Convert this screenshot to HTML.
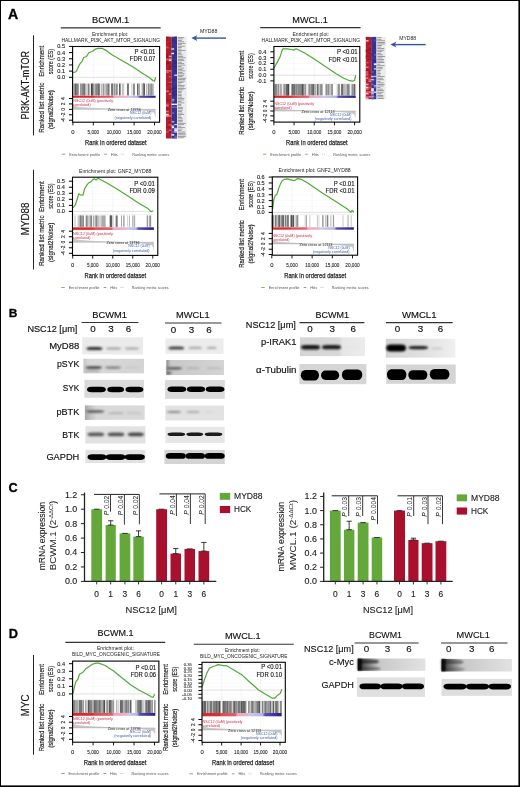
<!DOCTYPE html>
<html><head><meta charset="utf-8"><title>Figure</title>
<style>
html,body{margin:0;padding:0;background:#fff;}
body{width:520px;height:787px;overflow:hidden;}
svg{display:block;}
text{font-family:'Liberation Sans', sans-serif;}
</style></head>
<body>
<svg width="520" height="787" viewBox="0 0 520 787">
<defs>
<filter id="bl1" x="-20%" y="-100%" width="140%" height="300%"><feGaussianBlur stdDeviation="0.9"/></filter>
<filter id="bl2" x="-20%" y="-100%" width="140%" height="300%"><feGaussianBlur stdDeviation="0.5"/></filter>
<filter id="bl3" x="-20%" y="-20%" width="140%" height="140%"><feGaussianBlur stdDeviation="1.6"/></filter>
</defs>
<rect x="0" y="0" width="520" height="787" fill="#fff"/>
<text x="8.10" y="18.50" font-size="14.00" fill="#000" font-weight="bold" textLength="10.20" lengthAdjust="spacingAndGlyphs" stroke="#000" stroke-width="0.3">A</text>
<line x1="93.30" y1="47.50" x2="93.30" y2="83.00" stroke="#ececec" stroke-width="0.5" />
<line x1="93.30" y1="98.80" x2="93.30" y2="121.70" stroke="#f0f0f0" stroke-width="0.5" />
<line x1="113.70" y1="47.50" x2="113.70" y2="83.00" stroke="#ececec" stroke-width="0.5" />
<line x1="113.70" y1="98.80" x2="113.70" y2="121.70" stroke="#f0f0f0" stroke-width="0.5" />
<line x1="134.10" y1="47.50" x2="134.10" y2="83.00" stroke="#ececec" stroke-width="0.5" />
<line x1="134.10" y1="98.80" x2="134.10" y2="121.70" stroke="#f0f0f0" stroke-width="0.5" />
<line x1="72.60" y1="46.40" x2="155.60" y2="46.40" stroke="#f2f2f2" stroke-width="0.4" />
<line x1="72.60" y1="52.58" x2="155.60" y2="52.58" stroke="#f2f2f2" stroke-width="0.4" />
<line x1="72.60" y1="58.76" x2="155.60" y2="58.76" stroke="#f2f2f2" stroke-width="0.4" />
<line x1="72.60" y1="64.94" x2="155.60" y2="64.94" stroke="#f2f2f2" stroke-width="0.4" />
<line x1="72.60" y1="71.12" x2="155.60" y2="71.12" stroke="#f2f2f2" stroke-width="0.4" />
<line x1="72.60" y1="77.30" x2="155.60" y2="77.30" stroke="#f2f2f2" stroke-width="0.4" />
<line x1="72.60" y1="77.30" x2="155.60" y2="77.30" stroke="#d0d0d0" stroke-width="0.6" />
<line x1="72.60" y1="83.00" x2="155.60" y2="83.00" stroke="#e4e4e4" stroke-width="0.6" />
<line x1="92.58" y1="83.70" x2="92.58" y2="95.40" stroke="#999" stroke-width="0.76"/>
<line x1="112.10" y1="83.70" x2="112.10" y2="95.40" stroke="#222" stroke-width="0.76"/>
<line x1="111.71" y1="83.70" x2="111.71" y2="95.40" stroke="#777" stroke-width="0.80"/>
<line x1="111.79" y1="83.70" x2="111.79" y2="95.40" stroke="#555" stroke-width="0.53"/>
<line x1="144.11" y1="83.70" x2="144.11" y2="95.40" stroke="#666" stroke-width="0.74"/>
<line x1="128.43" y1="83.70" x2="128.43" y2="95.40" stroke="#222" stroke-width="0.49"/>
<line x1="75.46" y1="83.70" x2="75.46" y2="95.40" stroke="#555" stroke-width="0.62"/>
<line x1="149.00" y1="83.70" x2="149.00" y2="95.40" stroke="#aaa" stroke-width="0.53"/>
<line x1="139.14" y1="83.70" x2="139.14" y2="95.40" stroke="#666" stroke-width="0.75"/>
<line x1="80.96" y1="83.70" x2="80.96" y2="95.40" stroke="#777" stroke-width="0.47"/>
<line x1="143.63" y1="83.70" x2="143.63" y2="95.40" stroke="#aaa" stroke-width="0.61"/>
<line x1="117.07" y1="83.70" x2="117.07" y2="95.40" stroke="#777" stroke-width="0.76"/>
<line x1="128.41" y1="83.70" x2="128.41" y2="95.40" stroke="#999" stroke-width="0.78"/>
<line x1="131.93" y1="83.70" x2="131.93" y2="95.40" stroke="#888" stroke-width="0.48"/>
<line x1="78.15" y1="83.70" x2="78.15" y2="95.40" stroke="#555" stroke-width="0.39"/>
<line x1="139.11" y1="83.70" x2="139.11" y2="95.40" stroke="#666" stroke-width="0.36"/>
<line x1="108.22" y1="83.70" x2="108.22" y2="95.40" stroke="#444" stroke-width="0.37"/>
<line x1="123.72" y1="83.70" x2="123.72" y2="95.40" stroke="#999" stroke-width="0.60"/>
<line x1="149.14" y1="83.70" x2="149.14" y2="95.40" stroke="#777" stroke-width="0.80"/>
<line x1="98.51" y1="83.70" x2="98.51" y2="95.40" stroke="#222" stroke-width="0.78"/>
<line x1="153.24" y1="83.70" x2="153.24" y2="95.40" stroke="#888" stroke-width="0.42"/>
<line x1="76.41" y1="83.70" x2="76.41" y2="95.40" stroke="#999" stroke-width="0.51"/>
<line x1="84.34" y1="83.70" x2="84.34" y2="95.40" stroke="#aaa" stroke-width="0.56"/>
<line x1="114.83" y1="83.70" x2="114.83" y2="95.40" stroke="#777" stroke-width="0.77"/>
<line x1="109.08" y1="83.70" x2="109.08" y2="95.40" stroke="#888" stroke-width="0.60"/>
<line x1="73.85" y1="83.70" x2="73.85" y2="95.40" stroke="#999" stroke-width="0.36"/>
<line x1="77.87" y1="83.70" x2="77.87" y2="95.40" stroke="#555" stroke-width="0.51"/>
<line x1="95.97" y1="83.70" x2="95.97" y2="95.40" stroke="#222" stroke-width="0.78"/>
<line x1="74.66" y1="83.70" x2="74.66" y2="95.40" stroke="#555" stroke-width="0.48"/>
<line x1="122.64" y1="83.70" x2="122.64" y2="95.40" stroke="#666" stroke-width="0.49"/>
<line x1="103.43" y1="83.70" x2="103.43" y2="95.40" stroke="#888" stroke-width="0.70"/>
<line x1="81.57" y1="83.70" x2="81.57" y2="95.40" stroke="#666" stroke-width="0.49"/>
<line x1="91.30" y1="83.70" x2="91.30" y2="95.40" stroke="#777" stroke-width="0.50"/>
<line x1="80.92" y1="83.70" x2="80.92" y2="95.40" stroke="#999" stroke-width="0.65"/>
<line x1="91.46" y1="83.70" x2="91.46" y2="95.40" stroke="#666" stroke-width="0.39"/>
<line x1="134.27" y1="83.70" x2="134.27" y2="95.40" stroke="#555" stroke-width="0.47"/>
<line x1="137.99" y1="83.70" x2="137.99" y2="95.40" stroke="#777" stroke-width="0.49"/>
<line x1="144.33" y1="83.70" x2="144.33" y2="95.40" stroke="#444" stroke-width="0.71"/>
<line x1="101.45" y1="83.70" x2="101.45" y2="95.40" stroke="#888" stroke-width="0.58"/>
<line x1="143.19" y1="83.70" x2="143.19" y2="95.40" stroke="#aaa" stroke-width="0.48"/>
<line x1="119.90" y1="83.70" x2="119.90" y2="95.40" stroke="#aaa" stroke-width="0.42"/>
<line x1="73.29" y1="83.70" x2="73.29" y2="95.40" stroke="#aaa" stroke-width="0.60"/>
<line x1="75.57" y1="83.70" x2="75.57" y2="95.40" stroke="#888" stroke-width="0.59"/>
<line x1="82.82" y1="83.70" x2="82.82" y2="95.40" stroke="#222" stroke-width="0.76"/>
<line x1="120.61" y1="83.70" x2="120.61" y2="95.40" stroke="#444" stroke-width="0.43"/>
<line x1="97.70" y1="83.70" x2="97.70" y2="95.40" stroke="#aaa" stroke-width="0.37"/>
<line x1="148.41" y1="83.70" x2="148.41" y2="95.40" stroke="#666" stroke-width="0.46"/>
<line x1="144.16" y1="83.70" x2="144.16" y2="95.40" stroke="#222" stroke-width="0.51"/>
<line x1="89.22" y1="83.70" x2="89.22" y2="95.40" stroke="#444" stroke-width="0.43"/>
<line x1="73.52" y1="83.70" x2="73.52" y2="95.40" stroke="#aaa" stroke-width="0.37"/>
<line x1="95.34" y1="83.70" x2="95.34" y2="95.40" stroke="#aaa" stroke-width="0.37"/>
<line x1="99.62" y1="83.70" x2="99.62" y2="95.40" stroke="#222" stroke-width="0.70"/>
<line x1="76.72" y1="83.70" x2="76.72" y2="95.40" stroke="#555" stroke-width="0.79"/>
<line x1="143.56" y1="83.70" x2="143.56" y2="95.40" stroke="#555" stroke-width="0.49"/>
<line x1="98.92" y1="83.70" x2="98.92" y2="95.40" stroke="#aaa" stroke-width="0.61"/>
<line x1="102.74" y1="83.70" x2="102.74" y2="95.40" stroke="#999" stroke-width="0.54"/>
<line x1="83.45" y1="83.70" x2="83.45" y2="95.40" stroke="#aaa" stroke-width="0.71"/>
<line x1="119.77" y1="83.70" x2="119.77" y2="95.40" stroke="#555" stroke-width="0.62"/>
<line x1="137.62" y1="83.70" x2="137.62" y2="95.40" stroke="#222" stroke-width="0.63"/>
<line x1="108.59" y1="83.70" x2="108.59" y2="95.40" stroke="#555" stroke-width="0.69"/>
<line x1="98.95" y1="83.70" x2="98.95" y2="95.40" stroke="#aaa" stroke-width="0.56"/>
<line x1="93.17" y1="83.70" x2="93.17" y2="95.40" stroke="#444" stroke-width="0.71"/>
<line x1="91.46" y1="83.70" x2="91.46" y2="95.40" stroke="#222" stroke-width="0.77"/>
<line x1="103.85" y1="83.70" x2="103.85" y2="95.40" stroke="#888" stroke-width="0.40"/>
<line x1="116.75" y1="83.70" x2="116.75" y2="95.40" stroke="#444" stroke-width="0.68"/>
<line x1="119.53" y1="83.70" x2="119.53" y2="95.40" stroke="#222" stroke-width="0.56"/>
<line x1="92.41" y1="83.70" x2="92.41" y2="95.40" stroke="#444" stroke-width="0.60"/>
<line x1="127.42" y1="83.70" x2="127.42" y2="95.40" stroke="#222" stroke-width="0.50"/>
<line x1="143.39" y1="83.70" x2="143.39" y2="95.40" stroke="#444" stroke-width="0.65"/>
<line x1="75.90" y1="83.70" x2="75.90" y2="95.40" stroke="#777" stroke-width="0.40"/>
<line x1="77.96" y1="83.70" x2="77.96" y2="95.40" stroke="#666" stroke-width="0.72"/>
<line x1="92.92" y1="83.70" x2="92.92" y2="95.40" stroke="#777" stroke-width="0.55"/>
<line x1="93.81" y1="83.70" x2="93.81" y2="95.40" stroke="#999" stroke-width="0.60"/>
<line x1="152.81" y1="83.70" x2="152.81" y2="95.40" stroke="#777" stroke-width="0.79"/>
<line x1="107.04" y1="83.70" x2="107.04" y2="95.40" stroke="#666" stroke-width="0.54"/>
<line x1="85.82" y1="83.70" x2="85.82" y2="95.40" stroke="#666" stroke-width="0.42"/>
<line x1="114.08" y1="83.70" x2="114.08" y2="95.40" stroke="#555" stroke-width="0.61"/>
<line x1="143.87" y1="83.70" x2="143.87" y2="95.40" stroke="#777" stroke-width="0.42"/>
<line x1="143.32" y1="83.70" x2="143.32" y2="95.40" stroke="#888" stroke-width="0.65"/>
<line x1="146.45" y1="83.70" x2="146.45" y2="95.40" stroke="#888" stroke-width="0.57"/>
<line x1="104.55" y1="83.70" x2="104.55" y2="95.40" stroke="#999" stroke-width="0.46"/>
<line x1="112.81" y1="83.70" x2="112.81" y2="95.40" stroke="#aaa" stroke-width="0.80"/>
<line x1="112.56" y1="83.70" x2="112.56" y2="95.40" stroke="#555" stroke-width="0.61"/>
<line x1="75.20" y1="83.70" x2="75.20" y2="95.40" stroke="#444" stroke-width="0.74"/>
<line x1="106.00" y1="83.70" x2="106.00" y2="95.40" stroke="#222" stroke-width="0.56"/>
<line x1="91.89" y1="83.70" x2="91.89" y2="95.40" stroke="#444" stroke-width="0.78"/>
<line x1="143.52" y1="83.70" x2="143.52" y2="95.40" stroke="#777" stroke-width="0.70"/>
<line x1="84.27" y1="83.70" x2="84.27" y2="95.40" stroke="#222" stroke-width="0.75"/>
<line x1="93.99" y1="83.70" x2="93.99" y2="95.40" stroke="#999" stroke-width="0.43"/>
<line x1="80.42" y1="83.70" x2="80.42" y2="95.40" stroke="#444" stroke-width="0.39"/>
<line x1="141.87" y1="83.70" x2="141.87" y2="95.40" stroke="#999" stroke-width="0.55"/>
<line x1="133.61" y1="83.70" x2="133.61" y2="95.40" stroke="#222" stroke-width="0.50"/>
<line x1="108.98" y1="83.70" x2="108.98" y2="95.40" stroke="#777" stroke-width="0.64"/>
<line x1="134.29" y1="83.70" x2="134.29" y2="95.40" stroke="#666" stroke-width="0.59"/>
<line x1="82.76" y1="83.70" x2="82.76" y2="95.40" stroke="#aaa" stroke-width="0.40"/>
<line x1="80.91" y1="83.70" x2="80.91" y2="95.40" stroke="#999" stroke-width="0.66"/>
<line x1="103.37" y1="83.70" x2="103.37" y2="95.40" stroke="#888" stroke-width="0.40"/>
<line x1="151.01" y1="83.70" x2="151.01" y2="95.40" stroke="#444" stroke-width="0.65"/>
<line x1="114.97" y1="83.70" x2="114.97" y2="95.40" stroke="#888" stroke-width="0.66"/>
<line x1="119.74" y1="83.70" x2="119.74" y2="95.40" stroke="#666" stroke-width="0.43"/>
<line x1="83.08" y1="83.70" x2="83.08" y2="95.40" stroke="#666" stroke-width="0.76"/>
<line x1="107.65" y1="83.70" x2="107.65" y2="95.40" stroke="#666" stroke-width="0.56"/>
<line x1="98.74" y1="83.70" x2="98.74" y2="95.40" stroke="#444" stroke-width="0.40"/>
<line x1="87.89" y1="83.70" x2="87.89" y2="95.40" stroke="#aaa" stroke-width="0.51"/>
<line x1="94.89" y1="83.70" x2="94.89" y2="95.40" stroke="#666" stroke-width="0.37"/>
<line x1="114.64" y1="83.70" x2="114.64" y2="95.40" stroke="#999" stroke-width="0.74"/>
<line x1="151.06" y1="83.70" x2="151.06" y2="95.40" stroke="#444" stroke-width="0.51"/>
<line x1="142.94" y1="83.70" x2="142.94" y2="95.40" stroke="#888" stroke-width="0.62"/>
<line x1="148.15" y1="83.70" x2="148.15" y2="95.40" stroke="#777" stroke-width="0.61"/>
<line x1="128.32" y1="83.70" x2="128.32" y2="95.40" stroke="#666" stroke-width="0.62"/>
<line x1="85.01" y1="83.70" x2="85.01" y2="95.40" stroke="#777" stroke-width="0.60"/>
<line x1="86.99" y1="83.70" x2="86.99" y2="95.40" stroke="#888" stroke-width="0.52"/>
<line x1="97.13" y1="83.70" x2="97.13" y2="95.40" stroke="#555" stroke-width="0.75"/>
<line x1="151.41" y1="83.70" x2="151.41" y2="95.40" stroke="#888" stroke-width="0.64"/>
<line x1="97.66" y1="83.70" x2="97.66" y2="95.40" stroke="#555" stroke-width="0.36"/>
<line x1="88.65" y1="83.70" x2="88.65" y2="95.40" stroke="#444" stroke-width="0.70"/>
<line x1="127.64" y1="83.70" x2="127.64" y2="95.40" stroke="#555" stroke-width="0.44"/>
<line x1="137.58" y1="83.70" x2="137.58" y2="95.40" stroke="#555" stroke-width="0.40"/>
<line x1="96.33" y1="83.70" x2="96.33" y2="95.40" stroke="#666" stroke-width="0.41"/>
<line x1="77.09" y1="83.70" x2="77.09" y2="95.40" stroke="#777" stroke-width="0.58"/>
<linearGradient id="a1g" x1="0" x2="1" y1="0" y2="0"><stop offset="0" stop-color="#d42a30"/><stop offset="0.245" stop-color="#d83038"/><stop offset="0.270" stop-color="#dc4a52"/><stop offset="0.480" stop-color="#e06070"/><stop offset="0.500" stop-color="#e8a4c0"/><stop offset="0.650" stop-color="#eab0cc"/><stop offset="0.670" stop-color="#ccc8ec"/><stop offset="0.780" stop-color="#b4b2e2"/><stop offset="0.810" stop-color="#5a50b0"/><stop offset="1" stop-color="#2a1c88"/></linearGradient>
<rect x="72.90" y="95.70" width="82.70" height="2.10" fill="url(#a1g)" />
<polygon points="72.90,109.35 72.90,103.92 73.90,105.28 75.90,106.37 80.90,107.18 90.90,107.86 128.94,109.35 142.27,110.57 149.60,111.52 153.60,112.60 154.90,114.77 155.60,118.30 155.60,109.35" fill="#c8c8c8"/>
<line x1="72.90" y1="109.35" x2="155.60" y2="109.35" stroke="#9a9a9a" stroke-width="0.4" />
<polyline points="73.10,72.60 76.00,71.70 77.80,68.20 79.50,64.40 82.10,61.30 83.80,57.50 86.40,56.50 89.00,52.70 92.50,51.30 96.00,48.80 98.60,48.30 102.00,48.30 106.30,50.60 111.50,54.40 121.90,60.40 132.30,66.50 142.70,73.40 149.60,77.70 153.10,80.70 154.50,81.20 155.70,77.40" fill="none" stroke="#52a83a" stroke-width="1.2" stroke-linejoin="round"/>
<rect x="72.60" y="46.50" width="87.00" height="75.70" fill="none" stroke="#000" stroke-width="1.1"/>
<line x1="69.00" y1="46.40" x2="72.60" y2="46.40" stroke="#000" stroke-width="1.0" />
<text x="65.00" y="48.40" font-size="5.60" fill="#222" text-anchor="end" stroke="#222" stroke-width="0.12">0.5</text>
<line x1="69.00" y1="52.58" x2="72.60" y2="52.58" stroke="#000" stroke-width="1.0" />
<text x="65.00" y="54.58" font-size="5.60" fill="#222" text-anchor="end" stroke="#222" stroke-width="0.12">0.4</text>
<line x1="69.00" y1="58.76" x2="72.60" y2="58.76" stroke="#000" stroke-width="1.0" />
<text x="65.00" y="60.76" font-size="5.60" fill="#222" text-anchor="end" stroke="#222" stroke-width="0.12">0.3</text>
<line x1="69.00" y1="64.94" x2="72.60" y2="64.94" stroke="#000" stroke-width="1.0" />
<text x="65.00" y="66.94" font-size="5.60" fill="#222" text-anchor="end" stroke="#222" stroke-width="0.12">0.2</text>
<line x1="69.00" y1="71.12" x2="72.60" y2="71.12" stroke="#000" stroke-width="1.0" />
<text x="65.00" y="73.12" font-size="5.60" fill="#222" text-anchor="end" stroke="#222" stroke-width="0.12">0.1</text>
<line x1="69.00" y1="77.30" x2="72.60" y2="77.30" stroke="#000" stroke-width="1.0" />
<text x="65.00" y="79.30" font-size="5.60" fill="#222" text-anchor="end" stroke="#222" stroke-width="0.12">0.0</text>
<line x1="69.00" y1="98.50" x2="72.60" y2="98.50" stroke="#000" stroke-width="1.0" />
<text transform="translate(65.20,98.50) rotate(-90)" font-size="4.8" fill="#222" stroke="#222" stroke-width="0.1" text-anchor="middle">4</text>
<line x1="69.00" y1="103.92" x2="72.60" y2="103.92" stroke="#000" stroke-width="1.0" />
<text transform="translate(65.20,103.92) rotate(-90)" font-size="4.8" fill="#222" stroke="#222" stroke-width="0.1" text-anchor="middle">2</text>
<line x1="69.00" y1="109.35" x2="72.60" y2="109.35" stroke="#000" stroke-width="1.0" />
<text transform="translate(65.20,109.35) rotate(-90)" font-size="4.8" fill="#222" stroke="#222" stroke-width="0.1" text-anchor="middle">0</text>
<line x1="69.00" y1="114.78" x2="72.60" y2="114.78" stroke="#000" stroke-width="1.0" />
<text transform="translate(65.20,114.78) rotate(-90)" font-size="4.8" fill="#222" stroke="#222" stroke-width="0.1" text-anchor="middle">-2</text>
<line x1="69.00" y1="120.20" x2="72.60" y2="120.20" stroke="#000" stroke-width="1.0" />
<text transform="translate(65.20,120.20) rotate(-90)" font-size="4.8" fill="#222" stroke="#222" stroke-width="0.1" text-anchor="middle">-4</text>
<line x1="72.90" y1="122.20" x2="72.90" y2="125.40" stroke="#000" stroke-width="0.9" />
<text x="72.90" y="133.90" font-size="5.90" fill="#222" text-anchor="middle" stroke="#222" stroke-width="0.1">0</text>
<line x1="93.30" y1="122.20" x2="93.30" y2="125.40" stroke="#000" stroke-width="0.9" />
<text x="87.60" y="133.90" font-size="5.90" fill="#222" textLength="11.40" lengthAdjust="spacingAndGlyphs" stroke="#222" stroke-width="0.1">5,000</text>
<line x1="113.70" y1="122.20" x2="113.70" y2="125.40" stroke="#000" stroke-width="0.9" />
<text x="106.70" y="133.90" font-size="5.90" fill="#222" textLength="14.00" lengthAdjust="spacingAndGlyphs" stroke="#222" stroke-width="0.1">10,000</text>
<line x1="134.10" y1="122.20" x2="134.10" y2="125.40" stroke="#000" stroke-width="0.9" />
<text x="127.10" y="133.90" font-size="5.90" fill="#222" textLength="14.00" lengthAdjust="spacingAndGlyphs" stroke="#222" stroke-width="0.1">15,000</text>
<line x1="154.50" y1="122.20" x2="154.50" y2="125.40" stroke="#000" stroke-width="0.9" />
<text x="147.30" y="133.90" font-size="5.90" fill="#222" textLength="14.40" lengthAdjust="spacingAndGlyphs" stroke="#222" stroke-width="0.1">20,000</text>
<text x="73.30" y="101.80" font-size="3.80" fill="#cc2a48" textLength="39.80" lengthAdjust="spacingAndGlyphs">NSC12 (0uM) (positively</text>
<text x="73.30" y="106.10" font-size="3.80" fill="#cc2a48" textLength="17.30" lengthAdjust="spacingAndGlyphs">correlated)</text>
<text x="107.74" y="110.95" font-size="3.80" fill="#222" textLength="33.00" lengthAdjust="spacingAndGlyphs">Zero cross at 13736</text>
<text x="151.30" y="114.35" font-size="3.80" fill="#3c5aa8" text-anchor="end" textLength="21.30" lengthAdjust="spacingAndGlyphs">NSC12 (0uM)</text>
<text x="151.30" y="118.75" font-size="3.80" fill="#3c5aa8" text-anchor="end" textLength="36.70" lengthAdjust="spacingAndGlyphs">(negatively correlated)</text>
<text x="155.30" y="53.90" font-size="6.80" fill="#111" text-anchor="end" textLength="20.72" lengthAdjust="spacingAndGlyphs" stroke="#111" stroke-width="0.12">P &lt;0.01</text>
<text x="155.30" y="61.40" font-size="6.80" fill="#111" text-anchor="end" textLength="25.52" lengthAdjust="spacingAndGlyphs" stroke="#111" stroke-width="0.12">FDR 0.07</text>
<text x="85.00" y="144.60" font-size="7.90" fill="#222" textLength="61.70" lengthAdjust="spacingAndGlyphs" stroke="#222" stroke-width="0.25">Rank in ordered dataset</text>
<line x1="61.90" y1="154.20" x2="65.40" y2="154.20" stroke="#52a83a" stroke-width="0.8" />
<text x="69.30" y="155.60" font-size="4.30" fill="#555" textLength="30.80" lengthAdjust="spacingAndGlyphs">Enrichment profile</text>
<line x1="104.20" y1="154.20" x2="106.90" y2="154.20" stroke="#555" stroke-width="0.6" />
<text x="110.80" y="155.60" font-size="4.30" fill="#555" textLength="7.00" lengthAdjust="spacingAndGlyphs">Hits</text>
<line x1="120.80" y1="154.20" x2="122.10" y2="154.20" stroke="#aaa" stroke-width="0.6" />
<line x1="122.90" y1="154.20" x2="124.20" y2="154.20" stroke="#aaa" stroke-width="0.6" />
<text x="132.30" y="155.60" font-size="4.30" fill="#555" textLength="37.00" lengthAdjust="spacingAndGlyphs">Ranking metric scores</text>
<text x="91.90" y="35.80" font-size="4.50" fill="#222" textLength="36.50" lengthAdjust="spacingAndGlyphs">Enrichment plot:</text>
<text x="61.50" y="41.60" font-size="4.70" fill="#222" textLength="98.50" lengthAdjust="spacingAndGlyphs">HALLMARK_PI3K_AKT_MTOR_SIGNALING</text>
<text transform="translate(44.10,76.80) rotate(-90)" font-size="8.00" fill="#222" textLength="31.10" lengthAdjust="spacingAndGlyphs" stroke="#222" stroke-width="0.18">Enrichment</text>
<text transform="translate(52.50,74.30) rotate(-90)" font-size="8.00" fill="#222" textLength="25.40" lengthAdjust="spacingAndGlyphs" stroke="#222" stroke-width="0.18">score (ES)</text>
<text transform="translate(44.10,132.80) rotate(-90)" font-size="8.00" fill="#222" textLength="50.20" lengthAdjust="spacingAndGlyphs" stroke="#222" stroke-width="0.18">Ranked list metric</text>
<text transform="translate(52.50,129.00) rotate(-90)" font-size="8.00" fill="#222" textLength="38.80" lengthAdjust="spacingAndGlyphs" stroke="#222" stroke-width="0.18">(signal2Noise)</text>
<text x="91.90" y="22.70" font-size="9.60" fill="#111" textLength="37.40" lengthAdjust="spacingAndGlyphs" stroke="#111" stroke-width="0.15">BCWM.1</text>
<line x1="60.80" y1="27.80" x2="160.70" y2="27.80" stroke="#333" stroke-width="1.2" />
<line x1="33.50" y1="35.30" x2="33.50" y2="135.40" stroke="#222" stroke-width="1.0" />
<text transform="translate(29.00,119.60) rotate(-90)" font-size="10.60" fill="#111" textLength="68.70" lengthAdjust="spacingAndGlyphs" stroke="#111" stroke-width="0.15">PI3K-AKT-mTOR</text>
<rect x="166.00" y="36.70" width="5.50" height="101.80" fill="#b41e2a" />
<rect x="171.50" y="36.70" width="5.50" height="101.80" fill="#36348e" />
<rect x="166.00" y="36.70" width="2.75" height="1.45" fill="#a01420" />
<rect x="174.25" y="36.70" width="2.75" height="1.45" fill="#302e88" />
<rect x="168.75" y="38.15" width="2.75" height="1.45" fill="#bc2028" />
<rect x="174.25" y="38.15" width="2.75" height="1.45" fill="#3a3896" />
<rect x="171.50" y="39.61" width="2.75" height="1.45" fill="#302e88" />
<rect x="166.00" y="41.06" width="2.75" height="1.45" fill="#c42630" />
<rect x="168.75" y="41.06" width="2.75" height="1.45" fill="#c42630" />
<rect x="174.25" y="41.06" width="2.75" height="1.45" fill="#2c2a80" />
<rect x="168.75" y="42.52" width="2.75" height="1.45" fill="#a8141e" />
<rect x="166.00" y="45.43" width="2.75" height="1.45" fill="#c42630" />
<rect x="168.75" y="45.43" width="2.75" height="1.45" fill="#a8141e" />
<rect x="166.00" y="46.88" width="2.75" height="1.45" fill="#d05060" />
<rect x="168.75" y="46.88" width="2.75" height="1.45" fill="#bc2028" />
<rect x="174.25" y="46.88" width="2.75" height="1.45" fill="#3a3896" />
<rect x="171.50" y="48.33" width="2.75" height="1.45" fill="#f0f0fc" />
<rect x="174.25" y="48.33" width="2.75" height="1.45" fill="#302e88" />
<rect x="171.50" y="49.79" width="2.75" height="1.45" fill="#3a3896" />
<rect x="174.25" y="49.79" width="2.75" height="1.45" fill="#403e9a" />
<rect x="166.00" y="51.24" width="2.75" height="1.45" fill="#bc2028" />
<rect x="171.50" y="51.24" width="2.75" height="1.45" fill="#302e88" />
<rect x="174.25" y="51.24" width="2.75" height="1.45" fill="#2c2a80" />
<rect x="171.50" y="52.70" width="2.75" height="1.45" fill="#ffffff" />
<rect x="174.25" y="52.70" width="2.75" height="1.45" fill="#2c2a80" />
<rect x="166.00" y="54.15" width="2.75" height="1.45" fill="#a8141e" />
<rect x="174.25" y="54.15" width="2.75" height="1.45" fill="#302e88" />
<rect x="166.00" y="55.61" width="2.75" height="1.45" fill="#a01420" />
<rect x="168.75" y="55.61" width="2.75" height="1.45" fill="#e0a0b0" />
<rect x="174.25" y="55.61" width="2.75" height="1.45" fill="#3a3896" />
<rect x="166.00" y="57.06" width="2.75" height="1.45" fill="#a01420" />
<rect x="166.00" y="58.51" width="2.75" height="1.45" fill="#d86070" />
<rect x="171.50" y="58.51" width="2.75" height="1.45" fill="#403e9a" />
<rect x="168.75" y="58.51" width="2.75" height="1.45" fill="#e0a0b0" />
<rect x="174.25" y="58.51" width="2.75" height="1.45" fill="#403e9a" />
<rect x="166.00" y="59.97" width="2.75" height="1.45" fill="#c42630" />
<rect x="171.50" y="59.97" width="2.75" height="1.45" fill="#2c2a80" />
<rect x="168.75" y="59.97" width="2.75" height="1.45" fill="#f4e0e4" />
<rect x="174.25" y="59.97" width="2.75" height="1.45" fill="#302e88" />
<rect x="166.00" y="61.42" width="2.75" height="1.45" fill="#a01420" />
<rect x="168.75" y="61.42" width="2.75" height="1.45" fill="#a01420" />
<rect x="174.25" y="61.42" width="2.75" height="1.45" fill="#2c2a80" />
<rect x="166.00" y="62.88" width="2.75" height="1.45" fill="#a8141e" />
<rect x="168.75" y="62.88" width="2.75" height="1.45" fill="#a8141e" />
<rect x="174.25" y="62.88" width="2.75" height="1.45" fill="#2c2a80" />
<rect x="171.50" y="64.33" width="2.75" height="1.45" fill="#302e88" />
<rect x="174.25" y="64.33" width="2.75" height="1.45" fill="#3a3896" />
<rect x="166.00" y="65.79" width="2.75" height="1.45" fill="#bc2028" />
<rect x="171.50" y="65.79" width="2.75" height="1.45" fill="#302e88" />
<rect x="168.75" y="65.79" width="2.75" height="1.45" fill="#a01420" />
<rect x="174.25" y="65.79" width="2.75" height="1.45" fill="#2c2a80" />
<rect x="168.75" y="67.24" width="2.75" height="1.45" fill="#a01420" />
<rect x="168.75" y="68.69" width="2.75" height="1.45" fill="#a8141e" />
<rect x="166.00" y="70.15" width="2.75" height="1.45" fill="#e07888" />
<rect x="171.50" y="70.15" width="2.75" height="1.45" fill="#3a3896" />
<rect x="168.75" y="70.15" width="2.75" height="1.45" fill="#e07888" />
<rect x="174.25" y="70.15" width="2.75" height="1.45" fill="#2c2a80" />
<rect x="166.00" y="71.60" width="2.75" height="1.45" fill="#d86070" />
<rect x="168.75" y="73.06" width="2.75" height="1.45" fill="#c42630" />
<rect x="166.00" y="74.51" width="2.75" height="1.45" fill="#bc2028" />
<rect x="174.25" y="74.51" width="2.75" height="1.45" fill="#c8ccf0" />
<rect x="166.00" y="75.97" width="2.75" height="1.45" fill="#bc2028" />
<rect x="171.50" y="75.97" width="2.75" height="1.45" fill="#3a3896" />
<rect x="168.75" y="75.97" width="2.75" height="1.45" fill="#d05060" />
<rect x="174.25" y="75.97" width="2.75" height="1.45" fill="#3a3896" />
<rect x="171.50" y="78.87" width="2.75" height="1.45" fill="#302e88" />
<rect x="166.00" y="80.33" width="2.75" height="1.45" fill="#c42630" />
<rect x="166.00" y="81.78" width="2.75" height="1.45" fill="#c42630" />
<rect x="168.75" y="81.78" width="2.75" height="1.45" fill="#d05060" />
<rect x="174.25" y="81.78" width="2.75" height="1.45" fill="#403e9a" />
<rect x="168.75" y="83.24" width="2.75" height="1.45" fill="#a01420" />
<rect x="174.25" y="83.24" width="2.75" height="1.45" fill="#3a3896" />
<rect x="168.75" y="84.69" width="2.75" height="1.45" fill="#c42630" />
<rect x="166.00" y="86.15" width="2.75" height="1.45" fill="#c42630" />
<rect x="166.00" y="87.60" width="2.75" height="1.45" fill="#c42630" />
<rect x="171.50" y="87.60" width="2.75" height="1.45" fill="#2c2a80" />
<rect x="174.25" y="87.60" width="2.75" height="1.45" fill="#2c2a80" />
<rect x="171.50" y="89.05" width="2.75" height="1.45" fill="#302e88" />
<rect x="168.75" y="89.05" width="2.75" height="1.45" fill="#a8141e" />
<rect x="174.25" y="89.05" width="2.75" height="1.45" fill="#403e9a" />
<rect x="166.00" y="90.51" width="2.75" height="1.45" fill="#e07888" />
<rect x="174.25" y="90.51" width="2.75" height="1.45" fill="#2c2a80" />
<rect x="166.00" y="91.96" width="2.75" height="1.45" fill="#bc2028" />
<rect x="171.50" y="91.96" width="2.75" height="1.45" fill="#2c2a80" />
<rect x="168.75" y="91.96" width="2.75" height="1.45" fill="#c42630" />
<rect x="171.50" y="93.42" width="2.75" height="1.45" fill="#2c2a80" />
<rect x="168.75" y="93.42" width="2.75" height="1.45" fill="#e07888" />
<rect x="174.25" y="93.42" width="2.75" height="1.45" fill="#2c2a80" />
<rect x="171.50" y="94.87" width="2.75" height="1.45" fill="#302e88" />
<rect x="168.75" y="96.33" width="2.75" height="1.45" fill="#c42630" />
<rect x="174.25" y="96.33" width="2.75" height="1.45" fill="#3a3896" />
<rect x="171.50" y="97.78" width="2.75" height="1.45" fill="#403e9a" />
<rect x="168.75" y="97.78" width="2.75" height="1.45" fill="#c42630" />
<rect x="166.00" y="99.23" width="2.75" height="1.45" fill="#a8141e" />
<rect x="171.50" y="99.23" width="2.75" height="1.45" fill="#b0b8e8" />
<rect x="168.75" y="99.23" width="2.75" height="1.45" fill="#a8141e" />
<rect x="171.50" y="100.69" width="2.75" height="1.45" fill="#5060b8" />
<rect x="174.25" y="102.14" width="2.75" height="1.45" fill="#302e88" />
<rect x="166.00" y="103.60" width="2.75" height="1.45" fill="#d05060" />
<rect x="171.50" y="103.60" width="2.75" height="1.45" fill="#ffffff" />
<rect x="174.25" y="103.60" width="2.75" height="1.45" fill="#f0f0fc" />
<rect x="166.00" y="105.05" width="2.75" height="1.45" fill="#e07888" />
<rect x="171.50" y="106.51" width="2.75" height="1.45" fill="#6070c0" />
<rect x="174.25" y="106.51" width="2.75" height="1.45" fill="#6070c0" />
<rect x="166.00" y="107.96" width="2.75" height="1.45" fill="#a01420" />
<rect x="166.00" y="109.41" width="2.75" height="1.45" fill="#bc2028" />
<rect x="174.25" y="109.41" width="2.75" height="1.45" fill="#3a3896" />
<rect x="166.00" y="110.87" width="2.75" height="1.45" fill="#e07888" />
<rect x="171.50" y="112.32" width="2.75" height="1.45" fill="#6070c0" />
<rect x="174.25" y="112.32" width="2.75" height="1.45" fill="#3a3896" />
<rect x="166.00" y="113.78" width="2.75" height="1.45" fill="#f4e0e4" />
<rect x="166.00" y="115.23" width="2.75" height="1.45" fill="#e8b8c0" />
<rect x="171.50" y="115.23" width="2.75" height="1.45" fill="#3a3896" />
<rect x="168.75" y="115.23" width="2.75" height="1.45" fill="#e07888" />
<rect x="168.75" y="118.14" width="2.75" height="1.45" fill="#a01420" />
<rect x="168.75" y="119.59" width="2.75" height="1.45" fill="#bc2028" />
<rect x="171.50" y="121.05" width="2.75" height="1.45" fill="#b0b8e8" />
<rect x="168.75" y="121.05" width="2.75" height="1.45" fill="#a01420" />
<rect x="168.75" y="122.50" width="2.75" height="1.45" fill="#a8141e" />
<rect x="168.75" y="123.96" width="2.75" height="1.45" fill="#d05060" />
<rect x="174.25" y="123.96" width="2.75" height="1.45" fill="#c8ccf0" />
<rect x="171.50" y="125.41" width="2.75" height="1.45" fill="#c8ccf0" />
<rect x="174.25" y="125.41" width="2.75" height="1.45" fill="#3a3896" />
<rect x="166.00" y="126.87" width="2.75" height="1.45" fill="#a8141e" />
<rect x="171.50" y="126.87" width="2.75" height="1.45" fill="#ffffff" />
<rect x="168.75" y="126.87" width="2.75" height="1.45" fill="#a01420" />
<rect x="174.25" y="126.87" width="2.75" height="1.45" fill="#4250b0" />
<rect x="166.00" y="128.32" width="2.75" height="1.45" fill="#bc2028" />
<rect x="171.50" y="128.32" width="2.75" height="1.45" fill="#4250b0" />
<rect x="174.25" y="128.32" width="2.75" height="1.45" fill="#ffffff" />
<rect x="168.75" y="129.77" width="2.75" height="1.45" fill="#d86070" />
<rect x="174.25" y="129.77" width="2.75" height="1.45" fill="#f0f0fc" />
<rect x="166.00" y="131.23" width="2.75" height="1.45" fill="#d05060" />
<rect x="171.50" y="131.23" width="2.75" height="1.45" fill="#6070c0" />
<rect x="168.75" y="131.23" width="2.75" height="1.45" fill="#a01420" />
<rect x="174.25" y="131.23" width="2.75" height="1.45" fill="#c8ccf0" />
<rect x="171.50" y="134.14" width="2.75" height="1.45" fill="#ffffff" />
<rect x="174.25" y="135.59" width="2.75" height="1.45" fill="#5060b8" />
<rect x="174.25" y="137.05" width="2.75" height="1.45" fill="#6070c0" />
<rect x="177.00" y="36.70" width="9.70" height="101.80" fill="#ececec" />
<rect x="177.80" y="37.14" width="6.32" height="0.65" fill="#7a7a7a"/>
<rect x="177.80" y="38.59" width="4.86" height="0.65" fill="#7a7a7a"/>
<rect x="177.80" y="40.04" width="3.99" height="0.65" fill="#7a7a7a"/>
<rect x="177.80" y="41.50" width="6.19" height="0.65" fill="#7a7a7a"/>
<rect x="177.80" y="42.95" width="7.69" height="0.65" fill="#7a7a7a"/>
<rect x="177.80" y="44.41" width="4.06" height="0.65" fill="#7a7a7a"/>
<rect x="177.80" y="45.86" width="7.11" height="0.65" fill="#7a7a7a"/>
<rect x="177.80" y="47.32" width="4.06" height="0.65" fill="#7a7a7a"/>
<rect x="177.80" y="48.77" width="3.55" height="0.65" fill="#7a7a7a"/>
<rect x="177.80" y="50.22" width="7.69" height="0.65" fill="#7a7a7a"/>
<rect x="177.80" y="51.68" width="3.74" height="0.65" fill="#7a7a7a"/>
<rect x="177.80" y="53.13" width="3.51" height="0.65" fill="#7a7a7a"/>
<rect x="177.80" y="54.59" width="5.07" height="0.65" fill="#7a7a7a"/>
<rect x="177.80" y="56.04" width="5.31" height="0.65" fill="#7a7a7a"/>
<rect x="177.80" y="57.50" width="7.96" height="0.65" fill="#7a7a7a"/>
<rect x="177.80" y="58.95" width="5.88" height="0.65" fill="#7a7a7a"/>
<rect x="177.80" y="60.40" width="6.72" height="0.65" fill="#7a7a7a"/>
<rect x="177.80" y="61.86" width="4.09" height="0.65" fill="#7a7a7a"/>
<rect x="177.80" y="63.31" width="6.32" height="0.65" fill="#7a7a7a"/>
<rect x="177.80" y="64.77" width="7.22" height="0.65" fill="#7a7a7a"/>
<rect x="177.80" y="66.22" width="3.55" height="0.65" fill="#7a7a7a"/>
<rect x="177.80" y="67.68" width="6.02" height="0.65" fill="#7a7a7a"/>
<rect x="177.80" y="69.13" width="4.91" height="0.65" fill="#7a7a7a"/>
<rect x="177.80" y="70.58" width="7.33" height="0.65" fill="#7a7a7a"/>
<rect x="177.80" y="72.04" width="4.93" height="0.65" fill="#7a7a7a"/>
<rect x="177.80" y="73.49" width="6.72" height="0.65" fill="#7a7a7a"/>
<rect x="177.80" y="74.95" width="6.36" height="0.65" fill="#7a7a7a"/>
<rect x="177.80" y="76.40" width="4.84" height="0.65" fill="#7a7a7a"/>
<rect x="177.80" y="77.86" width="8.26" height="0.65" fill="#7a7a7a"/>
<rect x="177.80" y="79.31" width="7.39" height="0.65" fill="#7a7a7a"/>
<rect x="177.80" y="80.76" width="7.24" height="0.65" fill="#7a7a7a"/>
<rect x="177.80" y="82.22" width="5.56" height="0.65" fill="#7a7a7a"/>
<rect x="177.80" y="83.67" width="3.17" height="0.65" fill="#7a7a7a"/>
<rect x="177.80" y="85.13" width="7.02" height="0.65" fill="#7a7a7a"/>
<rect x="177.80" y="86.58" width="6.25" height="0.65" fill="#7a7a7a"/>
<rect x="177.80" y="88.04" width="7.77" height="0.65" fill="#7a7a7a"/>
<rect x="177.80" y="89.49" width="5.56" height="0.65" fill="#7a7a7a"/>
<rect x="177.80" y="90.94" width="4.03" height="0.65" fill="#7a7a7a"/>
<rect x="177.80" y="92.40" width="3.65" height="0.65" fill="#7a7a7a"/>
<rect x="177.80" y="93.85" width="3.95" height="0.65" fill="#7a7a7a"/>
<rect x="177.80" y="95.31" width="3.87" height="0.65" fill="#7a7a7a"/>
<rect x="177.80" y="96.76" width="4.52" height="0.65" fill="#7a7a7a"/>
<rect x="177.80" y="98.22" width="6.56" height="0.65" fill="#7a7a7a"/>
<rect x="177.80" y="99.67" width="6.07" height="0.65" fill="#7a7a7a"/>
<rect x="177.80" y="101.12" width="3.75" height="0.65" fill="#7a7a7a"/>
<rect x="177.80" y="102.58" width="6.60" height="0.65" fill="#7a7a7a"/>
<rect x="177.80" y="104.03" width="3.45" height="0.65" fill="#7a7a7a"/>
<rect x="177.80" y="105.49" width="3.55" height="0.65" fill="#7a7a7a"/>
<rect x="177.80" y="106.94" width="5.09" height="0.65" fill="#7a7a7a"/>
<rect x="177.80" y="108.40" width="5.27" height="0.65" fill="#7a7a7a"/>
<rect x="177.80" y="109.85" width="4.90" height="0.65" fill="#7a7a7a"/>
<rect x="177.80" y="111.30" width="4.14" height="0.65" fill="#7a7a7a"/>
<rect x="177.80" y="112.76" width="4.99" height="0.65" fill="#7a7a7a"/>
<rect x="177.80" y="114.21" width="6.35" height="0.65" fill="#7a7a7a"/>
<rect x="177.80" y="115.67" width="3.26" height="0.65" fill="#7a7a7a"/>
<rect x="177.80" y="117.12" width="4.09" height="0.65" fill="#7a7a7a"/>
<rect x="177.80" y="118.58" width="5.17" height="0.65" fill="#7a7a7a"/>
<rect x="177.80" y="120.03" width="4.92" height="0.65" fill="#7a7a7a"/>
<rect x="177.80" y="121.48" width="4.98" height="0.65" fill="#7a7a7a"/>
<rect x="177.80" y="122.94" width="7.86" height="0.65" fill="#7a7a7a"/>
<rect x="177.80" y="124.39" width="6.20" height="0.65" fill="#7a7a7a"/>
<rect x="177.80" y="125.85" width="3.54" height="0.65" fill="#7a7a7a"/>
<rect x="177.80" y="127.30" width="7.18" height="0.65" fill="#7a7a7a"/>
<rect x="177.80" y="128.76" width="4.73" height="0.65" fill="#7a7a7a"/>
<rect x="177.80" y="130.21" width="3.49" height="0.65" fill="#7a7a7a"/>
<rect x="177.80" y="131.66" width="7.44" height="0.65" fill="#7a7a7a"/>
<rect x="177.80" y="133.12" width="7.62" height="0.65" fill="#7a7a7a"/>
<rect x="177.80" y="134.57" width="7.79" height="0.65" fill="#7a7a7a"/>
<rect x="177.80" y="136.03" width="7.95" height="0.65" fill="#7a7a7a"/>
<rect x="177.80" y="137.48" width="6.02" height="0.65" fill="#7a7a7a"/>
<text x="200.00" y="33.40" font-size="4.60" fill="#222" textLength="17.30" lengthAdjust="spacingAndGlyphs">MYD88</text>
<line x1="195.80" y1="38.10" x2="226.00" y2="38.10" stroke="#35569a" stroke-width="1.4" />
<polygon points="191.30,38.10 197.30,35.30 195.90,38.10 197.30,40.90" fill="#35569a"/>
<line x1="294.07" y1="47.50" x2="294.07" y2="83.40" stroke="#ececec" stroke-width="0.5" />
<line x1="294.07" y1="98.90" x2="294.07" y2="121.60" stroke="#f0f0f0" stroke-width="0.5" />
<line x1="314.25" y1="47.50" x2="314.25" y2="83.40" stroke="#ececec" stroke-width="0.5" />
<line x1="314.25" y1="98.90" x2="314.25" y2="121.60" stroke="#f0f0f0" stroke-width="0.5" />
<line x1="334.43" y1="47.50" x2="334.43" y2="83.40" stroke="#ececec" stroke-width="0.5" />
<line x1="334.43" y1="98.90" x2="334.43" y2="121.60" stroke="#f0f0f0" stroke-width="0.5" />
<line x1="273.90" y1="51.80" x2="355.70" y2="51.80" stroke="#f2f2f2" stroke-width="0.4" />
<line x1="273.90" y1="57.62" x2="355.70" y2="57.62" stroke="#f2f2f2" stroke-width="0.4" />
<line x1="273.90" y1="63.44" x2="355.70" y2="63.44" stroke="#f2f2f2" stroke-width="0.4" />
<line x1="273.90" y1="69.26" x2="355.70" y2="69.26" stroke="#f2f2f2" stroke-width="0.4" />
<line x1="273.90" y1="75.08" x2="355.70" y2="75.08" stroke="#f2f2f2" stroke-width="0.4" />
<line x1="273.90" y1="80.90" x2="355.70" y2="80.90" stroke="#f2f2f2" stroke-width="0.4" />
<line x1="273.90" y1="75.20" x2="355.70" y2="75.20" stroke="#d0d0d0" stroke-width="0.6" />
<line x1="273.90" y1="83.40" x2="355.70" y2="83.40" stroke="#e4e4e4" stroke-width="0.6" />
<line x1="276.27" y1="84.10" x2="276.27" y2="95.40" stroke="#777" stroke-width="0.64"/>
<line x1="347.59" y1="84.10" x2="347.59" y2="95.40" stroke="#555" stroke-width="0.74"/>
<line x1="305.05" y1="84.10" x2="305.05" y2="95.40" stroke="#777" stroke-width="0.36"/>
<line x1="291.63" y1="84.10" x2="291.63" y2="95.40" stroke="#aaa" stroke-width="0.42"/>
<line x1="339.11" y1="84.10" x2="339.11" y2="95.40" stroke="#555" stroke-width="0.41"/>
<line x1="274.05" y1="84.10" x2="274.05" y2="95.40" stroke="#777" stroke-width="0.70"/>
<line x1="352.44" y1="84.10" x2="352.44" y2="95.40" stroke="#666" stroke-width="0.48"/>
<line x1="352.55" y1="84.10" x2="352.55" y2="95.40" stroke="#777" stroke-width="0.43"/>
<line x1="353.13" y1="84.10" x2="353.13" y2="95.40" stroke="#aaa" stroke-width="0.48"/>
<line x1="303.45" y1="84.10" x2="303.45" y2="95.40" stroke="#666" stroke-width="0.47"/>
<line x1="301.05" y1="84.10" x2="301.05" y2="95.40" stroke="#222" stroke-width="0.62"/>
<line x1="331.79" y1="84.10" x2="331.79" y2="95.40" stroke="#999" stroke-width="0.72"/>
<line x1="313.22" y1="84.10" x2="313.22" y2="95.40" stroke="#555" stroke-width="0.56"/>
<line x1="288.31" y1="84.10" x2="288.31" y2="95.40" stroke="#222" stroke-width="0.78"/>
<line x1="303.16" y1="84.10" x2="303.16" y2="95.40" stroke="#aaa" stroke-width="0.51"/>
<line x1="321.22" y1="84.10" x2="321.22" y2="95.40" stroke="#222" stroke-width="0.67"/>
<line x1="283.64" y1="84.10" x2="283.64" y2="95.40" stroke="#555" stroke-width="0.50"/>
<line x1="302.92" y1="84.10" x2="302.92" y2="95.40" stroke="#555" stroke-width="0.40"/>
<line x1="344.22" y1="84.10" x2="344.22" y2="95.40" stroke="#444" stroke-width="0.44"/>
<line x1="315.85" y1="84.10" x2="315.85" y2="95.40" stroke="#666" stroke-width="0.50"/>
<line x1="349.50" y1="84.10" x2="349.50" y2="95.40" stroke="#888" stroke-width="0.66"/>
<line x1="298.94" y1="84.10" x2="298.94" y2="95.40" stroke="#666" stroke-width="0.67"/>
<line x1="299.20" y1="84.10" x2="299.20" y2="95.40" stroke="#222" stroke-width="0.39"/>
<line x1="276.50" y1="84.10" x2="276.50" y2="95.40" stroke="#999" stroke-width="0.72"/>
<line x1="311.17" y1="84.10" x2="311.17" y2="95.40" stroke="#222" stroke-width="0.79"/>
<line x1="301.24" y1="84.10" x2="301.24" y2="95.40" stroke="#666" stroke-width="0.63"/>
<line x1="338.36" y1="84.10" x2="338.36" y2="95.40" stroke="#aaa" stroke-width="0.52"/>
<line x1="278.71" y1="84.10" x2="278.71" y2="95.40" stroke="#666" stroke-width="0.55"/>
<line x1="353.74" y1="84.10" x2="353.74" y2="95.40" stroke="#555" stroke-width="0.66"/>
<line x1="299.89" y1="84.10" x2="299.89" y2="95.40" stroke="#555" stroke-width="0.53"/>
<line x1="285.88" y1="84.10" x2="285.88" y2="95.40" stroke="#666" stroke-width="0.63"/>
<line x1="314.74" y1="84.10" x2="314.74" y2="95.40" stroke="#444" stroke-width="0.57"/>
<line x1="316.04" y1="84.10" x2="316.04" y2="95.40" stroke="#999" stroke-width="0.38"/>
<line x1="338.94" y1="84.10" x2="338.94" y2="95.40" stroke="#222" stroke-width="0.69"/>
<line x1="303.63" y1="84.10" x2="303.63" y2="95.40" stroke="#888" stroke-width="0.73"/>
<line x1="295.57" y1="84.10" x2="295.57" y2="95.40" stroke="#888" stroke-width="0.78"/>
<line x1="301.72" y1="84.10" x2="301.72" y2="95.40" stroke="#222" stroke-width="0.56"/>
<line x1="337.19" y1="84.10" x2="337.19" y2="95.40" stroke="#888" stroke-width="0.56"/>
<line x1="339.15" y1="84.10" x2="339.15" y2="95.40" stroke="#999" stroke-width="0.68"/>
<line x1="341.65" y1="84.10" x2="341.65" y2="95.40" stroke="#666" stroke-width="0.74"/>
<line x1="352.14" y1="84.10" x2="352.14" y2="95.40" stroke="#666" stroke-width="0.44"/>
<line x1="303.51" y1="84.10" x2="303.51" y2="95.40" stroke="#888" stroke-width="0.66"/>
<line x1="287.96" y1="84.10" x2="287.96" y2="95.40" stroke="#aaa" stroke-width="0.49"/>
<line x1="296.04" y1="84.10" x2="296.04" y2="95.40" stroke="#777" stroke-width="0.42"/>
<line x1="309.98" y1="84.10" x2="309.98" y2="95.40" stroke="#777" stroke-width="0.69"/>
<line x1="288.67" y1="84.10" x2="288.67" y2="95.40" stroke="#555" stroke-width="0.79"/>
<line x1="287.46" y1="84.10" x2="287.46" y2="95.40" stroke="#444" stroke-width="0.49"/>
<line x1="288.75" y1="84.10" x2="288.75" y2="95.40" stroke="#222" stroke-width="0.54"/>
<line x1="302.62" y1="84.10" x2="302.62" y2="95.40" stroke="#444" stroke-width="0.62"/>
<line x1="293.36" y1="84.10" x2="293.36" y2="95.40" stroke="#222" stroke-width="0.51"/>
<line x1="318.88" y1="84.10" x2="318.88" y2="95.40" stroke="#888" stroke-width="0.60"/>
<line x1="301.66" y1="84.10" x2="301.66" y2="95.40" stroke="#999" stroke-width="0.72"/>
<line x1="308.18" y1="84.10" x2="308.18" y2="95.40" stroke="#999" stroke-width="0.56"/>
<line x1="286.72" y1="84.10" x2="286.72" y2="95.40" stroke="#555" stroke-width="0.78"/>
<line x1="302.62" y1="84.10" x2="302.62" y2="95.40" stroke="#222" stroke-width="0.52"/>
<line x1="300.57" y1="84.10" x2="300.57" y2="95.40" stroke="#666" stroke-width="0.50"/>
<line x1="345.60" y1="84.10" x2="345.60" y2="95.40" stroke="#aaa" stroke-width="0.54"/>
<line x1="292.41" y1="84.10" x2="292.41" y2="95.40" stroke="#aaa" stroke-width="0.52"/>
<line x1="343.84" y1="84.10" x2="343.84" y2="95.40" stroke="#888" stroke-width="0.68"/>
<line x1="298.51" y1="84.10" x2="298.51" y2="95.40" stroke="#222" stroke-width="0.49"/>
<line x1="354.41" y1="84.10" x2="354.41" y2="95.40" stroke="#888" stroke-width="0.41"/>
<line x1="275.84" y1="84.10" x2="275.84" y2="95.40" stroke="#555" stroke-width="0.46"/>
<line x1="277.17" y1="84.10" x2="277.17" y2="95.40" stroke="#aaa" stroke-width="0.36"/>
<line x1="317.46" y1="84.10" x2="317.46" y2="95.40" stroke="#555" stroke-width="0.70"/>
<line x1="294.00" y1="84.10" x2="294.00" y2="95.40" stroke="#666" stroke-width="0.67"/>
<line x1="297.27" y1="84.10" x2="297.27" y2="95.40" stroke="#555" stroke-width="0.58"/>
<line x1="347.11" y1="84.10" x2="347.11" y2="95.40" stroke="#666" stroke-width="0.49"/>
<line x1="317.54" y1="84.10" x2="317.54" y2="95.40" stroke="#888" stroke-width="0.68"/>
<line x1="276.08" y1="84.10" x2="276.08" y2="95.40" stroke="#666" stroke-width="0.37"/>
<line x1="294.55" y1="84.10" x2="294.55" y2="95.40" stroke="#444" stroke-width="0.75"/>
<line x1="318.53" y1="84.10" x2="318.53" y2="95.40" stroke="#aaa" stroke-width="0.62"/>
<line x1="342.71" y1="84.10" x2="342.71" y2="95.40" stroke="#777" stroke-width="0.75"/>
<line x1="298.74" y1="84.10" x2="298.74" y2="95.40" stroke="#aaa" stroke-width="0.61"/>
<line x1="326.94" y1="84.10" x2="326.94" y2="95.40" stroke="#888" stroke-width="0.41"/>
<line x1="313.03" y1="84.10" x2="313.03" y2="95.40" stroke="#555" stroke-width="0.79"/>
<line x1="317.90" y1="84.10" x2="317.90" y2="95.40" stroke="#222" stroke-width="0.38"/>
<line x1="292.72" y1="84.10" x2="292.72" y2="95.40" stroke="#444" stroke-width="0.65"/>
<line x1="275.99" y1="84.10" x2="275.99" y2="95.40" stroke="#444" stroke-width="0.80"/>
<line x1="331.26" y1="84.10" x2="331.26" y2="95.40" stroke="#444" stroke-width="0.45"/>
<line x1="332.18" y1="84.10" x2="332.18" y2="95.40" stroke="#888" stroke-width="0.67"/>
<line x1="309.73" y1="84.10" x2="309.73" y2="95.40" stroke="#666" stroke-width="0.54"/>
<line x1="287.08" y1="84.10" x2="287.08" y2="95.40" stroke="#222" stroke-width="0.60"/>
<line x1="296.79" y1="84.10" x2="296.79" y2="95.40" stroke="#444" stroke-width="0.68"/>
<line x1="345.76" y1="84.10" x2="345.76" y2="95.40" stroke="#aaa" stroke-width="0.39"/>
<line x1="329.97" y1="84.10" x2="329.97" y2="95.40" stroke="#999" stroke-width="0.77"/>
<line x1="304.51" y1="84.10" x2="304.51" y2="95.40" stroke="#888" stroke-width="0.42"/>
<line x1="325.54" y1="84.10" x2="325.54" y2="95.40" stroke="#777" stroke-width="0.47"/>
<line x1="319.03" y1="84.10" x2="319.03" y2="95.40" stroke="#888" stroke-width="0.58"/>
<line x1="284.84" y1="84.10" x2="284.84" y2="95.40" stroke="#999" stroke-width="0.55"/>
<line x1="305.71" y1="84.10" x2="305.71" y2="95.40" stroke="#222" stroke-width="0.64"/>
<line x1="280.87" y1="84.10" x2="280.87" y2="95.40" stroke="#444" stroke-width="0.74"/>
<line x1="315.33" y1="84.10" x2="315.33" y2="95.40" stroke="#aaa" stroke-width="0.74"/>
<line x1="313.20" y1="84.10" x2="313.20" y2="95.40" stroke="#222" stroke-width="0.59"/>
<line x1="305.36" y1="84.10" x2="305.36" y2="95.40" stroke="#aaa" stroke-width="0.66"/>
<line x1="292.15" y1="84.10" x2="292.15" y2="95.40" stroke="#555" stroke-width="0.72"/>
<line x1="285.33" y1="84.10" x2="285.33" y2="95.40" stroke="#999" stroke-width="0.73"/>
<line x1="297.61" y1="84.10" x2="297.61" y2="95.40" stroke="#999" stroke-width="0.71"/>
<line x1="304.83" y1="84.10" x2="304.83" y2="95.40" stroke="#999" stroke-width="0.64"/>
<line x1="339.71" y1="84.10" x2="339.71" y2="95.40" stroke="#999" stroke-width="0.58"/>
<line x1="322.38" y1="84.10" x2="322.38" y2="95.40" stroke="#666" stroke-width="0.53"/>
<line x1="281.83" y1="84.10" x2="281.83" y2="95.40" stroke="#777" stroke-width="0.44"/>
<line x1="327.99" y1="84.10" x2="327.99" y2="95.40" stroke="#aaa" stroke-width="0.56"/>
<line x1="308.96" y1="84.10" x2="308.96" y2="95.40" stroke="#444" stroke-width="0.44"/>
<line x1="327.34" y1="84.10" x2="327.34" y2="95.40" stroke="#aaa" stroke-width="0.74"/>
<line x1="312.32" y1="84.10" x2="312.32" y2="95.40" stroke="#444" stroke-width="0.47"/>
<line x1="287.11" y1="84.10" x2="287.11" y2="95.40" stroke="#777" stroke-width="0.36"/>
<line x1="347.22" y1="84.10" x2="347.22" y2="95.40" stroke="#999" stroke-width="0.49"/>
<line x1="278.72" y1="84.10" x2="278.72" y2="95.40" stroke="#555" stroke-width="0.56"/>
<line x1="351.23" y1="84.10" x2="351.23" y2="95.40" stroke="#999" stroke-width="0.48"/>
<line x1="287.25" y1="84.10" x2="287.25" y2="95.40" stroke="#222" stroke-width="0.61"/>
<line x1="329.57" y1="84.10" x2="329.57" y2="95.40" stroke="#999" stroke-width="0.48"/>
<line x1="287.26" y1="84.10" x2="287.26" y2="95.40" stroke="#777" stroke-width="0.77"/>
<line x1="326.73" y1="84.10" x2="326.73" y2="95.40" stroke="#888" stroke-width="0.35"/>
<line x1="278.88" y1="84.10" x2="278.88" y2="95.40" stroke="#aaa" stroke-width="0.43"/>
<line x1="276.62" y1="84.10" x2="276.62" y2="95.40" stroke="#999" stroke-width="0.77"/>
<line x1="332.51" y1="84.10" x2="332.51" y2="95.40" stroke="#555" stroke-width="0.39"/>
<line x1="326.60" y1="84.10" x2="326.60" y2="95.40" stroke="#222" stroke-width="0.37"/>
<line x1="342.07" y1="84.10" x2="342.07" y2="95.40" stroke="#222" stroke-width="0.74"/>
<line x1="351.62" y1="84.10" x2="351.62" y2="95.40" stroke="#aaa" stroke-width="0.43"/>
<line x1="293.02" y1="84.10" x2="293.02" y2="95.40" stroke="#444" stroke-width="0.39"/>
<line x1="354.49" y1="84.10" x2="354.49" y2="95.40" stroke="#444" stroke-width="0.74"/>
<line x1="291.44" y1="84.10" x2="291.44" y2="95.40" stroke="#999" stroke-width="0.57"/>
<line x1="320.64" y1="84.10" x2="320.64" y2="95.40" stroke="#666" stroke-width="0.68"/>
<line x1="348.58" y1="84.10" x2="348.58" y2="95.40" stroke="#555" stroke-width="0.75"/>
<line x1="355.67" y1="84.10" x2="355.67" y2="95.40" stroke="#666" stroke-width="0.49"/>
<line x1="281.07" y1="84.10" x2="281.07" y2="95.40" stroke="#aaa" stroke-width="0.49"/>
<line x1="284.52" y1="84.10" x2="284.52" y2="95.40" stroke="#777" stroke-width="0.66"/>
<line x1="328.40" y1="84.10" x2="328.40" y2="95.40" stroke="#555" stroke-width="0.67"/>
<line x1="277.83" y1="84.10" x2="277.83" y2="95.40" stroke="#888" stroke-width="0.75"/>
<line x1="346.34" y1="84.10" x2="346.34" y2="95.40" stroke="#999" stroke-width="0.52"/>
<linearGradient id="a2g" x1="0" x2="1" y1="0" y2="0"><stop offset="0" stop-color="#d42a30"/><stop offset="0.215" stop-color="#d83038"/><stop offset="0.237" stop-color="#dc4a52"/><stop offset="0.420" stop-color="#e06070"/><stop offset="0.440" stop-color="#e8a4c0"/><stop offset="0.570" stop-color="#eab0cc"/><stop offset="0.590" stop-color="#ccc8ec"/><stop offset="0.760" stop-color="#b4b2e2"/><stop offset="0.790" stop-color="#5a50b0"/><stop offset="1" stop-color="#2a1c88"/></linearGradient>
<rect x="273.90" y="95.60" width="81.80" height="2.30" fill="url(#a2g)" />
<polygon points="273.90,111.00 273.90,106.10 274.90,107.33 276.90,108.31 281.90,109.04 291.90,109.65 322.78,111.00 339.24,112.10 349.70,112.96 353.70,113.94 355.00,115.90 355.70,119.08 355.70,111.00" fill="#c8c8c8"/>
<line x1="273.90" y1="111.00" x2="355.70" y2="111.00" stroke="#9a9a9a" stroke-width="0.4" />
<polyline points="273.80,68.20 276.10,64.40 278.70,59.60 280.40,56.10 282.10,50.10 283.00,48.80 287.30,48.80 291.60,49.50 293.40,50.10 296.00,48.80 297.70,49.50 304.60,53.00 315.00,59.60 325.40,66.50 335.80,73.40 342.70,77.70 349.60,80.70 352.70,81.20 354.50,80.30 355.70,75.20" fill="none" stroke="#52a83a" stroke-width="1.2" stroke-linejoin="round"/>
<rect x="273.90" y="46.50" width="85.90" height="75.60" fill="none" stroke="#000" stroke-width="1.1"/>
<line x1="270.30" y1="51.80" x2="273.90" y2="51.80" stroke="#000" stroke-width="1.0" />
<text x="266.30" y="53.80" font-size="5.60" fill="#222" text-anchor="end" stroke="#222" stroke-width="0.12">0.4</text>
<line x1="270.30" y1="57.62" x2="273.90" y2="57.62" stroke="#000" stroke-width="1.0" />
<text x="266.30" y="59.62" font-size="5.60" fill="#222" text-anchor="end" stroke="#222" stroke-width="0.12">0.3</text>
<line x1="270.30" y1="63.44" x2="273.90" y2="63.44" stroke="#000" stroke-width="1.0" />
<text x="266.30" y="65.44" font-size="5.60" fill="#222" text-anchor="end" stroke="#222" stroke-width="0.12">0.2</text>
<line x1="270.30" y1="69.26" x2="273.90" y2="69.26" stroke="#000" stroke-width="1.0" />
<text x="266.30" y="71.26" font-size="5.60" fill="#222" text-anchor="end" stroke="#222" stroke-width="0.12">0.1</text>
<line x1="270.30" y1="75.08" x2="273.90" y2="75.08" stroke="#000" stroke-width="1.0" />
<text x="266.30" y="77.08" font-size="5.60" fill="#222" text-anchor="end" stroke="#222" stroke-width="0.12">0.0</text>
<line x1="270.30" y1="80.90" x2="273.90" y2="80.90" stroke="#000" stroke-width="1.0" />
<text x="266.30" y="82.90" font-size="5.60" fill="#222" text-anchor="end" stroke="#222" stroke-width="0.12">-0.1</text>
<line x1="270.30" y1="101.20" x2="273.90" y2="101.20" stroke="#000" stroke-width="1.0" />
<text transform="translate(266.50,101.20) rotate(-90)" font-size="4.8" fill="#222" stroke="#222" stroke-width="0.1" text-anchor="middle">4</text>
<line x1="270.30" y1="106.10" x2="273.90" y2="106.10" stroke="#000" stroke-width="1.0" />
<text transform="translate(266.50,106.10) rotate(-90)" font-size="4.8" fill="#222" stroke="#222" stroke-width="0.1" text-anchor="middle">2</text>
<line x1="270.30" y1="111.00" x2="273.90" y2="111.00" stroke="#000" stroke-width="1.0" />
<text transform="translate(266.50,111.00) rotate(-90)" font-size="4.8" fill="#222" stroke="#222" stroke-width="0.1" text-anchor="middle">0</text>
<line x1="270.30" y1="115.90" x2="273.90" y2="115.90" stroke="#000" stroke-width="1.0" />
<text transform="translate(266.50,115.90) rotate(-90)" font-size="4.8" fill="#222" stroke="#222" stroke-width="0.1" text-anchor="middle">-2</text>
<line x1="270.30" y1="120.80" x2="273.90" y2="120.80" stroke="#000" stroke-width="1.0" />
<text transform="translate(266.50,120.80) rotate(-90)" font-size="4.8" fill="#222" stroke="#222" stroke-width="0.1" text-anchor="middle">-4</text>
<line x1="273.90" y1="122.10" x2="273.90" y2="125.30" stroke="#000" stroke-width="0.9" />
<text x="273.90" y="133.90" font-size="5.90" fill="#222" text-anchor="middle" stroke="#222" stroke-width="0.1">0</text>
<line x1="294.07" y1="122.10" x2="294.07" y2="125.30" stroke="#000" stroke-width="0.9" />
<text x="288.38" y="133.90" font-size="5.90" fill="#222" textLength="11.40" lengthAdjust="spacingAndGlyphs" stroke="#222" stroke-width="0.1">5,000</text>
<line x1="314.25" y1="122.10" x2="314.25" y2="125.30" stroke="#000" stroke-width="0.9" />
<text x="307.25" y="133.90" font-size="5.90" fill="#222" textLength="14.00" lengthAdjust="spacingAndGlyphs" stroke="#222" stroke-width="0.1">10,000</text>
<line x1="334.43" y1="122.10" x2="334.43" y2="125.30" stroke="#000" stroke-width="0.9" />
<text x="327.43" y="133.90" font-size="5.90" fill="#222" textLength="14.00" lengthAdjust="spacingAndGlyphs" stroke="#222" stroke-width="0.1">15,000</text>
<line x1="354.60" y1="122.10" x2="354.60" y2="125.30" stroke="#000" stroke-width="0.9" />
<text x="347.40" y="133.90" font-size="5.90" fill="#222" textLength="14.40" lengthAdjust="spacingAndGlyphs" stroke="#222" stroke-width="0.1">20,000</text>
<text x="274.30" y="104.50" font-size="3.80" fill="#cc2a48" textLength="39.80" lengthAdjust="spacingAndGlyphs">NSC12 (0uM) (positively</text>
<text x="274.30" y="108.80" font-size="3.80" fill="#cc2a48" textLength="17.30" lengthAdjust="spacingAndGlyphs">correlated)</text>
<text x="301.58" y="112.60" font-size="3.80" fill="#222" textLength="33.00" lengthAdjust="spacingAndGlyphs">Zero cross at 12113</text>
<text x="351.40" y="116.00" font-size="3.80" fill="#3c5aa8" text-anchor="end" textLength="21.30" lengthAdjust="spacingAndGlyphs">NSC12 (0uM)</text>
<text x="351.40" y="120.40" font-size="3.80" fill="#3c5aa8" text-anchor="end" textLength="36.70" lengthAdjust="spacingAndGlyphs">(negatively correlated)</text>
<text x="357.60" y="54.10" font-size="6.80" fill="#111" text-anchor="end" textLength="20.72" lengthAdjust="spacingAndGlyphs" stroke="#111" stroke-width="0.12">P &lt;0.01</text>
<text x="357.60" y="61.60" font-size="6.80" fill="#111" text-anchor="end" textLength="29.00" lengthAdjust="spacingAndGlyphs" stroke="#111" stroke-width="0.12">FDR &lt;0.01</text>
<text x="286.00" y="144.60" font-size="7.90" fill="#222" textLength="61.70" lengthAdjust="spacingAndGlyphs" stroke="#222" stroke-width="0.25">Rank in ordered dataset</text>
<line x1="262.90" y1="154.20" x2="266.40" y2="154.20" stroke="#52a83a" stroke-width="0.8" />
<text x="270.30" y="155.60" font-size="4.30" fill="#555" textLength="30.80" lengthAdjust="spacingAndGlyphs">Enrichment profile</text>
<line x1="305.20" y1="154.20" x2="307.90" y2="154.20" stroke="#555" stroke-width="0.6" />
<text x="311.80" y="155.60" font-size="4.30" fill="#555" textLength="7.00" lengthAdjust="spacingAndGlyphs">Hits</text>
<line x1="321.80" y1="154.20" x2="323.10" y2="154.20" stroke="#aaa" stroke-width="0.6" />
<line x1="323.90" y1="154.20" x2="325.20" y2="154.20" stroke="#aaa" stroke-width="0.6" />
<text x="333.30" y="155.60" font-size="4.30" fill="#555" textLength="37.00" lengthAdjust="spacingAndGlyphs">Ranking metric scores</text>
<text x="292.50" y="35.80" font-size="4.50" fill="#222" textLength="36.50" lengthAdjust="spacingAndGlyphs">Enrichment plot:</text>
<text x="261.60" y="41.70" font-size="4.70" fill="#222" textLength="98.40" lengthAdjust="spacingAndGlyphs">HALLMARK_PI3K_AKT_MTOR_SIGNALING</text>
<text transform="translate(244.20,81.30) rotate(-90)" font-size="8.00" fill="#222" textLength="30.50" lengthAdjust="spacingAndGlyphs" stroke="#222" stroke-width="0.18">Enrichment</text>
<text transform="translate(252.80,78.80) rotate(-90)" font-size="8.00" fill="#222" textLength="25.50" lengthAdjust="spacingAndGlyphs" stroke="#222" stroke-width="0.18">score (ES)</text>
<text transform="translate(244.20,134.70) rotate(-90)" font-size="8.00" fill="#222" textLength="47.70" lengthAdjust="spacingAndGlyphs" stroke="#222" stroke-width="0.18">Ranked list metric</text>
<text transform="translate(252.80,130.20) rotate(-90)" font-size="8.00" fill="#222" textLength="38.70" lengthAdjust="spacingAndGlyphs" stroke="#222" stroke-width="0.18">(signal2Noise)</text>
<text x="292.30" y="22.70" font-size="9.60" fill="#111" textLength="35.50" lengthAdjust="spacingAndGlyphs" stroke="#111" stroke-width="0.15">MWCL.1</text>
<line x1="260.20" y1="27.70" x2="360.60" y2="27.70" stroke="#333" stroke-width="1.2" />
<rect x="365.80" y="36.90" width="5.40" height="62.30" fill="#b41e2a" />
<rect x="371.20" y="36.90" width="5.30" height="62.30" fill="#36348e" />
<rect x="365.80" y="36.90" width="2.70" height="1.56" fill="#a8141e" />
<rect x="371.20" y="38.46" width="2.65" height="1.56" fill="#3a3896" />
<rect x="373.85" y="38.46" width="2.65" height="1.56" fill="#403e9a" />
<rect x="365.80" y="40.02" width="2.70" height="1.56" fill="#e8b8c0" />
<rect x="373.85" y="40.02" width="2.65" height="1.56" fill="#4250b0" />
<rect x="371.20" y="41.57" width="2.65" height="1.56" fill="#403e9a" />
<rect x="368.50" y="43.13" width="2.70" height="1.56" fill="#a8141e" />
<rect x="368.50" y="44.69" width="2.70" height="1.56" fill="#bc2028" />
<rect x="368.50" y="46.24" width="2.70" height="1.56" fill="#bc2028" />
<rect x="368.50" y="47.80" width="2.70" height="1.56" fill="#a01420" />
<rect x="365.80" y="49.36" width="2.70" height="1.56" fill="#a8141e" />
<rect x="368.50" y="49.36" width="2.70" height="1.56" fill="#a01420" />
<rect x="373.85" y="49.36" width="2.65" height="1.56" fill="#403e9a" />
<rect x="365.80" y="50.92" width="2.70" height="1.56" fill="#a8141e" />
<rect x="368.50" y="52.47" width="2.70" height="1.56" fill="#a01420" />
<rect x="371.20" y="54.03" width="2.65" height="1.56" fill="#302e88" />
<rect x="373.85" y="54.03" width="2.65" height="1.56" fill="#5060b8" />
<rect x="365.80" y="55.59" width="2.70" height="1.56" fill="#a01420" />
<rect x="368.50" y="55.59" width="2.70" height="1.56" fill="#a01420" />
<rect x="365.80" y="57.15" width="2.70" height="1.56" fill="#bc2028" />
<rect x="371.20" y="57.15" width="2.65" height="1.56" fill="#403e9a" />
<rect x="368.50" y="58.70" width="2.70" height="1.56" fill="#a01420" />
<rect x="373.85" y="58.70" width="2.65" height="1.56" fill="#3a3896" />
<rect x="368.50" y="60.26" width="2.70" height="1.56" fill="#bc2028" />
<rect x="373.85" y="60.26" width="2.65" height="1.56" fill="#2c2a80" />
<rect x="365.80" y="61.82" width="2.70" height="1.56" fill="#d05060" />
<rect x="373.85" y="61.82" width="2.65" height="1.56" fill="#302e88" />
<rect x="373.85" y="63.38" width="2.65" height="1.56" fill="#ffffff" />
<rect x="373.85" y="64.94" width="2.65" height="1.56" fill="#4250b0" />
<rect x="365.80" y="66.49" width="2.70" height="1.56" fill="#e07888" />
<rect x="373.85" y="68.05" width="2.65" height="1.56" fill="#b0b8e8" />
<rect x="365.80" y="69.61" width="2.70" height="1.56" fill="#a01420" />
<rect x="365.80" y="71.16" width="2.70" height="1.56" fill="#d86070" />
<rect x="371.20" y="71.16" width="2.65" height="1.56" fill="#5060b8" />
<rect x="368.50" y="71.16" width="2.70" height="1.56" fill="#a8141e" />
<rect x="365.80" y="72.72" width="2.70" height="1.56" fill="#d05060" />
<rect x="368.50" y="72.72" width="2.70" height="1.56" fill="#a01420" />
<rect x="365.80" y="74.28" width="2.70" height="1.56" fill="#d86070" />
<rect x="368.50" y="74.28" width="2.70" height="1.56" fill="#bc2028" />
<rect x="373.85" y="74.28" width="2.65" height="1.56" fill="#403e9a" />
<rect x="365.80" y="75.84" width="2.70" height="1.56" fill="#c42630" />
<rect x="371.20" y="75.84" width="2.65" height="1.56" fill="#c8ccf0" />
<rect x="373.85" y="75.84" width="2.65" height="1.56" fill="#b0b8e8" />
<rect x="365.80" y="77.39" width="2.70" height="1.56" fill="#e07888" />
<rect x="368.50" y="77.39" width="2.70" height="1.56" fill="#c42630" />
<rect x="373.85" y="77.39" width="2.65" height="1.56" fill="#302e88" />
<rect x="371.20" y="78.95" width="2.65" height="1.56" fill="#c8ccf0" />
<rect x="368.50" y="78.95" width="2.70" height="1.56" fill="#d86070" />
<rect x="373.85" y="78.95" width="2.65" height="1.56" fill="#4250b0" />
<rect x="371.20" y="80.51" width="2.65" height="1.56" fill="#4250b0" />
<rect x="368.50" y="80.51" width="2.70" height="1.56" fill="#e07888" />
<rect x="368.50" y="82.07" width="2.70" height="1.56" fill="#bc2028" />
<rect x="365.80" y="83.62" width="2.70" height="1.56" fill="#e8b8c0" />
<rect x="371.20" y="83.62" width="2.65" height="1.56" fill="#6070c0" />
<rect x="373.85" y="85.18" width="2.65" height="1.56" fill="#b0b8e8" />
<rect x="365.80" y="86.74" width="2.70" height="1.56" fill="#f4e0e4" />
<rect x="368.50" y="86.74" width="2.70" height="1.56" fill="#d05060" />
<rect x="373.85" y="86.74" width="2.65" height="1.56" fill="#5060b8" />
<rect x="365.80" y="88.30" width="2.70" height="1.56" fill="#e07888" />
<rect x="371.20" y="88.30" width="2.65" height="1.56" fill="#ffffff" />
<rect x="371.20" y="89.85" width="2.65" height="1.56" fill="#f0f0fc" />
<rect x="365.80" y="91.41" width="2.70" height="1.56" fill="#e07888" />
<rect x="371.20" y="91.41" width="2.65" height="1.56" fill="#b0b8e8" />
<rect x="368.50" y="91.41" width="2.70" height="1.56" fill="#e07888" />
<rect x="373.85" y="91.41" width="2.65" height="1.56" fill="#c8ccf0" />
<rect x="365.80" y="92.97" width="2.70" height="1.56" fill="#e8b8c0" />
<rect x="371.20" y="92.97" width="2.65" height="1.56" fill="#b0b8e8" />
<rect x="371.20" y="94.53" width="2.65" height="1.56" fill="#6070c0" />
<rect x="365.80" y="96.08" width="2.70" height="1.56" fill="#d86070" />
<rect x="371.20" y="96.08" width="2.65" height="1.56" fill="#b0b8e8" />
<rect x="368.50" y="96.08" width="2.70" height="1.56" fill="#e07888" />
<rect x="373.85" y="96.08" width="2.65" height="1.56" fill="#4250b0" />
<rect x="365.80" y="97.64" width="2.70" height="1.56" fill="#e8b8c0" />
<rect x="371.20" y="97.64" width="2.65" height="1.56" fill="#5060b8" />
<rect x="376.50" y="36.90" width="9.20" height="62.30" fill="#ececec" />
<rect x="377.30" y="37.37" width="4.23" height="0.70" fill="#7a7a7a"/>
<rect x="377.30" y="38.92" width="3.98" height="0.70" fill="#7a7a7a"/>
<rect x="377.30" y="40.48" width="7.75" height="0.70" fill="#7a7a7a"/>
<rect x="377.30" y="42.04" width="7.56" height="0.70" fill="#7a7a7a"/>
<rect x="377.30" y="43.60" width="7.56" height="0.70" fill="#7a7a7a"/>
<rect x="377.30" y="45.15" width="4.71" height="0.70" fill="#7a7a7a"/>
<rect x="377.30" y="46.71" width="3.64" height="0.70" fill="#7a7a7a"/>
<rect x="377.30" y="48.27" width="6.98" height="0.70" fill="#7a7a7a"/>
<rect x="377.30" y="49.83" width="6.81" height="0.70" fill="#7a7a7a"/>
<rect x="377.30" y="51.38" width="4.88" height="0.70" fill="#7a7a7a"/>
<rect x="377.30" y="52.94" width="3.63" height="0.70" fill="#7a7a7a"/>
<rect x="377.30" y="54.50" width="5.71" height="0.70" fill="#7a7a7a"/>
<rect x="377.30" y="56.06" width="7.58" height="0.70" fill="#7a7a7a"/>
<rect x="377.30" y="57.61" width="5.15" height="0.70" fill="#7a7a7a"/>
<rect x="377.30" y="59.17" width="6.64" height="0.70" fill="#7a7a7a"/>
<rect x="377.30" y="60.73" width="6.38" height="0.70" fill="#7a7a7a"/>
<rect x="377.30" y="62.29" width="6.96" height="0.70" fill="#7a7a7a"/>
<rect x="377.30" y="63.84" width="3.01" height="0.70" fill="#7a7a7a"/>
<rect x="377.30" y="65.40" width="7.33" height="0.70" fill="#7a7a7a"/>
<rect x="377.30" y="66.96" width="5.24" height="0.70" fill="#7a7a7a"/>
<rect x="377.30" y="68.52" width="5.33" height="0.70" fill="#7a7a7a"/>
<rect x="377.30" y="70.07" width="3.49" height="0.70" fill="#7a7a7a"/>
<rect x="377.30" y="71.63" width="2.90" height="0.70" fill="#7a7a7a"/>
<rect x="377.30" y="73.19" width="3.52" height="0.70" fill="#7a7a7a"/>
<rect x="377.30" y="74.75" width="3.27" height="0.70" fill="#7a7a7a"/>
<rect x="377.30" y="76.30" width="7.32" height="0.70" fill="#7a7a7a"/>
<rect x="377.30" y="77.86" width="5.68" height="0.70" fill="#7a7a7a"/>
<rect x="377.30" y="79.42" width="6.44" height="0.70" fill="#7a7a7a"/>
<rect x="377.30" y="80.98" width="3.14" height="0.70" fill="#7a7a7a"/>
<rect x="377.30" y="82.53" width="6.34" height="0.70" fill="#7a7a7a"/>
<rect x="377.30" y="84.09" width="7.35" height="0.70" fill="#7a7a7a"/>
<rect x="377.30" y="85.65" width="6.27" height="0.70" fill="#7a7a7a"/>
<rect x="377.30" y="87.21" width="3.00" height="0.70" fill="#7a7a7a"/>
<rect x="377.30" y="88.76" width="5.49" height="0.70" fill="#7a7a7a"/>
<rect x="377.30" y="90.32" width="6.69" height="0.70" fill="#7a7a7a"/>
<rect x="377.30" y="91.88" width="6.22" height="0.70" fill="#7a7a7a"/>
<rect x="377.30" y="93.44" width="4.34" height="0.70" fill="#7a7a7a"/>
<rect x="377.30" y="94.99" width="5.92" height="0.70" fill="#7a7a7a"/>
<rect x="377.30" y="96.55" width="6.07" height="0.70" fill="#7a7a7a"/>
<rect x="377.30" y="98.11" width="6.47" height="0.70" fill="#7a7a7a"/>
<text x="399.20" y="40.10" font-size="4.60" fill="#222" textLength="17.00" lengthAdjust="spacingAndGlyphs">MYD88</text>
<line x1="394.80" y1="44.60" x2="425.70" y2="44.60" stroke="#35569a" stroke-width="1.4" />
<polygon points="390.30,44.60 396.30,41.80 394.90,44.60 396.30,47.40" fill="#35569a"/>
<line x1="92.73" y1="178.20" x2="92.73" y2="214.60" stroke="#ececec" stroke-width="0.5" />
<line x1="92.73" y1="230.90" x2="92.73" y2="254.90" stroke="#f0f0f0" stroke-width="0.5" />
<line x1="112.75" y1="178.20" x2="112.75" y2="214.60" stroke="#ececec" stroke-width="0.5" />
<line x1="112.75" y1="230.90" x2="112.75" y2="254.90" stroke="#f0f0f0" stroke-width="0.5" />
<line x1="132.78" y1="178.20" x2="132.78" y2="214.60" stroke="#ececec" stroke-width="0.5" />
<line x1="132.78" y1="230.90" x2="132.78" y2="254.90" stroke="#f0f0f0" stroke-width="0.5" />
<line x1="72.50" y1="181.20" x2="153.90" y2="181.20" stroke="#f2f2f2" stroke-width="0.4" />
<line x1="72.50" y1="187.24" x2="153.90" y2="187.24" stroke="#f2f2f2" stroke-width="0.4" />
<line x1="72.50" y1="193.28" x2="153.90" y2="193.28" stroke="#f2f2f2" stroke-width="0.4" />
<line x1="72.50" y1="199.32" x2="153.90" y2="199.32" stroke="#f2f2f2" stroke-width="0.4" />
<line x1="72.50" y1="205.36" x2="153.90" y2="205.36" stroke="#f2f2f2" stroke-width="0.4" />
<line x1="72.50" y1="211.40" x2="153.90" y2="211.40" stroke="#f2f2f2" stroke-width="0.4" />
<line x1="72.50" y1="211.40" x2="153.90" y2="211.40" stroke="#d0d0d0" stroke-width="0.6" />
<line x1="72.50" y1="214.60" x2="153.90" y2="214.60" stroke="#e4e4e4" stroke-width="0.6" />
<line x1="99.00" y1="215.50" x2="99.00" y2="226.90" stroke="#222" stroke-width="0.38"/>
<line x1="116.21" y1="215.50" x2="116.21" y2="226.90" stroke="#222" stroke-width="0.76"/>
<line x1="90.13" y1="215.50" x2="90.13" y2="226.90" stroke="#aaa" stroke-width="0.38"/>
<line x1="80.07" y1="215.50" x2="80.07" y2="226.90" stroke="#444" stroke-width="0.78"/>
<line x1="123.91" y1="215.50" x2="123.91" y2="226.90" stroke="#222" stroke-width="0.61"/>
<line x1="104.91" y1="215.50" x2="104.91" y2="226.90" stroke="#222" stroke-width="0.60"/>
<line x1="83.51" y1="215.50" x2="83.51" y2="226.90" stroke="#444" stroke-width="0.61"/>
<line x1="81.07" y1="215.50" x2="81.07" y2="226.90" stroke="#777" stroke-width="0.52"/>
<line x1="117.18" y1="215.50" x2="117.18" y2="226.90" stroke="#222" stroke-width="0.63"/>
<line x1="113.01" y1="215.50" x2="113.01" y2="226.90" stroke="#999" stroke-width="0.56"/>
<line x1="147.68" y1="215.50" x2="147.68" y2="226.90" stroke="#777" stroke-width="0.71"/>
<line x1="129.46" y1="215.50" x2="129.46" y2="226.90" stroke="#888" stroke-width="0.59"/>
<line x1="96.08" y1="215.50" x2="96.08" y2="226.90" stroke="#444" stroke-width="0.58"/>
<line x1="86.09" y1="215.50" x2="86.09" y2="226.90" stroke="#555" stroke-width="0.54"/>
<line x1="150.82" y1="215.50" x2="150.82" y2="226.90" stroke="#999" stroke-width="0.50"/>
<line x1="101.13" y1="215.50" x2="101.13" y2="226.90" stroke="#555" stroke-width="0.38"/>
<line x1="80.30" y1="215.50" x2="80.30" y2="226.90" stroke="#444" stroke-width="0.38"/>
<line x1="95.81" y1="215.50" x2="95.81" y2="226.90" stroke="#999" stroke-width="0.36"/>
<line x1="110.19" y1="215.50" x2="110.19" y2="226.90" stroke="#444" stroke-width="0.57"/>
<line x1="90.42" y1="215.50" x2="90.42" y2="226.90" stroke="#777" stroke-width="0.53"/>
<line x1="147.15" y1="215.50" x2="147.15" y2="226.90" stroke="#666" stroke-width="0.55"/>
<line x1="95.31" y1="215.50" x2="95.31" y2="226.90" stroke="#999" stroke-width="0.66"/>
<line x1="103.59" y1="215.50" x2="103.59" y2="226.90" stroke="#444" stroke-width="0.43"/>
<line x1="91.53" y1="215.50" x2="91.53" y2="226.90" stroke="#555" stroke-width="0.72"/>
<line x1="87.51" y1="215.50" x2="87.51" y2="226.90" stroke="#666" stroke-width="0.54"/>
<line x1="102.68" y1="215.50" x2="102.68" y2="226.90" stroke="#666" stroke-width="0.66"/>
<line x1="127.61" y1="215.50" x2="127.61" y2="226.90" stroke="#aaa" stroke-width="0.53"/>
<line x1="104.70" y1="215.50" x2="104.70" y2="226.90" stroke="#aaa" stroke-width="0.38"/>
<line x1="78.17" y1="215.50" x2="78.17" y2="226.90" stroke="#666" stroke-width="0.40"/>
<line x1="121.48" y1="215.50" x2="121.48" y2="226.90" stroke="#666" stroke-width="0.59"/>
<line x1="78.41" y1="215.50" x2="78.41" y2="226.90" stroke="#aaa" stroke-width="0.42"/>
<line x1="93.18" y1="215.50" x2="93.18" y2="226.90" stroke="#999" stroke-width="0.56"/>
<line x1="82.07" y1="215.50" x2="82.07" y2="226.90" stroke="#555" stroke-width="0.57"/>
<line x1="98.02" y1="215.50" x2="98.02" y2="226.90" stroke="#999" stroke-width="0.68"/>
<line x1="111.56" y1="215.50" x2="111.56" y2="226.90" stroke="#222" stroke-width="0.44"/>
<line x1="150.00" y1="215.50" x2="150.00" y2="226.90" stroke="#222" stroke-width="0.69"/>
<line x1="96.90" y1="215.50" x2="96.90" y2="226.90" stroke="#444" stroke-width="0.66"/>
<line x1="93.90" y1="215.50" x2="93.90" y2="226.90" stroke="#666" stroke-width="0.51"/>
<line x1="90.79" y1="215.50" x2="90.79" y2="226.90" stroke="#999" stroke-width="0.64"/>
<line x1="134.28" y1="215.50" x2="134.28" y2="226.90" stroke="#777" stroke-width="0.72"/>
<line x1="132.78" y1="215.50" x2="132.78" y2="226.90" stroke="#555" stroke-width="0.51"/>
<line x1="75.05" y1="215.50" x2="75.05" y2="226.90" stroke="#888" stroke-width="0.56"/>
<line x1="88.42" y1="215.50" x2="88.42" y2="226.90" stroke="#999" stroke-width="0.55"/>
<line x1="150.25" y1="215.50" x2="150.25" y2="226.90" stroke="#777" stroke-width="0.40"/>
<line x1="110.87" y1="215.50" x2="110.87" y2="226.90" stroke="#555" stroke-width="0.63"/>
<line x1="111.63" y1="215.50" x2="111.63" y2="226.90" stroke="#444" stroke-width="0.73"/>
<line x1="82.44" y1="215.50" x2="82.44" y2="226.90" stroke="#777" stroke-width="0.57"/>
<line x1="87.20" y1="215.50" x2="87.20" y2="226.90" stroke="#999" stroke-width="0.39"/>
<line x1="110.31" y1="215.50" x2="110.31" y2="226.90" stroke="#444" stroke-width="0.68"/>
<line x1="86.50" y1="215.50" x2="86.50" y2="226.90" stroke="#666" stroke-width="0.62"/>
<line x1="110.49" y1="215.50" x2="110.49" y2="226.90" stroke="#555" stroke-width="0.65"/>
<line x1="101.15" y1="215.50" x2="101.15" y2="226.90" stroke="#666" stroke-width="0.36"/>
<line x1="81.05" y1="215.50" x2="81.05" y2="226.90" stroke="#666" stroke-width="0.55"/>
<line x1="89.84" y1="215.50" x2="89.84" y2="226.90" stroke="#888" stroke-width="0.58"/>
<line x1="134.71" y1="215.50" x2="134.71" y2="226.90" stroke="#aaa" stroke-width="0.73"/>
<linearGradient id="b1g" x1="0" x2="1" y1="0" y2="0"><stop offset="0" stop-color="#d42a30"/><stop offset="0.245" stop-color="#d83038"/><stop offset="0.270" stop-color="#dc4a52"/><stop offset="0.480" stop-color="#e06070"/><stop offset="0.500" stop-color="#e8a4c0"/><stop offset="0.650" stop-color="#eab0cc"/><stop offset="0.670" stop-color="#ccc8ec"/><stop offset="0.780" stop-color="#b4b2e2"/><stop offset="0.810" stop-color="#5a50b0"/><stop offset="1" stop-color="#2a1c88"/></linearGradient>
<rect x="72.70" y="227.30" width="81.20" height="2.60" fill="url(#b1g)" />
<polygon points="72.70,242.25 72.70,236.72 73.70,238.11 75.70,239.21 80.70,240.04 90.70,240.73 127.71,242.25 140.81,243.49 147.90,244.46 151.90,245.56 153.20,247.78 153.90,251.37 153.90,242.25" fill="#c8c8c8"/>
<line x1="72.70" y1="242.25" x2="153.90" y2="242.25" stroke="#9a9a9a" stroke-width="0.4" />
<polyline points="73.10,207.70 75.20,205.20 76.90,200.00 78.70,193.90 80.40,194.80 83.00,195.10 84.70,188.70 87.30,184.40 89.00,182.70 90.80,181.80 92.50,180.10 94.20,178.80 96.00,180.10 98.00,178.30 104.60,181.80 115.00,187.80 127.10,195.60 139.20,203.40 147.90,208.60 151.00,211.70 153.10,210.70" fill="none" stroke="#52a83a" stroke-width="1.2" stroke-linejoin="round"/>
<rect x="72.50" y="177.20" width="85.30" height="78.20" fill="none" stroke="#000" stroke-width="1.1"/>
<line x1="68.90" y1="181.20" x2="72.50" y2="181.20" stroke="#000" stroke-width="1.0" />
<text x="64.90" y="183.20" font-size="5.60" fill="#222" text-anchor="end" stroke="#222" stroke-width="0.12">0.5</text>
<line x1="68.90" y1="187.24" x2="72.50" y2="187.24" stroke="#000" stroke-width="1.0" />
<text x="64.90" y="189.24" font-size="5.60" fill="#222" text-anchor="end" stroke="#222" stroke-width="0.12">0.4</text>
<line x1="68.90" y1="193.28" x2="72.50" y2="193.28" stroke="#000" stroke-width="1.0" />
<text x="64.90" y="195.28" font-size="5.60" fill="#222" text-anchor="end" stroke="#222" stroke-width="0.12">0.3</text>
<line x1="68.90" y1="199.32" x2="72.50" y2="199.32" stroke="#000" stroke-width="1.0" />
<text x="64.90" y="201.32" font-size="5.60" fill="#222" text-anchor="end" stroke="#222" stroke-width="0.12">0.2</text>
<line x1="68.90" y1="205.36" x2="72.50" y2="205.36" stroke="#000" stroke-width="1.0" />
<text x="64.90" y="207.36" font-size="5.60" fill="#222" text-anchor="end" stroke="#222" stroke-width="0.12">0.1</text>
<line x1="68.90" y1="211.40" x2="72.50" y2="211.40" stroke="#000" stroke-width="1.0" />
<text x="64.90" y="213.40" font-size="5.60" fill="#222" text-anchor="end" stroke="#222" stroke-width="0.12">0.0</text>
<line x1="68.90" y1="231.20" x2="72.50" y2="231.20" stroke="#000" stroke-width="1.0" />
<text transform="translate(65.10,231.20) rotate(-90)" font-size="4.8" fill="#222" stroke="#222" stroke-width="0.1" text-anchor="middle">4</text>
<line x1="68.90" y1="236.72" x2="72.50" y2="236.72" stroke="#000" stroke-width="1.0" />
<text transform="translate(65.10,236.72) rotate(-90)" font-size="4.8" fill="#222" stroke="#222" stroke-width="0.1" text-anchor="middle">2</text>
<line x1="68.90" y1="242.25" x2="72.50" y2="242.25" stroke="#000" stroke-width="1.0" />
<text transform="translate(65.10,242.25) rotate(-90)" font-size="4.8" fill="#222" stroke="#222" stroke-width="0.1" text-anchor="middle">0</text>
<line x1="68.90" y1="247.78" x2="72.50" y2="247.78" stroke="#000" stroke-width="1.0" />
<text transform="translate(65.10,247.78) rotate(-90)" font-size="4.8" fill="#222" stroke="#222" stroke-width="0.1" text-anchor="middle">-2</text>
<line x1="68.90" y1="253.30" x2="72.50" y2="253.30" stroke="#000" stroke-width="1.0" />
<text transform="translate(65.10,253.30) rotate(-90)" font-size="4.8" fill="#222" stroke="#222" stroke-width="0.1" text-anchor="middle">-4</text>
<line x1="72.70" y1="255.40" x2="72.70" y2="258.60" stroke="#000" stroke-width="0.9" />
<text x="72.70" y="267.40" font-size="5.90" fill="#222" text-anchor="middle" stroke="#222" stroke-width="0.1">0</text>
<line x1="92.73" y1="255.40" x2="92.73" y2="258.60" stroke="#000" stroke-width="0.9" />
<text x="87.03" y="267.40" font-size="5.90" fill="#222" textLength="11.40" lengthAdjust="spacingAndGlyphs" stroke="#222" stroke-width="0.1">5,000</text>
<line x1="112.75" y1="255.40" x2="112.75" y2="258.60" stroke="#000" stroke-width="0.9" />
<text x="105.75" y="267.40" font-size="5.90" fill="#222" textLength="14.00" lengthAdjust="spacingAndGlyphs" stroke="#222" stroke-width="0.1">10,000</text>
<line x1="132.78" y1="255.40" x2="132.78" y2="258.60" stroke="#000" stroke-width="0.9" />
<text x="125.78" y="267.40" font-size="5.90" fill="#222" textLength="14.00" lengthAdjust="spacingAndGlyphs" stroke="#222" stroke-width="0.1">15,000</text>
<line x1="152.80" y1="255.40" x2="152.80" y2="258.60" stroke="#000" stroke-width="0.9" />
<text x="145.60" y="267.40" font-size="5.90" fill="#222" textLength="14.40" lengthAdjust="spacingAndGlyphs" stroke="#222" stroke-width="0.1">20,000</text>
<text x="73.10" y="234.50" font-size="3.80" fill="#cc2a48" textLength="39.80" lengthAdjust="spacingAndGlyphs">NSC12 (0uM) (positively</text>
<text x="73.10" y="238.80" font-size="3.80" fill="#cc2a48" textLength="17.30" lengthAdjust="spacingAndGlyphs">correlated)</text>
<text x="106.51" y="243.85" font-size="3.80" fill="#222" textLength="33.00" lengthAdjust="spacingAndGlyphs">Zero cross at 13736</text>
<text x="149.60" y="247.25" font-size="3.80" fill="#3c5aa8" text-anchor="end" textLength="21.30" lengthAdjust="spacingAndGlyphs">NSC12 (0uM)</text>
<text x="149.60" y="251.65" font-size="3.80" fill="#3c5aa8" text-anchor="end" textLength="36.70" lengthAdjust="spacingAndGlyphs">(negatively correlated)</text>
<text x="154.90" y="185.90" font-size="6.80" fill="#111" text-anchor="end" textLength="20.72" lengthAdjust="spacingAndGlyphs" stroke="#111" stroke-width="0.12">P &lt;0.01</text>
<text x="154.90" y="193.40" font-size="6.80" fill="#111" text-anchor="end" textLength="25.52" lengthAdjust="spacingAndGlyphs" stroke="#111" stroke-width="0.12">FDR 0.09</text>
<text x="84.50" y="277.90" font-size="7.90" fill="#222" textLength="61.70" lengthAdjust="spacingAndGlyphs" stroke="#222" stroke-width="0.25">Rank in ordered dataset</text>
<line x1="61.30" y1="287.50" x2="64.80" y2="287.50" stroke="#52a83a" stroke-width="0.8" />
<text x="68.70" y="288.90" font-size="4.30" fill="#555" textLength="30.80" lengthAdjust="spacingAndGlyphs">Enrichment profile</text>
<line x1="103.60" y1="287.50" x2="106.30" y2="287.50" stroke="#555" stroke-width="0.6" />
<text x="110.20" y="288.90" font-size="4.30" fill="#555" textLength="7.00" lengthAdjust="spacingAndGlyphs">Hits</text>
<line x1="120.20" y1="287.50" x2="121.50" y2="287.50" stroke="#aaa" stroke-width="0.6" />
<line x1="122.30" y1="287.50" x2="123.60" y2="287.50" stroke="#aaa" stroke-width="0.6" />
<text x="131.70" y="288.90" font-size="4.30" fill="#555" textLength="37.00" lengthAdjust="spacingAndGlyphs">Ranking metric scores</text>
<text x="79.00" y="172.70" font-size="4.70" fill="#222" textLength="72.40" lengthAdjust="spacingAndGlyphs">Enrichment plot: GNF2_MYD88</text>
<text transform="translate(44.10,212.00) rotate(-90)" font-size="8.00" fill="#222" textLength="30.70" lengthAdjust="spacingAndGlyphs" stroke="#222" stroke-width="0.18">Enrichment</text>
<text transform="translate(52.50,208.70) rotate(-90)" font-size="8.00" fill="#222" textLength="25.30" lengthAdjust="spacingAndGlyphs" stroke="#222" stroke-width="0.18">score (ES)</text>
<text transform="translate(44.10,266.10) rotate(-90)" font-size="8.00" fill="#222" textLength="50.70" lengthAdjust="spacingAndGlyphs" stroke="#222" stroke-width="0.18">Ranked list metric</text>
<text transform="translate(52.50,262.10) rotate(-90)" font-size="8.00" fill="#222" textLength="39.40" lengthAdjust="spacingAndGlyphs" stroke="#222" stroke-width="0.18">(signal2Noise)</text>
<line x1="33.50" y1="169.80" x2="33.50" y2="269.50" stroke="#222" stroke-width="1.0" />
<text transform="translate(28.60,235.20) rotate(-90)" font-size="10.60" fill="#111" textLength="32.70" lengthAdjust="spacingAndGlyphs" stroke="#111" stroke-width="0.15">MYD88</text>
<line x1="291.98" y1="177.90" x2="291.98" y2="214.40" stroke="#ececec" stroke-width="0.5" />
<line x1="291.98" y1="230.70" x2="291.98" y2="254.70" stroke="#f0f0f0" stroke-width="0.5" />
<line x1="312.15" y1="177.90" x2="312.15" y2="214.40" stroke="#ececec" stroke-width="0.5" />
<line x1="312.15" y1="230.70" x2="312.15" y2="254.70" stroke="#f0f0f0" stroke-width="0.5" />
<line x1="332.32" y1="177.90" x2="332.32" y2="214.40" stroke="#ececec" stroke-width="0.5" />
<line x1="332.32" y1="230.70" x2="332.32" y2="254.70" stroke="#f0f0f0" stroke-width="0.5" />
<line x1="272.30" y1="177.10" x2="353.90" y2="177.10" stroke="#f2f2f2" stroke-width="0.4" />
<line x1="272.30" y1="182.98" x2="353.90" y2="182.98" stroke="#f2f2f2" stroke-width="0.4" />
<line x1="272.30" y1="188.87" x2="353.90" y2="188.87" stroke="#f2f2f2" stroke-width="0.4" />
<line x1="272.30" y1="194.75" x2="353.90" y2="194.75" stroke="#f2f2f2" stroke-width="0.4" />
<line x1="272.30" y1="200.63" x2="353.90" y2="200.63" stroke="#f2f2f2" stroke-width="0.4" />
<line x1="272.30" y1="206.52" x2="353.90" y2="206.52" stroke="#f2f2f2" stroke-width="0.4" />
<line x1="272.30" y1="212.40" x2="353.90" y2="212.40" stroke="#f2f2f2" stroke-width="0.4" />
<line x1="272.30" y1="212.40" x2="353.90" y2="212.40" stroke="#d0d0d0" stroke-width="0.6" />
<line x1="272.30" y1="214.40" x2="353.90" y2="214.40" stroke="#e4e4e4" stroke-width="0.6" />
<line x1="283.17" y1="215.20" x2="283.17" y2="226.90" stroke="#222" stroke-width="0.50"/>
<line x1="285.71" y1="215.20" x2="285.71" y2="226.90" stroke="#aaa" stroke-width="0.42"/>
<line x1="291.34" y1="215.20" x2="291.34" y2="226.90" stroke="#444" stroke-width="0.70"/>
<line x1="280.15" y1="215.20" x2="280.15" y2="226.90" stroke="#777" stroke-width="0.68"/>
<line x1="306.43" y1="215.20" x2="306.43" y2="226.90" stroke="#888" stroke-width="0.76"/>
<line x1="275.35" y1="215.20" x2="275.35" y2="226.90" stroke="#222" stroke-width="0.75"/>
<line x1="276.30" y1="215.20" x2="276.30" y2="226.90" stroke="#555" stroke-width="0.41"/>
<line x1="291.24" y1="215.20" x2="291.24" y2="226.90" stroke="#444" stroke-width="0.78"/>
<line x1="272.12" y1="215.20" x2="272.12" y2="226.90" stroke="#777" stroke-width="0.75"/>
<line x1="288.47" y1="215.20" x2="288.47" y2="226.90" stroke="#444" stroke-width="0.41"/>
<line x1="288.07" y1="215.20" x2="288.07" y2="226.90" stroke="#777" stroke-width="0.64"/>
<line x1="279.47" y1="215.20" x2="279.47" y2="226.90" stroke="#666" stroke-width="0.77"/>
<line x1="330.88" y1="215.20" x2="330.88" y2="226.90" stroke="#888" stroke-width="0.60"/>
<line x1="293.83" y1="215.20" x2="293.83" y2="226.90" stroke="#222" stroke-width="0.40"/>
<line x1="291.24" y1="215.20" x2="291.24" y2="226.90" stroke="#222" stroke-width="0.68"/>
<line x1="343.01" y1="215.20" x2="343.01" y2="226.90" stroke="#999" stroke-width="0.55"/>
<line x1="318.96" y1="215.20" x2="318.96" y2="226.90" stroke="#999" stroke-width="0.35"/>
<line x1="280.97" y1="215.20" x2="280.97" y2="226.90" stroke="#888" stroke-width="0.50"/>
<line x1="279.09" y1="215.20" x2="279.09" y2="226.90" stroke="#444" stroke-width="0.58"/>
<line x1="276.33" y1="215.20" x2="276.33" y2="226.90" stroke="#aaa" stroke-width="0.57"/>
<line x1="290.76" y1="215.20" x2="290.76" y2="226.90" stroke="#aaa" stroke-width="0.58"/>
<line x1="283.22" y1="215.20" x2="283.22" y2="226.90" stroke="#888" stroke-width="0.36"/>
<line x1="293.39" y1="215.20" x2="293.39" y2="226.90" stroke="#444" stroke-width="0.62"/>
<line x1="272.77" y1="215.20" x2="272.77" y2="226.90" stroke="#777" stroke-width="0.70"/>
<line x1="295.96" y1="215.20" x2="295.96" y2="226.90" stroke="#999" stroke-width="0.48"/>
<line x1="296.10" y1="215.20" x2="296.10" y2="226.90" stroke="#aaa" stroke-width="0.55"/>
<line x1="285.68" y1="215.20" x2="285.68" y2="226.90" stroke="#555" stroke-width="0.51"/>
<line x1="282.34" y1="215.20" x2="282.34" y2="226.90" stroke="#444" stroke-width="0.42"/>
<line x1="288.46" y1="215.20" x2="288.46" y2="226.90" stroke="#aaa" stroke-width="0.39"/>
<line x1="293.35" y1="215.20" x2="293.35" y2="226.90" stroke="#222" stroke-width="0.61"/>
<line x1="297.15" y1="215.20" x2="297.15" y2="226.90" stroke="#444" stroke-width="0.74"/>
<line x1="277.08" y1="215.20" x2="277.08" y2="226.90" stroke="#666" stroke-width="0.40"/>
<line x1="276.15" y1="215.20" x2="276.15" y2="226.90" stroke="#999" stroke-width="0.46"/>
<line x1="322.90" y1="215.20" x2="322.90" y2="226.90" stroke="#222" stroke-width="0.66"/>
<line x1="305.19" y1="215.20" x2="305.19" y2="226.90" stroke="#777" stroke-width="0.37"/>
<line x1="333.59" y1="215.20" x2="333.59" y2="226.90" stroke="#222" stroke-width="0.51"/>
<line x1="273.93" y1="215.20" x2="273.93" y2="226.90" stroke="#999" stroke-width="0.39"/>
<line x1="283.12" y1="215.20" x2="283.12" y2="226.90" stroke="#777" stroke-width="0.55"/>
<line x1="282.42" y1="215.20" x2="282.42" y2="226.90" stroke="#444" stroke-width="0.40"/>
<line x1="281.66" y1="215.20" x2="281.66" y2="226.90" stroke="#444" stroke-width="0.52"/>
<line x1="292.85" y1="215.20" x2="292.85" y2="226.90" stroke="#777" stroke-width="0.36"/>
<line x1="292.59" y1="215.20" x2="292.59" y2="226.90" stroke="#444" stroke-width="0.58"/>
<line x1="327.73" y1="215.20" x2="327.73" y2="226.90" stroke="#222" stroke-width="0.71"/>
<line x1="351.23" y1="215.20" x2="351.23" y2="226.90" stroke="#999" stroke-width="0.55"/>
<line x1="278.25" y1="215.20" x2="278.25" y2="226.90" stroke="#555" stroke-width="0.62"/>
<line x1="287.10" y1="215.20" x2="287.10" y2="226.90" stroke="#999" stroke-width="0.39"/>
<line x1="297.87" y1="215.20" x2="297.87" y2="226.90" stroke="#777" stroke-width="0.67"/>
<line x1="325.88" y1="215.20" x2="325.88" y2="226.90" stroke="#444" stroke-width="0.50"/>
<line x1="273.37" y1="215.20" x2="273.37" y2="226.90" stroke="#555" stroke-width="0.45"/>
<line x1="309.83" y1="215.20" x2="309.83" y2="226.90" stroke="#777" stroke-width="0.38"/>
<line x1="272.69" y1="215.20" x2="272.69" y2="226.90" stroke="#222" stroke-width="0.39"/>
<line x1="288.38" y1="215.20" x2="288.38" y2="226.90" stroke="#666" stroke-width="0.71"/>
<line x1="285.88" y1="215.20" x2="285.88" y2="226.90" stroke="#222" stroke-width="0.48"/>
<line x1="279.50" y1="215.20" x2="279.50" y2="226.90" stroke="#555" stroke-width="0.57"/>
<line x1="283.84" y1="215.20" x2="283.84" y2="226.90" stroke="#222" stroke-width="0.60"/>
<line x1="348.06" y1="215.20" x2="348.06" y2="226.90" stroke="#666" stroke-width="0.59"/>
<line x1="333.20" y1="215.20" x2="333.20" y2="226.90" stroke="#aaa" stroke-width="0.45"/>
<line x1="288.45" y1="215.20" x2="288.45" y2="226.90" stroke="#aaa" stroke-width="0.35"/>
<line x1="317.36" y1="215.20" x2="317.36" y2="226.90" stroke="#999" stroke-width="0.57"/>
<line x1="276.80" y1="215.20" x2="276.80" y2="226.90" stroke="#aaa" stroke-width="0.75"/>
<line x1="287.46" y1="215.20" x2="287.46" y2="226.90" stroke="#666" stroke-width="0.78"/>
<line x1="278.77" y1="215.20" x2="278.77" y2="226.90" stroke="#777" stroke-width="0.70"/>
<linearGradient id="b2g" x1="0" x2="1" y1="0" y2="0"><stop offset="0" stop-color="#d42a30"/><stop offset="0.215" stop-color="#d83038"/><stop offset="0.237" stop-color="#dc4a52"/><stop offset="0.420" stop-color="#e06070"/><stop offset="0.440" stop-color="#e8a4c0"/><stop offset="0.570" stop-color="#eab0cc"/><stop offset="0.590" stop-color="#ccc8ec"/><stop offset="0.760" stop-color="#b4b2e2"/><stop offset="0.790" stop-color="#5a50b0"/><stop offset="1" stop-color="#2a1c88"/></linearGradient>
<rect x="271.80" y="227.30" width="82.10" height="2.40" fill="url(#b2g)" />
<polygon points="271.80,243.95 271.80,238.68 272.80,239.99 274.80,241.05 279.80,241.84 289.80,242.50 320.68,243.95 337.29,245.14 347.90,246.06 351.90,247.11 353.20,249.22 353.90,252.65 353.90,243.95" fill="#c8c8c8"/>
<line x1="271.80" y1="243.95" x2="353.90" y2="243.95" stroke="#9a9a9a" stroke-width="0.4" />
<polyline points="272.60,209.20 273.80,199.70 275.20,195.40 276.90,194.20 278.70,188.40 280.40,184.10 282.10,180.70 284.70,179.30 287.30,178.90 290.80,179.80 294.20,180.70 297.70,178.60 301.20,179.30 308.10,183.30 321.90,192.80 335.80,201.40 346.20,208.30 351.00,212.20 352.20,210.40 353.90,212.20" fill="none" stroke="#52a83a" stroke-width="1.2" stroke-linejoin="round"/>
<rect x="272.30" y="176.90" width="85.30" height="78.30" fill="none" stroke="#000" stroke-width="1.1"/>
<line x1="268.70" y1="177.10" x2="272.30" y2="177.10" stroke="#000" stroke-width="1.0" />
<text x="264.70" y="179.10" font-size="5.60" fill="#222" text-anchor="end" stroke="#222" stroke-width="0.12">0.6</text>
<line x1="268.70" y1="182.98" x2="272.30" y2="182.98" stroke="#000" stroke-width="1.0" />
<text x="264.70" y="184.98" font-size="5.60" fill="#222" text-anchor="end" stroke="#222" stroke-width="0.12">0.5</text>
<line x1="268.70" y1="188.87" x2="272.30" y2="188.87" stroke="#000" stroke-width="1.0" />
<text x="264.70" y="190.87" font-size="5.60" fill="#222" text-anchor="end" stroke="#222" stroke-width="0.12">0.4</text>
<line x1="268.70" y1="194.75" x2="272.30" y2="194.75" stroke="#000" stroke-width="1.0" />
<text x="264.70" y="196.75" font-size="5.60" fill="#222" text-anchor="end" stroke="#222" stroke-width="0.12">0.3</text>
<line x1="268.70" y1="200.63" x2="272.30" y2="200.63" stroke="#000" stroke-width="1.0" />
<text x="264.70" y="202.63" font-size="5.60" fill="#222" text-anchor="end" stroke="#222" stroke-width="0.12">0.2</text>
<line x1="268.70" y1="206.52" x2="272.30" y2="206.52" stroke="#000" stroke-width="1.0" />
<text x="264.70" y="208.52" font-size="5.60" fill="#222" text-anchor="end" stroke="#222" stroke-width="0.12">0.1</text>
<line x1="268.70" y1="212.40" x2="272.30" y2="212.40" stroke="#000" stroke-width="1.0" />
<text x="264.70" y="214.40" font-size="5.60" fill="#222" text-anchor="end" stroke="#222" stroke-width="0.12">0.0</text>
<line x1="268.70" y1="233.40" x2="272.30" y2="233.40" stroke="#000" stroke-width="1.0" />
<text transform="translate(264.90,233.40) rotate(-90)" font-size="4.8" fill="#222" stroke="#222" stroke-width="0.1" text-anchor="middle">4</text>
<line x1="268.70" y1="238.68" x2="272.30" y2="238.68" stroke="#000" stroke-width="1.0" />
<text transform="translate(264.90,238.68) rotate(-90)" font-size="4.8" fill="#222" stroke="#222" stroke-width="0.1" text-anchor="middle">2</text>
<line x1="268.70" y1="243.95" x2="272.30" y2="243.95" stroke="#000" stroke-width="1.0" />
<text transform="translate(264.90,243.95) rotate(-90)" font-size="4.8" fill="#222" stroke="#222" stroke-width="0.1" text-anchor="middle">0</text>
<line x1="268.70" y1="249.22" x2="272.30" y2="249.22" stroke="#000" stroke-width="1.0" />
<text transform="translate(264.90,249.22) rotate(-90)" font-size="4.8" fill="#222" stroke="#222" stroke-width="0.1" text-anchor="middle">-2</text>
<line x1="268.70" y1="254.50" x2="272.30" y2="254.50" stroke="#000" stroke-width="1.0" />
<text transform="translate(264.90,254.50) rotate(-90)" font-size="4.8" fill="#222" stroke="#222" stroke-width="0.1" text-anchor="middle">-4</text>
<line x1="271.80" y1="255.20" x2="271.80" y2="258.40" stroke="#000" stroke-width="0.9" />
<text x="271.80" y="267.40" font-size="5.90" fill="#222" text-anchor="middle" stroke="#222" stroke-width="0.1">0</text>
<line x1="291.98" y1="255.20" x2="291.98" y2="258.40" stroke="#000" stroke-width="0.9" />
<text x="286.28" y="267.40" font-size="5.90" fill="#222" textLength="11.40" lengthAdjust="spacingAndGlyphs" stroke="#222" stroke-width="0.1">5,000</text>
<line x1="312.15" y1="255.20" x2="312.15" y2="258.40" stroke="#000" stroke-width="0.9" />
<text x="305.15" y="267.40" font-size="5.90" fill="#222" textLength="14.00" lengthAdjust="spacingAndGlyphs" stroke="#222" stroke-width="0.1">10,000</text>
<line x1="332.32" y1="255.20" x2="332.32" y2="258.40" stroke="#000" stroke-width="0.9" />
<text x="325.32" y="267.40" font-size="5.90" fill="#222" textLength="14.00" lengthAdjust="spacingAndGlyphs" stroke="#222" stroke-width="0.1">15,000</text>
<line x1="352.50" y1="255.20" x2="352.50" y2="258.40" stroke="#000" stroke-width="0.9" />
<text x="345.30" y="267.40" font-size="5.90" fill="#222" textLength="14.40" lengthAdjust="spacingAndGlyphs" stroke="#222" stroke-width="0.1">20,000</text>
<text x="272.20" y="236.70" font-size="3.80" fill="#cc2a48" textLength="39.80" lengthAdjust="spacingAndGlyphs">NSC12 (0uM) (positively</text>
<text x="272.20" y="241.00" font-size="3.80" fill="#cc2a48" textLength="17.30" lengthAdjust="spacingAndGlyphs">correlated)</text>
<text x="299.48" y="245.55" font-size="3.80" fill="#222" textLength="33.00" lengthAdjust="spacingAndGlyphs">Zero cross at 12113</text>
<text x="349.60" y="248.95" font-size="3.80" fill="#3c5aa8" text-anchor="end" textLength="21.30" lengthAdjust="spacingAndGlyphs">NSC12 (0uM)</text>
<text x="349.60" y="253.35" font-size="3.80" fill="#3c5aa8" text-anchor="end" textLength="36.70" lengthAdjust="spacingAndGlyphs">(negatively correlated)</text>
<text x="354.50" y="185.90" font-size="6.80" fill="#111" text-anchor="end" textLength="20.72" lengthAdjust="spacingAndGlyphs" stroke="#111" stroke-width="0.12">P &lt;0.01</text>
<text x="354.50" y="193.40" font-size="6.80" fill="#111" text-anchor="end" textLength="29.00" lengthAdjust="spacingAndGlyphs" stroke="#111" stroke-width="0.12">FDR &lt;0.01</text>
<text x="284.20" y="277.90" font-size="7.90" fill="#222" textLength="62.00" lengthAdjust="spacingAndGlyphs" stroke="#222" stroke-width="0.25">Rank in ordered dataset</text>
<line x1="261.30" y1="287.50" x2="264.80" y2="287.50" stroke="#52a83a" stroke-width="0.8" />
<text x="268.70" y="288.90" font-size="4.30" fill="#555" textLength="30.80" lengthAdjust="spacingAndGlyphs">Enrichment profile</text>
<line x1="303.60" y1="287.50" x2="306.30" y2="287.50" stroke="#555" stroke-width="0.6" />
<text x="310.20" y="288.90" font-size="4.30" fill="#555" textLength="7.00" lengthAdjust="spacingAndGlyphs">Hits</text>
<line x1="320.20" y1="287.50" x2="321.50" y2="287.50" stroke="#aaa" stroke-width="0.6" />
<line x1="322.30" y1="287.50" x2="323.60" y2="287.50" stroke="#aaa" stroke-width="0.6" />
<text x="331.70" y="288.90" font-size="4.30" fill="#555" textLength="37.00" lengthAdjust="spacingAndGlyphs">Ranking metric scores</text>
<text x="278.50" y="171.50" font-size="4.70" fill="#222" textLength="72.10" lengthAdjust="spacingAndGlyphs">Enrichment plot: GNF2_MYD88</text>
<text transform="translate(243.90,210.40) rotate(-90)" font-size="8.00" fill="#222" textLength="31.40" lengthAdjust="spacingAndGlyphs" stroke="#222" stroke-width="0.18">Enrichment</text>
<text transform="translate(252.50,207.60) rotate(-90)" font-size="8.00" fill="#222" textLength="26.60" lengthAdjust="spacingAndGlyphs" stroke="#222" stroke-width="0.18">score (ES)</text>
<text transform="translate(243.90,267.70) rotate(-90)" font-size="8.00" fill="#222" textLength="47.50" lengthAdjust="spacingAndGlyphs" stroke="#222" stroke-width="0.18">Ranked list metric</text>
<text transform="translate(252.50,263.50) rotate(-90)" font-size="8.00" fill="#222" textLength="39.10" lengthAdjust="spacingAndGlyphs" stroke="#222" stroke-width="0.18">(signal2Noise)</text>
<text x="8.75" y="637.50" font-size="12.40" fill="#000" font-weight="bold" textLength="9.25" lengthAdjust="spacingAndGlyphs" stroke="#000" stroke-width="0.3">D</text>
<line x1="93.07" y1="662.10" x2="93.07" y2="699.40" stroke="#ececec" stroke-width="0.5" />
<line x1="93.07" y1="716.80" x2="93.07" y2="741.70" stroke="#f0f0f0" stroke-width="0.5" />
<line x1="113.55" y1="662.10" x2="113.55" y2="699.40" stroke="#ececec" stroke-width="0.5" />
<line x1="113.55" y1="716.80" x2="113.55" y2="741.70" stroke="#f0f0f0" stroke-width="0.5" />
<line x1="134.03" y1="662.10" x2="134.03" y2="699.40" stroke="#ececec" stroke-width="0.5" />
<line x1="134.03" y1="716.80" x2="134.03" y2="741.70" stroke="#f0f0f0" stroke-width="0.5" />
<line x1="72.60" y1="663.70" x2="155.30" y2="663.70" stroke="#f2f2f2" stroke-width="0.4" />
<line x1="72.60" y1="671.25" x2="155.30" y2="671.25" stroke="#f2f2f2" stroke-width="0.4" />
<line x1="72.60" y1="678.80" x2="155.30" y2="678.80" stroke="#f2f2f2" stroke-width="0.4" />
<line x1="72.60" y1="686.35" x2="155.30" y2="686.35" stroke="#f2f2f2" stroke-width="0.4" />
<line x1="72.60" y1="693.90" x2="155.30" y2="693.90" stroke="#f2f2f2" stroke-width="0.4" />
<line x1="72.60" y1="693.90" x2="155.30" y2="693.90" stroke="#d0d0d0" stroke-width="0.6" />
<line x1="72.60" y1="699.40" x2="155.30" y2="699.40" stroke="#e4e4e4" stroke-width="0.6" />
<line x1="152.03" y1="700.20" x2="152.03" y2="712.90" stroke="#888" stroke-width="0.40"/>
<line x1="74.83" y1="700.20" x2="74.83" y2="712.90" stroke="#aaa" stroke-width="0.46"/>
<line x1="142.59" y1="700.20" x2="142.59" y2="712.90" stroke="#aaa" stroke-width="0.41"/>
<line x1="118.18" y1="700.20" x2="118.18" y2="712.90" stroke="#777" stroke-width="0.42"/>
<line x1="130.95" y1="700.20" x2="130.95" y2="712.90" stroke="#777" stroke-width="0.50"/>
<line x1="82.81" y1="700.20" x2="82.81" y2="712.90" stroke="#444" stroke-width="0.49"/>
<line x1="79.37" y1="700.20" x2="79.37" y2="712.90" stroke="#555" stroke-width="0.64"/>
<line x1="122.22" y1="700.20" x2="122.22" y2="712.90" stroke="#aaa" stroke-width="0.72"/>
<line x1="148.68" y1="700.20" x2="148.68" y2="712.90" stroke="#999" stroke-width="0.61"/>
<line x1="146.77" y1="700.20" x2="146.77" y2="712.90" stroke="#222" stroke-width="0.78"/>
<line x1="103.60" y1="700.20" x2="103.60" y2="712.90" stroke="#aaa" stroke-width="0.46"/>
<line x1="94.70" y1="700.20" x2="94.70" y2="712.90" stroke="#777" stroke-width="0.69"/>
<line x1="141.13" y1="700.20" x2="141.13" y2="712.90" stroke="#666" stroke-width="0.46"/>
<line x1="98.04" y1="700.20" x2="98.04" y2="712.90" stroke="#666" stroke-width="0.50"/>
<line x1="147.78" y1="700.20" x2="147.78" y2="712.90" stroke="#888" stroke-width="0.50"/>
<line x1="76.79" y1="700.20" x2="76.79" y2="712.90" stroke="#222" stroke-width="0.56"/>
<line x1="95.14" y1="700.20" x2="95.14" y2="712.90" stroke="#777" stroke-width="0.49"/>
<line x1="78.80" y1="700.20" x2="78.80" y2="712.90" stroke="#555" stroke-width="0.36"/>
<line x1="105.93" y1="700.20" x2="105.93" y2="712.90" stroke="#aaa" stroke-width="0.43"/>
<line x1="154.92" y1="700.20" x2="154.92" y2="712.90" stroke="#444" stroke-width="0.76"/>
<line x1="76.75" y1="700.20" x2="76.75" y2="712.90" stroke="#888" stroke-width="0.71"/>
<line x1="148.70" y1="700.20" x2="148.70" y2="712.90" stroke="#222" stroke-width="0.42"/>
<line x1="107.25" y1="700.20" x2="107.25" y2="712.90" stroke="#888" stroke-width="0.73"/>
<line x1="126.97" y1="700.20" x2="126.97" y2="712.90" stroke="#444" stroke-width="0.59"/>
<line x1="91.20" y1="700.20" x2="91.20" y2="712.90" stroke="#666" stroke-width="0.71"/>
<line x1="76.67" y1="700.20" x2="76.67" y2="712.90" stroke="#aaa" stroke-width="0.72"/>
<line x1="91.00" y1="700.20" x2="91.00" y2="712.90" stroke="#555" stroke-width="0.38"/>
<line x1="110.59" y1="700.20" x2="110.59" y2="712.90" stroke="#555" stroke-width="0.49"/>
<line x1="88.21" y1="700.20" x2="88.21" y2="712.90" stroke="#222" stroke-width="0.78"/>
<line x1="120.40" y1="700.20" x2="120.40" y2="712.90" stroke="#222" stroke-width="0.75"/>
<line x1="99.79" y1="700.20" x2="99.79" y2="712.90" stroke="#777" stroke-width="0.63"/>
<line x1="103.03" y1="700.20" x2="103.03" y2="712.90" stroke="#777" stroke-width="0.49"/>
<line x1="102.00" y1="700.20" x2="102.00" y2="712.90" stroke="#444" stroke-width="0.59"/>
<line x1="88.49" y1="700.20" x2="88.49" y2="712.90" stroke="#666" stroke-width="0.55"/>
<line x1="109.45" y1="700.20" x2="109.45" y2="712.90" stroke="#555" stroke-width="0.55"/>
<line x1="96.93" y1="700.20" x2="96.93" y2="712.90" stroke="#222" stroke-width="0.72"/>
<line x1="111.25" y1="700.20" x2="111.25" y2="712.90" stroke="#777" stroke-width="0.37"/>
<line x1="80.75" y1="700.20" x2="80.75" y2="712.90" stroke="#222" stroke-width="0.36"/>
<line x1="111.61" y1="700.20" x2="111.61" y2="712.90" stroke="#777" stroke-width="0.80"/>
<line x1="80.76" y1="700.20" x2="80.76" y2="712.90" stroke="#222" stroke-width="0.55"/>
<line x1="140.52" y1="700.20" x2="140.52" y2="712.90" stroke="#222" stroke-width="0.73"/>
<line x1="138.26" y1="700.20" x2="138.26" y2="712.90" stroke="#222" stroke-width="0.68"/>
<line x1="77.55" y1="700.20" x2="77.55" y2="712.90" stroke="#888" stroke-width="0.47"/>
<line x1="101.32" y1="700.20" x2="101.32" y2="712.90" stroke="#aaa" stroke-width="0.53"/>
<line x1="73.22" y1="700.20" x2="73.22" y2="712.90" stroke="#999" stroke-width="0.39"/>
<line x1="124.41" y1="700.20" x2="124.41" y2="712.90" stroke="#999" stroke-width="0.49"/>
<line x1="100.24" y1="700.20" x2="100.24" y2="712.90" stroke="#777" stroke-width="0.77"/>
<line x1="140.57" y1="700.20" x2="140.57" y2="712.90" stroke="#888" stroke-width="0.46"/>
<line x1="128.91" y1="700.20" x2="128.91" y2="712.90" stroke="#777" stroke-width="0.57"/>
<line x1="83.20" y1="700.20" x2="83.20" y2="712.90" stroke="#666" stroke-width="0.70"/>
<line x1="79.48" y1="700.20" x2="79.48" y2="712.90" stroke="#aaa" stroke-width="0.70"/>
<line x1="122.59" y1="700.20" x2="122.59" y2="712.90" stroke="#666" stroke-width="0.42"/>
<line x1="139.02" y1="700.20" x2="139.02" y2="712.90" stroke="#aaa" stroke-width="0.38"/>
<line x1="92.13" y1="700.20" x2="92.13" y2="712.90" stroke="#666" stroke-width="0.70"/>
<line x1="107.91" y1="700.20" x2="107.91" y2="712.90" stroke="#555" stroke-width="0.69"/>
<line x1="138.70" y1="700.20" x2="138.70" y2="712.90" stroke="#777" stroke-width="0.57"/>
<line x1="125.15" y1="700.20" x2="125.15" y2="712.90" stroke="#444" stroke-width="0.54"/>
<line x1="146.18" y1="700.20" x2="146.18" y2="712.90" stroke="#666" stroke-width="0.38"/>
<line x1="97.14" y1="700.20" x2="97.14" y2="712.90" stroke="#555" stroke-width="0.49"/>
<line x1="152.32" y1="700.20" x2="152.32" y2="712.90" stroke="#888" stroke-width="0.52"/>
<line x1="99.52" y1="700.20" x2="99.52" y2="712.90" stroke="#666" stroke-width="0.55"/>
<line x1="151.07" y1="700.20" x2="151.07" y2="712.90" stroke="#888" stroke-width="0.46"/>
<line x1="90.23" y1="700.20" x2="90.23" y2="712.90" stroke="#aaa" stroke-width="0.52"/>
<line x1="150.74" y1="700.20" x2="150.74" y2="712.90" stroke="#777" stroke-width="0.75"/>
<line x1="73.59" y1="700.20" x2="73.59" y2="712.90" stroke="#222" stroke-width="0.51"/>
<line x1="126.36" y1="700.20" x2="126.36" y2="712.90" stroke="#888" stroke-width="0.66"/>
<line x1="109.76" y1="700.20" x2="109.76" y2="712.90" stroke="#666" stroke-width="0.69"/>
<line x1="90.21" y1="700.20" x2="90.21" y2="712.90" stroke="#999" stroke-width="0.68"/>
<line x1="131.09" y1="700.20" x2="131.09" y2="712.90" stroke="#aaa" stroke-width="0.38"/>
<line x1="127.10" y1="700.20" x2="127.10" y2="712.90" stroke="#666" stroke-width="0.77"/>
<line x1="112.64" y1="700.20" x2="112.64" y2="712.90" stroke="#444" stroke-width="0.41"/>
<line x1="145.25" y1="700.20" x2="145.25" y2="712.90" stroke="#777" stroke-width="0.66"/>
<line x1="103.90" y1="700.20" x2="103.90" y2="712.90" stroke="#777" stroke-width="0.50"/>
<line x1="104.51" y1="700.20" x2="104.51" y2="712.90" stroke="#666" stroke-width="0.57"/>
<line x1="111.73" y1="700.20" x2="111.73" y2="712.90" stroke="#555" stroke-width="0.39"/>
<line x1="154.71" y1="700.20" x2="154.71" y2="712.90" stroke="#888" stroke-width="0.56"/>
<line x1="89.04" y1="700.20" x2="89.04" y2="712.90" stroke="#222" stroke-width="0.74"/>
<line x1="96.67" y1="700.20" x2="96.67" y2="712.90" stroke="#888" stroke-width="0.73"/>
<line x1="126.06" y1="700.20" x2="126.06" y2="712.90" stroke="#aaa" stroke-width="0.58"/>
<line x1="139.52" y1="700.20" x2="139.52" y2="712.90" stroke="#222" stroke-width="0.67"/>
<line x1="96.16" y1="700.20" x2="96.16" y2="712.90" stroke="#444" stroke-width="0.67"/>
<line x1="95.32" y1="700.20" x2="95.32" y2="712.90" stroke="#555" stroke-width="0.78"/>
<line x1="136.07" y1="700.20" x2="136.07" y2="712.90" stroke="#999" stroke-width="0.52"/>
<line x1="109.52" y1="700.20" x2="109.52" y2="712.90" stroke="#555" stroke-width="0.52"/>
<line x1="90.77" y1="700.20" x2="90.77" y2="712.90" stroke="#444" stroke-width="0.51"/>
<line x1="137.74" y1="700.20" x2="137.74" y2="712.90" stroke="#444" stroke-width="0.63"/>
<line x1="151.89" y1="700.20" x2="151.89" y2="712.90" stroke="#aaa" stroke-width="0.77"/>
<line x1="128.55" y1="700.20" x2="128.55" y2="712.90" stroke="#777" stroke-width="0.60"/>
<line x1="109.19" y1="700.20" x2="109.19" y2="712.90" stroke="#888" stroke-width="0.36"/>
<line x1="121.65" y1="700.20" x2="121.65" y2="712.90" stroke="#666" stroke-width="0.56"/>
<line x1="98.15" y1="700.20" x2="98.15" y2="712.90" stroke="#888" stroke-width="0.62"/>
<line x1="104.34" y1="700.20" x2="104.34" y2="712.90" stroke="#444" stroke-width="0.74"/>
<line x1="110.58" y1="700.20" x2="110.58" y2="712.90" stroke="#555" stroke-width="0.39"/>
<line x1="126.06" y1="700.20" x2="126.06" y2="712.90" stroke="#444" stroke-width="0.68"/>
<line x1="121.40" y1="700.20" x2="121.40" y2="712.90" stroke="#444" stroke-width="0.65"/>
<line x1="128.85" y1="700.20" x2="128.85" y2="712.90" stroke="#777" stroke-width="0.74"/>
<line x1="81.53" y1="700.20" x2="81.53" y2="712.90" stroke="#222" stroke-width="0.57"/>
<line x1="106.51" y1="700.20" x2="106.51" y2="712.90" stroke="#888" stroke-width="0.61"/>
<line x1="122.41" y1="700.20" x2="122.41" y2="712.90" stroke="#777" stroke-width="0.74"/>
<line x1="141.33" y1="700.20" x2="141.33" y2="712.90" stroke="#555" stroke-width="0.49"/>
<line x1="150.13" y1="700.20" x2="150.13" y2="712.90" stroke="#777" stroke-width="0.69"/>
<line x1="111.29" y1="700.20" x2="111.29" y2="712.90" stroke="#999" stroke-width="0.72"/>
<line x1="123.68" y1="700.20" x2="123.68" y2="712.90" stroke="#444" stroke-width="0.46"/>
<line x1="94.03" y1="700.20" x2="94.03" y2="712.90" stroke="#999" stroke-width="0.72"/>
<line x1="104.55" y1="700.20" x2="104.55" y2="712.90" stroke="#222" stroke-width="0.36"/>
<line x1="130.53" y1="700.20" x2="130.53" y2="712.90" stroke="#666" stroke-width="0.79"/>
<line x1="102.24" y1="700.20" x2="102.24" y2="712.90" stroke="#999" stroke-width="0.62"/>
<line x1="140.89" y1="700.20" x2="140.89" y2="712.90" stroke="#555" stroke-width="0.40"/>
<line x1="74.57" y1="700.20" x2="74.57" y2="712.90" stroke="#666" stroke-width="0.67"/>
<line x1="148.49" y1="700.20" x2="148.49" y2="712.90" stroke="#222" stroke-width="0.43"/>
<line x1="103.65" y1="700.20" x2="103.65" y2="712.90" stroke="#444" stroke-width="0.48"/>
<line x1="89.36" y1="700.20" x2="89.36" y2="712.90" stroke="#555" stroke-width="0.50"/>
<line x1="111.97" y1="700.20" x2="111.97" y2="712.90" stroke="#999" stroke-width="0.47"/>
<line x1="80.01" y1="700.20" x2="80.01" y2="712.90" stroke="#555" stroke-width="0.46"/>
<line x1="81.05" y1="700.20" x2="81.05" y2="712.90" stroke="#888" stroke-width="0.50"/>
<line x1="94.18" y1="700.20" x2="94.18" y2="712.90" stroke="#555" stroke-width="0.71"/>
<line x1="94.74" y1="700.20" x2="94.74" y2="712.90" stroke="#777" stroke-width="0.45"/>
<line x1="75.27" y1="700.20" x2="75.27" y2="712.90" stroke="#222" stroke-width="0.43"/>
<line x1="135.95" y1="700.20" x2="135.95" y2="712.90" stroke="#666" stroke-width="0.42"/>
<line x1="149.48" y1="700.20" x2="149.48" y2="712.90" stroke="#222" stroke-width="0.57"/>
<line x1="143.08" y1="700.20" x2="143.08" y2="712.90" stroke="#555" stroke-width="0.53"/>
<line x1="100.32" y1="700.20" x2="100.32" y2="712.90" stroke="#222" stroke-width="0.36"/>
<line x1="77.85" y1="700.20" x2="77.85" y2="712.90" stroke="#aaa" stroke-width="0.64"/>
<line x1="85.47" y1="700.20" x2="85.47" y2="712.90" stroke="#999" stroke-width="0.73"/>
<line x1="86.13" y1="700.20" x2="86.13" y2="712.90" stroke="#999" stroke-width="0.77"/>
<line x1="99.03" y1="700.20" x2="99.03" y2="712.90" stroke="#555" stroke-width="0.78"/>
<line x1="96.84" y1="700.20" x2="96.84" y2="712.90" stroke="#aaa" stroke-width="0.45"/>
<line x1="145.42" y1="700.20" x2="145.42" y2="712.90" stroke="#888" stroke-width="0.63"/>
<line x1="130.97" y1="700.20" x2="130.97" y2="712.90" stroke="#999" stroke-width="0.41"/>
<line x1="152.44" y1="700.20" x2="152.44" y2="712.90" stroke="#888" stroke-width="0.70"/>
<line x1="79.62" y1="700.20" x2="79.62" y2="712.90" stroke="#777" stroke-width="0.76"/>
<line x1="79.82" y1="700.20" x2="79.82" y2="712.90" stroke="#666" stroke-width="0.57"/>
<line x1="122.10" y1="700.20" x2="122.10" y2="712.90" stroke="#666" stroke-width="0.72"/>
<line x1="141.06" y1="700.20" x2="141.06" y2="712.90" stroke="#777" stroke-width="0.62"/>
<line x1="138.89" y1="700.20" x2="138.89" y2="712.90" stroke="#777" stroke-width="0.71"/>
<line x1="147.25" y1="700.20" x2="147.25" y2="712.90" stroke="#444" stroke-width="0.54"/>
<line x1="93.13" y1="700.20" x2="93.13" y2="712.90" stroke="#888" stroke-width="0.59"/>
<line x1="100.96" y1="700.20" x2="100.96" y2="712.90" stroke="#999" stroke-width="0.78"/>
<line x1="94.52" y1="700.20" x2="94.52" y2="712.90" stroke="#555" stroke-width="0.47"/>
<line x1="110.02" y1="700.20" x2="110.02" y2="712.90" stroke="#222" stroke-width="0.58"/>
<line x1="85.97" y1="700.20" x2="85.97" y2="712.90" stroke="#999" stroke-width="0.35"/>
<line x1="126.30" y1="700.20" x2="126.30" y2="712.90" stroke="#888" stroke-width="0.40"/>
<line x1="139.52" y1="700.20" x2="139.52" y2="712.90" stroke="#888" stroke-width="0.58"/>
<line x1="130.73" y1="700.20" x2="130.73" y2="712.90" stroke="#222" stroke-width="0.46"/>
<line x1="113.68" y1="700.20" x2="113.68" y2="712.90" stroke="#222" stroke-width="0.53"/>
<line x1="150.72" y1="700.20" x2="150.72" y2="712.90" stroke="#777" stroke-width="0.69"/>
<line x1="147.85" y1="700.20" x2="147.85" y2="712.90" stroke="#888" stroke-width="0.47"/>
<line x1="116.69" y1="700.20" x2="116.69" y2="712.90" stroke="#888" stroke-width="0.78"/>
<line x1="139.60" y1="700.20" x2="139.60" y2="712.90" stroke="#777" stroke-width="0.60"/>
<line x1="83.56" y1="700.20" x2="83.56" y2="712.90" stroke="#999" stroke-width="0.71"/>
<linearGradient id="d1g" x1="0" x2="1" y1="0" y2="0"><stop offset="0" stop-color="#d42a30"/><stop offset="0.245" stop-color="#d83038"/><stop offset="0.270" stop-color="#dc4a52"/><stop offset="0.480" stop-color="#e06070"/><stop offset="0.500" stop-color="#e8a4c0"/><stop offset="0.650" stop-color="#eab0cc"/><stop offset="0.670" stop-color="#ccc8ec"/><stop offset="0.780" stop-color="#b4b2e2"/><stop offset="0.810" stop-color="#5a50b0"/><stop offset="1" stop-color="#2a1c88"/></linearGradient>
<rect x="72.60" y="712.90" width="82.70" height="2.90" fill="url(#d1g)" />
<polygon points="72.60,727.90 72.60,722.20 73.60,723.62 75.60,724.76 80.60,725.62 90.60,726.33 128.85,727.90 142.07,729.18 149.30,730.18 153.30,731.32 154.60,733.60 155.30,737.30 155.30,727.90" fill="#c8c8c8"/>
<line x1="72.60" y1="727.90" x2="155.30" y2="727.90" stroke="#9a9a9a" stroke-width="0.4" />
<polyline points="73.10,693.30 74.30,687.30 76.10,681.20 77.80,679.50 79.50,674.30 83.00,672.20 85.60,669.10 89.00,666.50 92.50,664.30 96.00,663.10 98.60,663.10 104.60,665.30 113.30,670.80 121.90,677.80 130.60,684.70 139.20,690.20 146.20,693.70 151.30,696.80 153.10,697.20 154.80,694.20" fill="none" stroke="#52a83a" stroke-width="1.2" stroke-linejoin="round"/>
<rect x="72.60" y="661.10" width="86.30" height="81.10" fill="none" stroke="#000" stroke-width="1.1"/>
<line x1="69.00" y1="663.70" x2="72.60" y2="663.70" stroke="#000" stroke-width="1.0" />
<text x="65.00" y="665.70" font-size="5.60" fill="#222" text-anchor="end" stroke="#222" stroke-width="0.12">0.4</text>
<line x1="69.00" y1="671.25" x2="72.60" y2="671.25" stroke="#000" stroke-width="1.0" />
<text x="65.00" y="673.25" font-size="5.60" fill="#222" text-anchor="end" stroke="#222" stroke-width="0.12">0.3</text>
<line x1="69.00" y1="678.80" x2="72.60" y2="678.80" stroke="#000" stroke-width="1.0" />
<text x="65.00" y="680.80" font-size="5.60" fill="#222" text-anchor="end" stroke="#222" stroke-width="0.12">0.2</text>
<line x1="69.00" y1="686.35" x2="72.60" y2="686.35" stroke="#000" stroke-width="1.0" />
<text x="65.00" y="688.35" font-size="5.60" fill="#222" text-anchor="end" stroke="#222" stroke-width="0.12">0.1</text>
<line x1="69.00" y1="693.90" x2="72.60" y2="693.90" stroke="#000" stroke-width="1.0" />
<text x="65.00" y="695.90" font-size="5.60" fill="#222" text-anchor="end" stroke="#222" stroke-width="0.12">0.0</text>
<line x1="69.00" y1="716.50" x2="72.60" y2="716.50" stroke="#000" stroke-width="1.0" />
<text transform="translate(65.20,716.50) rotate(-90)" font-size="4.8" fill="#222" stroke="#222" stroke-width="0.1" text-anchor="middle">4</text>
<line x1="69.00" y1="722.20" x2="72.60" y2="722.20" stroke="#000" stroke-width="1.0" />
<text transform="translate(65.20,722.20) rotate(-90)" font-size="4.8" fill="#222" stroke="#222" stroke-width="0.1" text-anchor="middle">2</text>
<line x1="69.00" y1="727.90" x2="72.60" y2="727.90" stroke="#000" stroke-width="1.0" />
<text transform="translate(65.20,727.90) rotate(-90)" font-size="4.8" fill="#222" stroke="#222" stroke-width="0.1" text-anchor="middle">0</text>
<line x1="69.00" y1="733.60" x2="72.60" y2="733.60" stroke="#000" stroke-width="1.0" />
<text transform="translate(65.20,733.60) rotate(-90)" font-size="4.8" fill="#222" stroke="#222" stroke-width="0.1" text-anchor="middle">-2</text>
<line x1="69.00" y1="739.30" x2="72.60" y2="739.30" stroke="#000" stroke-width="1.0" />
<text transform="translate(65.20,739.30) rotate(-90)" font-size="4.8" fill="#222" stroke="#222" stroke-width="0.1" text-anchor="middle">-4</text>
<line x1="72.60" y1="742.20" x2="72.60" y2="745.40" stroke="#000" stroke-width="0.9" />
<text x="72.60" y="754.10" font-size="5.90" fill="#222" text-anchor="middle" stroke="#222" stroke-width="0.1">0</text>
<line x1="93.07" y1="742.20" x2="93.07" y2="745.40" stroke="#000" stroke-width="0.9" />
<text x="87.37" y="754.10" font-size="5.90" fill="#222" textLength="11.40" lengthAdjust="spacingAndGlyphs" stroke="#222" stroke-width="0.1">5,000</text>
<line x1="113.55" y1="742.20" x2="113.55" y2="745.40" stroke="#000" stroke-width="0.9" />
<text x="106.55" y="754.10" font-size="5.90" fill="#222" textLength="14.00" lengthAdjust="spacingAndGlyphs" stroke="#222" stroke-width="0.1">10,000</text>
<line x1="134.03" y1="742.20" x2="134.03" y2="745.40" stroke="#000" stroke-width="0.9" />
<text x="127.03" y="754.10" font-size="5.90" fill="#222" textLength="14.00" lengthAdjust="spacingAndGlyphs" stroke="#222" stroke-width="0.1">15,000</text>
<line x1="154.50" y1="742.20" x2="154.50" y2="745.40" stroke="#000" stroke-width="0.9" />
<text x="147.30" y="754.10" font-size="5.90" fill="#222" textLength="14.40" lengthAdjust="spacingAndGlyphs" stroke="#222" stroke-width="0.1">20,000</text>
<text x="73.00" y="719.80" font-size="3.80" fill="#cc2a48" textLength="39.80" lengthAdjust="spacingAndGlyphs">NSC12 (0uM) (positively</text>
<text x="73.00" y="724.10" font-size="3.80" fill="#cc2a48" textLength="17.30" lengthAdjust="spacingAndGlyphs">correlated)</text>
<text x="107.65" y="729.50" font-size="3.80" fill="#222" textLength="33.00" lengthAdjust="spacingAndGlyphs">Zero cross at 13736</text>
<text x="151.00" y="732.90" font-size="3.80" fill="#3c5aa8" text-anchor="end" textLength="21.30" lengthAdjust="spacingAndGlyphs">NSC12 (0uM)</text>
<text x="151.00" y="737.30" font-size="3.80" fill="#3c5aa8" text-anchor="end" textLength="36.70" lengthAdjust="spacingAndGlyphs">(negatively correlated)</text>
<text x="156.20" y="669.50" font-size="6.80" fill="#111" text-anchor="end" textLength="20.72" lengthAdjust="spacingAndGlyphs" stroke="#111" stroke-width="0.12">P &lt;0.01</text>
<text x="156.20" y="677.00" font-size="6.80" fill="#111" text-anchor="end" textLength="25.52" lengthAdjust="spacingAndGlyphs" stroke="#111" stroke-width="0.12">FDR 0.06</text>
<text x="83.70" y="764.50" font-size="7.90" fill="#222" textLength="62.80" lengthAdjust="spacingAndGlyphs" stroke="#222" stroke-width="0.25">Rank in ordered dataset</text>
<line x1="61.20" y1="773.50" x2="64.70" y2="773.50" stroke="#52a83a" stroke-width="0.8" />
<text x="68.60" y="774.90" font-size="4.30" fill="#555" textLength="30.80" lengthAdjust="spacingAndGlyphs">Enrichment profile</text>
<line x1="103.50" y1="773.50" x2="106.20" y2="773.50" stroke="#555" stroke-width="0.6" />
<text x="110.10" y="774.90" font-size="4.30" fill="#555" textLength="7.00" lengthAdjust="spacingAndGlyphs">Hits</text>
<line x1="120.10" y1="773.50" x2="121.40" y2="773.50" stroke="#aaa" stroke-width="0.6" />
<line x1="122.20" y1="773.50" x2="123.50" y2="773.50" stroke="#aaa" stroke-width="0.6" />
<text x="131.60" y="774.90" font-size="4.30" fill="#555" textLength="37.00" lengthAdjust="spacingAndGlyphs">Ranking metric scores</text>
<text x="96.90" y="649.80" font-size="4.50" fill="#222" textLength="37.00" lengthAdjust="spacingAndGlyphs">Enrichment plot:</text>
<text x="72.00" y="655.60" font-size="4.70" fill="#222" textLength="88.00" lengthAdjust="spacingAndGlyphs">BILD_MYC_ONCOGENIC_SIGNATURE</text>
<text transform="translate(44.10,695.00) rotate(-90)" font-size="8.00" fill="#222" textLength="31.00" lengthAdjust="spacingAndGlyphs" stroke="#222" stroke-width="0.18">Enrichment</text>
<text transform="translate(52.50,691.90) rotate(-90)" font-size="8.00" fill="#222" textLength="25.90" lengthAdjust="spacingAndGlyphs" stroke="#222" stroke-width="0.18">score (ES)</text>
<text transform="translate(44.10,751.20) rotate(-90)" font-size="8.00" fill="#222" textLength="47.40" lengthAdjust="spacingAndGlyphs" stroke="#222" stroke-width="0.18">Ranked list metric</text>
<text transform="translate(52.50,747.80) rotate(-90)" font-size="8.00" fill="#222" textLength="38.40" lengthAdjust="spacingAndGlyphs" stroke="#222" stroke-width="0.18">(signal2Noise)</text>
<text x="97.40" y="636.40" font-size="9.40" fill="#111" textLength="36.00" lengthAdjust="spacingAndGlyphs" stroke="#111" stroke-width="0.15">BCWM.1</text>
<line x1="65.40" y1="642.30" x2="165.20" y2="642.30" stroke="#333" stroke-width="1.2" />
<line x1="33.50" y1="654.90" x2="33.50" y2="754.70" stroke="#222" stroke-width="1.0" />
<text transform="translate(29.40,716.20) rotate(-90)" font-size="10.60" fill="#111" textLength="21.60" lengthAdjust="spacingAndGlyphs" stroke="#111" stroke-width="0.15">MYC</text>
<line x1="221.65" y1="663.30" x2="221.65" y2="700.20" stroke="#ececec" stroke-width="0.5" />
<line x1="221.65" y1="717.30" x2="221.65" y2="741.80" stroke="#f0f0f0" stroke-width="0.5" />
<line x1="241.10" y1="663.30" x2="241.10" y2="700.20" stroke="#ececec" stroke-width="0.5" />
<line x1="241.10" y1="717.30" x2="241.10" y2="741.80" stroke="#f0f0f0" stroke-width="0.5" />
<line x1="260.55" y1="663.30" x2="260.55" y2="700.20" stroke="#ececec" stroke-width="0.5" />
<line x1="260.55" y1="717.30" x2="260.55" y2="741.80" stroke="#f0f0f0" stroke-width="0.5" />
<line x1="202.00" y1="664.50" x2="281.70" y2="664.50" stroke="#f2f2f2" stroke-width="0.4" />
<line x1="202.00" y1="668.22" x2="281.70" y2="668.22" stroke="#f2f2f2" stroke-width="0.4" />
<line x1="202.00" y1="671.94" x2="281.70" y2="671.94" stroke="#f2f2f2" stroke-width="0.4" />
<line x1="202.00" y1="675.67" x2="281.70" y2="675.67" stroke="#f2f2f2" stroke-width="0.4" />
<line x1="202.00" y1="679.39" x2="281.70" y2="679.39" stroke="#f2f2f2" stroke-width="0.4" />
<line x1="202.00" y1="683.11" x2="281.70" y2="683.11" stroke="#f2f2f2" stroke-width="0.4" />
<line x1="202.00" y1="686.83" x2="281.70" y2="686.83" stroke="#f2f2f2" stroke-width="0.4" />
<line x1="202.00" y1="690.56" x2="281.70" y2="690.56" stroke="#f2f2f2" stroke-width="0.4" />
<line x1="202.00" y1="694.28" x2="281.70" y2="694.28" stroke="#f2f2f2" stroke-width="0.4" />
<line x1="202.00" y1="698.00" x2="281.70" y2="698.00" stroke="#f2f2f2" stroke-width="0.4" />
<line x1="202.00" y1="690.00" x2="281.70" y2="690.00" stroke="#d0d0d0" stroke-width="0.6" />
<line x1="202.00" y1="700.20" x2="281.70" y2="700.20" stroke="#e4e4e4" stroke-width="0.6" />
<line x1="256.03" y1="701.00" x2="256.03" y2="713.00" stroke="#444" stroke-width="0.58"/>
<line x1="233.49" y1="701.00" x2="233.49" y2="713.00" stroke="#888" stroke-width="0.61"/>
<line x1="249.50" y1="701.00" x2="249.50" y2="713.00" stroke="#aaa" stroke-width="0.50"/>
<line x1="223.50" y1="701.00" x2="223.50" y2="713.00" stroke="#999" stroke-width="0.75"/>
<line x1="204.02" y1="701.00" x2="204.02" y2="713.00" stroke="#444" stroke-width="0.76"/>
<line x1="211.25" y1="701.00" x2="211.25" y2="713.00" stroke="#444" stroke-width="0.71"/>
<line x1="235.15" y1="701.00" x2="235.15" y2="713.00" stroke="#aaa" stroke-width="0.69"/>
<line x1="233.69" y1="701.00" x2="233.69" y2="713.00" stroke="#888" stroke-width="0.61"/>
<line x1="242.13" y1="701.00" x2="242.13" y2="713.00" stroke="#aaa" stroke-width="0.45"/>
<line x1="245.55" y1="701.00" x2="245.55" y2="713.00" stroke="#777" stroke-width="0.53"/>
<line x1="213.21" y1="701.00" x2="213.21" y2="713.00" stroke="#444" stroke-width="0.60"/>
<line x1="238.62" y1="701.00" x2="238.62" y2="713.00" stroke="#555" stroke-width="0.62"/>
<line x1="243.55" y1="701.00" x2="243.55" y2="713.00" stroke="#555" stroke-width="0.52"/>
<line x1="273.45" y1="701.00" x2="273.45" y2="713.00" stroke="#222" stroke-width="0.46"/>
<line x1="204.26" y1="701.00" x2="204.26" y2="713.00" stroke="#444" stroke-width="0.65"/>
<line x1="254.07" y1="701.00" x2="254.07" y2="713.00" stroke="#555" stroke-width="0.48"/>
<line x1="234.27" y1="701.00" x2="234.27" y2="713.00" stroke="#555" stroke-width="0.55"/>
<line x1="226.71" y1="701.00" x2="226.71" y2="713.00" stroke="#444" stroke-width="0.44"/>
<line x1="256.85" y1="701.00" x2="256.85" y2="713.00" stroke="#444" stroke-width="0.56"/>
<line x1="239.46" y1="701.00" x2="239.46" y2="713.00" stroke="#222" stroke-width="0.43"/>
<line x1="253.79" y1="701.00" x2="253.79" y2="713.00" stroke="#666" stroke-width="0.43"/>
<line x1="224.92" y1="701.00" x2="224.92" y2="713.00" stroke="#444" stroke-width="0.44"/>
<line x1="239.54" y1="701.00" x2="239.54" y2="713.00" stroke="#444" stroke-width="0.54"/>
<line x1="277.41" y1="701.00" x2="277.41" y2="713.00" stroke="#aaa" stroke-width="0.63"/>
<line x1="225.24" y1="701.00" x2="225.24" y2="713.00" stroke="#222" stroke-width="0.61"/>
<line x1="249.01" y1="701.00" x2="249.01" y2="713.00" stroke="#777" stroke-width="0.47"/>
<line x1="227.44" y1="701.00" x2="227.44" y2="713.00" stroke="#888" stroke-width="0.64"/>
<line x1="218.94" y1="701.00" x2="218.94" y2="713.00" stroke="#555" stroke-width="0.69"/>
<line x1="213.00" y1="701.00" x2="213.00" y2="713.00" stroke="#888" stroke-width="0.60"/>
<line x1="259.18" y1="701.00" x2="259.18" y2="713.00" stroke="#888" stroke-width="0.64"/>
<line x1="256.36" y1="701.00" x2="256.36" y2="713.00" stroke="#aaa" stroke-width="0.72"/>
<line x1="276.59" y1="701.00" x2="276.59" y2="713.00" stroke="#777" stroke-width="0.42"/>
<line x1="238.64" y1="701.00" x2="238.64" y2="713.00" stroke="#444" stroke-width="0.47"/>
<line x1="239.31" y1="701.00" x2="239.31" y2="713.00" stroke="#999" stroke-width="0.50"/>
<line x1="217.07" y1="701.00" x2="217.07" y2="713.00" stroke="#999" stroke-width="0.79"/>
<line x1="209.72" y1="701.00" x2="209.72" y2="713.00" stroke="#555" stroke-width="0.54"/>
<line x1="205.44" y1="701.00" x2="205.44" y2="713.00" stroke="#999" stroke-width="0.55"/>
<line x1="238.60" y1="701.00" x2="238.60" y2="713.00" stroke="#222" stroke-width="0.48"/>
<line x1="224.00" y1="701.00" x2="224.00" y2="713.00" stroke="#aaa" stroke-width="0.36"/>
<line x1="215.75" y1="701.00" x2="215.75" y2="713.00" stroke="#444" stroke-width="0.67"/>
<line x1="243.10" y1="701.00" x2="243.10" y2="713.00" stroke="#aaa" stroke-width="0.37"/>
<line x1="256.47" y1="701.00" x2="256.47" y2="713.00" stroke="#777" stroke-width="0.59"/>
<line x1="245.57" y1="701.00" x2="245.57" y2="713.00" stroke="#777" stroke-width="0.42"/>
<line x1="225.19" y1="701.00" x2="225.19" y2="713.00" stroke="#555" stroke-width="0.41"/>
<line x1="257.44" y1="701.00" x2="257.44" y2="713.00" stroke="#aaa" stroke-width="0.61"/>
<line x1="230.33" y1="701.00" x2="230.33" y2="713.00" stroke="#777" stroke-width="0.47"/>
<line x1="229.74" y1="701.00" x2="229.74" y2="713.00" stroke="#777" stroke-width="0.60"/>
<line x1="272.99" y1="701.00" x2="272.99" y2="713.00" stroke="#555" stroke-width="0.41"/>
<line x1="217.33" y1="701.00" x2="217.33" y2="713.00" stroke="#666" stroke-width="0.52"/>
<line x1="224.53" y1="701.00" x2="224.53" y2="713.00" stroke="#555" stroke-width="0.37"/>
<line x1="236.04" y1="701.00" x2="236.04" y2="713.00" stroke="#888" stroke-width="0.60"/>
<line x1="210.39" y1="701.00" x2="210.39" y2="713.00" stroke="#666" stroke-width="0.66"/>
<line x1="220.49" y1="701.00" x2="220.49" y2="713.00" stroke="#555" stroke-width="0.39"/>
<line x1="262.35" y1="701.00" x2="262.35" y2="713.00" stroke="#444" stroke-width="0.61"/>
<line x1="281.20" y1="701.00" x2="281.20" y2="713.00" stroke="#777" stroke-width="0.73"/>
<line x1="276.87" y1="701.00" x2="276.87" y2="713.00" stroke="#555" stroke-width="0.42"/>
<line x1="243.58" y1="701.00" x2="243.58" y2="713.00" stroke="#555" stroke-width="0.54"/>
<line x1="203.93" y1="701.00" x2="203.93" y2="713.00" stroke="#aaa" stroke-width="0.71"/>
<line x1="223.58" y1="701.00" x2="223.58" y2="713.00" stroke="#555" stroke-width="0.77"/>
<line x1="280.64" y1="701.00" x2="280.64" y2="713.00" stroke="#666" stroke-width="0.70"/>
<line x1="245.48" y1="701.00" x2="245.48" y2="713.00" stroke="#444" stroke-width="0.38"/>
<line x1="255.25" y1="701.00" x2="255.25" y2="713.00" stroke="#555" stroke-width="0.38"/>
<line x1="205.00" y1="701.00" x2="205.00" y2="713.00" stroke="#555" stroke-width="0.49"/>
<line x1="280.44" y1="701.00" x2="280.44" y2="713.00" stroke="#666" stroke-width="0.40"/>
<line x1="250.62" y1="701.00" x2="250.62" y2="713.00" stroke="#666" stroke-width="0.40"/>
<line x1="228.91" y1="701.00" x2="228.91" y2="713.00" stroke="#555" stroke-width="0.40"/>
<line x1="280.37" y1="701.00" x2="280.37" y2="713.00" stroke="#777" stroke-width="0.37"/>
<line x1="215.81" y1="701.00" x2="215.81" y2="713.00" stroke="#aaa" stroke-width="0.49"/>
<line x1="218.91" y1="701.00" x2="218.91" y2="713.00" stroke="#444" stroke-width="0.36"/>
<line x1="259.41" y1="701.00" x2="259.41" y2="713.00" stroke="#666" stroke-width="0.43"/>
<line x1="252.71" y1="701.00" x2="252.71" y2="713.00" stroke="#444" stroke-width="0.71"/>
<line x1="217.11" y1="701.00" x2="217.11" y2="713.00" stroke="#555" stroke-width="0.59"/>
<line x1="242.39" y1="701.00" x2="242.39" y2="713.00" stroke="#444" stroke-width="0.79"/>
<line x1="244.12" y1="701.00" x2="244.12" y2="713.00" stroke="#777" stroke-width="0.49"/>
<line x1="214.28" y1="701.00" x2="214.28" y2="713.00" stroke="#777" stroke-width="0.76"/>
<line x1="268.26" y1="701.00" x2="268.26" y2="713.00" stroke="#888" stroke-width="0.73"/>
<line x1="269.11" y1="701.00" x2="269.11" y2="713.00" stroke="#666" stroke-width="0.66"/>
<line x1="257.56" y1="701.00" x2="257.56" y2="713.00" stroke="#aaa" stroke-width="0.58"/>
<line x1="204.13" y1="701.00" x2="204.13" y2="713.00" stroke="#555" stroke-width="0.61"/>
<line x1="243.57" y1="701.00" x2="243.57" y2="713.00" stroke="#888" stroke-width="0.76"/>
<line x1="238.00" y1="701.00" x2="238.00" y2="713.00" stroke="#999" stroke-width="0.39"/>
<line x1="212.73" y1="701.00" x2="212.73" y2="713.00" stroke="#aaa" stroke-width="0.42"/>
<line x1="258.00" y1="701.00" x2="258.00" y2="713.00" stroke="#777" stroke-width="0.46"/>
<line x1="264.36" y1="701.00" x2="264.36" y2="713.00" stroke="#999" stroke-width="0.65"/>
<line x1="240.29" y1="701.00" x2="240.29" y2="713.00" stroke="#444" stroke-width="0.58"/>
<line x1="275.43" y1="701.00" x2="275.43" y2="713.00" stroke="#666" stroke-width="0.79"/>
<line x1="270.33" y1="701.00" x2="270.33" y2="713.00" stroke="#555" stroke-width="0.42"/>
<line x1="240.94" y1="701.00" x2="240.94" y2="713.00" stroke="#888" stroke-width="0.41"/>
<line x1="224.65" y1="701.00" x2="224.65" y2="713.00" stroke="#555" stroke-width="0.52"/>
<line x1="280.22" y1="701.00" x2="280.22" y2="713.00" stroke="#aaa" stroke-width="0.65"/>
<line x1="265.47" y1="701.00" x2="265.47" y2="713.00" stroke="#777" stroke-width="0.51"/>
<line x1="281.15" y1="701.00" x2="281.15" y2="713.00" stroke="#666" stroke-width="0.65"/>
<line x1="204.93" y1="701.00" x2="204.93" y2="713.00" stroke="#444" stroke-width="0.51"/>
<line x1="259.85" y1="701.00" x2="259.85" y2="713.00" stroke="#999" stroke-width="0.59"/>
<line x1="234.50" y1="701.00" x2="234.50" y2="713.00" stroke="#444" stroke-width="0.38"/>
<line x1="278.28" y1="701.00" x2="278.28" y2="713.00" stroke="#999" stroke-width="0.42"/>
<line x1="225.11" y1="701.00" x2="225.11" y2="713.00" stroke="#888" stroke-width="0.58"/>
<line x1="241.46" y1="701.00" x2="241.46" y2="713.00" stroke="#999" stroke-width="0.78"/>
<line x1="242.09" y1="701.00" x2="242.09" y2="713.00" stroke="#888" stroke-width="0.64"/>
<line x1="276.75" y1="701.00" x2="276.75" y2="713.00" stroke="#555" stroke-width="0.77"/>
<line x1="227.80" y1="701.00" x2="227.80" y2="713.00" stroke="#666" stroke-width="0.63"/>
<line x1="269.54" y1="701.00" x2="269.54" y2="713.00" stroke="#aaa" stroke-width="0.78"/>
<line x1="267.70" y1="701.00" x2="267.70" y2="713.00" stroke="#999" stroke-width="0.43"/>
<line x1="270.88" y1="701.00" x2="270.88" y2="713.00" stroke="#777" stroke-width="0.72"/>
<line x1="266.89" y1="701.00" x2="266.89" y2="713.00" stroke="#555" stroke-width="0.61"/>
<line x1="278.17" y1="701.00" x2="278.17" y2="713.00" stroke="#888" stroke-width="0.69"/>
<line x1="262.07" y1="701.00" x2="262.07" y2="713.00" stroke="#999" stroke-width="0.54"/>
<line x1="227.42" y1="701.00" x2="227.42" y2="713.00" stroke="#666" stroke-width="0.75"/>
<line x1="216.20" y1="701.00" x2="216.20" y2="713.00" stroke="#555" stroke-width="0.68"/>
<line x1="224.09" y1="701.00" x2="224.09" y2="713.00" stroke="#888" stroke-width="0.67"/>
<line x1="224.00" y1="701.00" x2="224.00" y2="713.00" stroke="#444" stroke-width="0.51"/>
<line x1="242.41" y1="701.00" x2="242.41" y2="713.00" stroke="#aaa" stroke-width="0.49"/>
<line x1="225.14" y1="701.00" x2="225.14" y2="713.00" stroke="#555" stroke-width="0.45"/>
<line x1="241.86" y1="701.00" x2="241.86" y2="713.00" stroke="#777" stroke-width="0.52"/>
<line x1="230.78" y1="701.00" x2="230.78" y2="713.00" stroke="#777" stroke-width="0.55"/>
<line x1="270.78" y1="701.00" x2="270.78" y2="713.00" stroke="#444" stroke-width="0.47"/>
<line x1="264.60" y1="701.00" x2="264.60" y2="713.00" stroke="#aaa" stroke-width="0.66"/>
<line x1="259.38" y1="701.00" x2="259.38" y2="713.00" stroke="#666" stroke-width="0.69"/>
<line x1="210.99" y1="701.00" x2="210.99" y2="713.00" stroke="#999" stroke-width="0.70"/>
<line x1="214.47" y1="701.00" x2="214.47" y2="713.00" stroke="#666" stroke-width="0.63"/>
<line x1="233.02" y1="701.00" x2="233.02" y2="713.00" stroke="#555" stroke-width="0.48"/>
<line x1="262.69" y1="701.00" x2="262.69" y2="713.00" stroke="#666" stroke-width="0.56"/>
<line x1="241.60" y1="701.00" x2="241.60" y2="713.00" stroke="#222" stroke-width="0.59"/>
<line x1="211.05" y1="701.00" x2="211.05" y2="713.00" stroke="#666" stroke-width="0.73"/>
<line x1="281.39" y1="701.00" x2="281.39" y2="713.00" stroke="#aaa" stroke-width="0.59"/>
<line x1="205.79" y1="701.00" x2="205.79" y2="713.00" stroke="#444" stroke-width="0.79"/>
<line x1="208.53" y1="701.00" x2="208.53" y2="713.00" stroke="#999" stroke-width="0.60"/>
<line x1="228.40" y1="701.00" x2="228.40" y2="713.00" stroke="#999" stroke-width="0.77"/>
<line x1="275.29" y1="701.00" x2="275.29" y2="713.00" stroke="#777" stroke-width="0.44"/>
<line x1="216.35" y1="701.00" x2="216.35" y2="713.00" stroke="#666" stroke-width="0.80"/>
<line x1="251.62" y1="701.00" x2="251.62" y2="713.00" stroke="#555" stroke-width="0.56"/>
<line x1="257.87" y1="701.00" x2="257.87" y2="713.00" stroke="#777" stroke-width="0.69"/>
<line x1="237.78" y1="701.00" x2="237.78" y2="713.00" stroke="#555" stroke-width="0.46"/>
<line x1="272.40" y1="701.00" x2="272.40" y2="713.00" stroke="#999" stroke-width="0.51"/>
<line x1="202.63" y1="701.00" x2="202.63" y2="713.00" stroke="#555" stroke-width="0.62"/>
<line x1="227.06" y1="701.00" x2="227.06" y2="713.00" stroke="#777" stroke-width="0.76"/>
<line x1="226.01" y1="701.00" x2="226.01" y2="713.00" stroke="#777" stroke-width="0.55"/>
<line x1="268.36" y1="701.00" x2="268.36" y2="713.00" stroke="#aaa" stroke-width="0.51"/>
<line x1="227.11" y1="701.00" x2="227.11" y2="713.00" stroke="#444" stroke-width="0.63"/>
<line x1="219.88" y1="701.00" x2="219.88" y2="713.00" stroke="#222" stroke-width="0.42"/>
<line x1="217.56" y1="701.00" x2="217.56" y2="713.00" stroke="#aaa" stroke-width="0.53"/>
<line x1="202.62" y1="701.00" x2="202.62" y2="713.00" stroke="#222" stroke-width="0.51"/>
<line x1="266.69" y1="701.00" x2="266.69" y2="713.00" stroke="#aaa" stroke-width="0.51"/>
<line x1="269.40" y1="701.00" x2="269.40" y2="713.00" stroke="#999" stroke-width="0.39"/>
<line x1="258.15" y1="701.00" x2="258.15" y2="713.00" stroke="#555" stroke-width="0.47"/>
<line x1="210.72" y1="701.00" x2="210.72" y2="713.00" stroke="#888" stroke-width="0.41"/>
<line x1="222.38" y1="701.00" x2="222.38" y2="713.00" stroke="#888" stroke-width="0.79"/>
<line x1="211.12" y1="701.00" x2="211.12" y2="713.00" stroke="#555" stroke-width="0.48"/>
<line x1="244.29" y1="701.00" x2="244.29" y2="713.00" stroke="#444" stroke-width="0.60"/>
<line x1="202.51" y1="701.00" x2="202.51" y2="713.00" stroke="#888" stroke-width="0.40"/>
<line x1="266.35" y1="701.00" x2="266.35" y2="713.00" stroke="#888" stroke-width="0.54"/>
<line x1="265.79" y1="701.00" x2="265.79" y2="713.00" stroke="#444" stroke-width="0.37"/>
<line x1="217.28" y1="701.00" x2="217.28" y2="713.00" stroke="#777" stroke-width="0.59"/>
<line x1="213.58" y1="701.00" x2="213.58" y2="713.00" stroke="#888" stroke-width="0.55"/>
<line x1="231.80" y1="701.00" x2="231.80" y2="713.00" stroke="#999" stroke-width="0.47"/>
<line x1="273.73" y1="701.00" x2="273.73" y2="713.00" stroke="#555" stroke-width="0.77"/>
<line x1="236.38" y1="701.00" x2="236.38" y2="713.00" stroke="#777" stroke-width="0.62"/>
<line x1="252.14" y1="701.00" x2="252.14" y2="713.00" stroke="#555" stroke-width="0.40"/>
<line x1="231.30" y1="701.00" x2="231.30" y2="713.00" stroke="#666" stroke-width="0.62"/>
<line x1="216.21" y1="701.00" x2="216.21" y2="713.00" stroke="#666" stroke-width="0.58"/>
<line x1="265.18" y1="701.00" x2="265.18" y2="713.00" stroke="#666" stroke-width="0.75"/>
<line x1="217.74" y1="701.00" x2="217.74" y2="713.00" stroke="#555" stroke-width="0.79"/>
<line x1="239.79" y1="701.00" x2="239.79" y2="713.00" stroke="#888" stroke-width="0.66"/>
<line x1="276.27" y1="701.00" x2="276.27" y2="713.00" stroke="#777" stroke-width="0.77"/>
<line x1="252.39" y1="701.00" x2="252.39" y2="713.00" stroke="#777" stroke-width="0.64"/>
<line x1="228.72" y1="701.00" x2="228.72" y2="713.00" stroke="#999" stroke-width="0.52"/>
<line x1="248.77" y1="701.00" x2="248.77" y2="713.00" stroke="#444" stroke-width="0.64"/>
<line x1="225.80" y1="701.00" x2="225.80" y2="713.00" stroke="#999" stroke-width="0.76"/>
<line x1="215.69" y1="701.00" x2="215.69" y2="713.00" stroke="#777" stroke-width="0.46"/>
<line x1="236.76" y1="701.00" x2="236.76" y2="713.00" stroke="#777" stroke-width="0.70"/>
<line x1="259.19" y1="701.00" x2="259.19" y2="713.00" stroke="#222" stroke-width="0.68"/>
<line x1="227.97" y1="701.00" x2="227.97" y2="713.00" stroke="#999" stroke-width="0.48"/>
<line x1="219.49" y1="701.00" x2="219.49" y2="713.00" stroke="#666" stroke-width="0.68"/>
<line x1="230.14" y1="701.00" x2="230.14" y2="713.00" stroke="#555" stroke-width="0.46"/>
<line x1="257.94" y1="701.00" x2="257.94" y2="713.00" stroke="#666" stroke-width="0.61"/>
<line x1="225.23" y1="701.00" x2="225.23" y2="713.00" stroke="#999" stroke-width="0.66"/>
<line x1="212.88" y1="701.00" x2="212.88" y2="713.00" stroke="#aaa" stroke-width="0.47"/>
<line x1="223.99" y1="701.00" x2="223.99" y2="713.00" stroke="#888" stroke-width="0.59"/>
<line x1="211.33" y1="701.00" x2="211.33" y2="713.00" stroke="#777" stroke-width="0.38"/>
<line x1="245.20" y1="701.00" x2="245.20" y2="713.00" stroke="#aaa" stroke-width="0.64"/>
<line x1="216.92" y1="701.00" x2="216.92" y2="713.00" stroke="#666" stroke-width="0.43"/>
<line x1="234.93" y1="701.00" x2="234.93" y2="713.00" stroke="#444" stroke-width="0.50"/>
<line x1="242.93" y1="701.00" x2="242.93" y2="713.00" stroke="#444" stroke-width="0.36"/>
<line x1="268.17" y1="701.00" x2="268.17" y2="713.00" stroke="#777" stroke-width="0.57"/>
<line x1="273.41" y1="701.00" x2="273.41" y2="713.00" stroke="#555" stroke-width="0.58"/>
<line x1="253.42" y1="701.00" x2="253.42" y2="713.00" stroke="#999" stroke-width="0.59"/>
<line x1="218.84" y1="701.00" x2="218.84" y2="713.00" stroke="#777" stroke-width="0.43"/>
<line x1="263.70" y1="701.00" x2="263.70" y2="713.00" stroke="#888" stroke-width="0.55"/>
<line x1="223.69" y1="701.00" x2="223.69" y2="713.00" stroke="#555" stroke-width="0.48"/>
<line x1="255.19" y1="701.00" x2="255.19" y2="713.00" stroke="#aaa" stroke-width="0.73"/>
<line x1="229.88" y1="701.00" x2="229.88" y2="713.00" stroke="#777" stroke-width="0.60"/>
<line x1="246.03" y1="701.00" x2="246.03" y2="713.00" stroke="#777" stroke-width="0.58"/>
<line x1="256.55" y1="701.00" x2="256.55" y2="713.00" stroke="#aaa" stroke-width="0.43"/>
<line x1="277.41" y1="701.00" x2="277.41" y2="713.00" stroke="#666" stroke-width="0.43"/>
<line x1="225.56" y1="701.00" x2="225.56" y2="713.00" stroke="#666" stroke-width="0.79"/>
<line x1="213.84" y1="701.00" x2="213.84" y2="713.00" stroke="#444" stroke-width="0.59"/>
<line x1="238.35" y1="701.00" x2="238.35" y2="713.00" stroke="#888" stroke-width="0.70"/>
<line x1="208.85" y1="701.00" x2="208.85" y2="713.00" stroke="#aaa" stroke-width="0.44"/>
<line x1="217.88" y1="701.00" x2="217.88" y2="713.00" stroke="#aaa" stroke-width="0.64"/>
<line x1="203.17" y1="701.00" x2="203.17" y2="713.00" stroke="#888" stroke-width="0.70"/>
<line x1="226.06" y1="701.00" x2="226.06" y2="713.00" stroke="#aaa" stroke-width="0.40"/>
<line x1="213.96" y1="701.00" x2="213.96" y2="713.00" stroke="#aaa" stroke-width="0.50"/>
<line x1="244.15" y1="701.00" x2="244.15" y2="713.00" stroke="#222" stroke-width="0.57"/>
<line x1="260.23" y1="701.00" x2="260.23" y2="713.00" stroke="#999" stroke-width="0.49"/>
<line x1="234.79" y1="701.00" x2="234.79" y2="713.00" stroke="#555" stroke-width="0.77"/>
<line x1="251.91" y1="701.00" x2="251.91" y2="713.00" stroke="#777" stroke-width="0.59"/>
<line x1="219.27" y1="701.00" x2="219.27" y2="713.00" stroke="#222" stroke-width="0.55"/>
<line x1="270.19" y1="701.00" x2="270.19" y2="713.00" stroke="#555" stroke-width="0.52"/>
<line x1="207.78" y1="701.00" x2="207.78" y2="713.00" stroke="#666" stroke-width="0.67"/>
<line x1="207.32" y1="701.00" x2="207.32" y2="713.00" stroke="#444" stroke-width="0.50"/>
<linearGradient id="d2g" x1="0" x2="1" y1="0" y2="0"><stop offset="0" stop-color="#d42a30"/><stop offset="0.215" stop-color="#d83038"/><stop offset="0.237" stop-color="#dc4a52"/><stop offset="0.420" stop-color="#e06070"/><stop offset="0.440" stop-color="#e8a4c0"/><stop offset="0.570" stop-color="#eab0cc"/><stop offset="0.590" stop-color="#ccc8ec"/><stop offset="0.760" stop-color="#b4b2e2"/><stop offset="0.790" stop-color="#5a50b0"/><stop offset="1" stop-color="#2a1c88"/></linearGradient>
<rect x="202.20" y="713.00" width="79.50" height="3.30" fill="url(#d2g)" />
<polygon points="202.20,730.00 202.20,724.75 203.20,726.06 205.20,727.11 210.20,727.90 220.20,728.56 249.32,730.00 265.51,731.18 275.70,732.10 279.70,733.15 281.00,735.25 281.70,738.66 281.70,730.00" fill="#c8c8c8"/>
<line x1="202.20" y1="730.00" x2="281.70" y2="730.00" stroke="#9a9a9a" stroke-width="0.4" />
<polyline points="202.30,686.60 204.10,680.50 206.70,673.60 209.20,668.40 211.80,667.00 215.30,665.80 217.90,664.60 222.20,665.30 226.60,665.80 232.60,669.20 241.30,674.40 249.90,682.20 258.60,690.00 267.20,695.20 272.40,698.20 275.00,698.20 277.60,695.20 280.20,693.50 281.90,689.20" fill="none" stroke="#52a83a" stroke-width="1.2" stroke-linejoin="round"/>
<rect x="202.00" y="662.30" width="83.30" height="80.00" fill="none" stroke="#000" stroke-width="1.1"/>
<line x1="198.40" y1="664.50" x2="202.00" y2="664.50" stroke="#000" stroke-width="1.0" />
<text x="192.00" y="666.00" font-size="4.30" fill="#333" text-anchor="end" stroke="#333" stroke-width="0.08">0.35</text>
<line x1="198.40" y1="668.22" x2="202.00" y2="668.22" stroke="#000" stroke-width="1.0" />
<text x="192.00" y="669.72" font-size="4.30" fill="#333" text-anchor="end" stroke="#333" stroke-width="0.08">0.30</text>
<line x1="198.40" y1="671.94" x2="202.00" y2="671.94" stroke="#000" stroke-width="1.0" />
<text x="192.00" y="673.44" font-size="4.30" fill="#333" text-anchor="end" stroke="#333" stroke-width="0.08">0.25</text>
<line x1="198.40" y1="675.67" x2="202.00" y2="675.67" stroke="#000" stroke-width="1.0" />
<text x="192.00" y="677.17" font-size="4.30" fill="#333" text-anchor="end" stroke="#333" stroke-width="0.08">0.20</text>
<line x1="198.40" y1="679.39" x2="202.00" y2="679.39" stroke="#000" stroke-width="1.0" />
<text x="192.00" y="680.89" font-size="4.30" fill="#333" text-anchor="end" stroke="#333" stroke-width="0.08">0.15</text>
<line x1="198.40" y1="683.11" x2="202.00" y2="683.11" stroke="#000" stroke-width="1.0" />
<text x="192.00" y="684.61" font-size="4.30" fill="#333" text-anchor="end" stroke="#333" stroke-width="0.08">0.10</text>
<line x1="198.40" y1="686.83" x2="202.00" y2="686.83" stroke="#000" stroke-width="1.0" />
<text x="192.00" y="688.33" font-size="4.30" fill="#333" text-anchor="end" stroke="#333" stroke-width="0.08">0.05</text>
<line x1="198.40" y1="690.56" x2="202.00" y2="690.56" stroke="#000" stroke-width="1.0" />
<text x="192.00" y="692.06" font-size="4.30" fill="#333" text-anchor="end" stroke="#333" stroke-width="0.08">0.00</text>
<line x1="198.40" y1="694.28" x2="202.00" y2="694.28" stroke="#000" stroke-width="1.0" />
<text x="192.00" y="695.78" font-size="4.30" fill="#333" text-anchor="end" stroke="#333" stroke-width="0.08">-0.05</text>
<line x1="198.40" y1="698.00" x2="202.00" y2="698.00" stroke="#000" stroke-width="1.0" />
<text x="192.00" y="699.50" font-size="4.30" fill="#333" text-anchor="end" stroke="#333" stroke-width="0.08">-0.10</text>
<line x1="198.40" y1="719.50" x2="202.00" y2="719.50" stroke="#000" stroke-width="1.0" />
<text transform="translate(194.60,719.50) rotate(-90)" font-size="4.8" fill="#222" stroke="#222" stroke-width="0.1" text-anchor="middle">4</text>
<line x1="198.40" y1="724.75" x2="202.00" y2="724.75" stroke="#000" stroke-width="1.0" />
<text transform="translate(194.60,724.75) rotate(-90)" font-size="4.8" fill="#222" stroke="#222" stroke-width="0.1" text-anchor="middle">2</text>
<line x1="198.40" y1="730.00" x2="202.00" y2="730.00" stroke="#000" stroke-width="1.0" />
<text transform="translate(194.60,730.00) rotate(-90)" font-size="4.8" fill="#222" stroke="#222" stroke-width="0.1" text-anchor="middle">0</text>
<line x1="198.40" y1="735.25" x2="202.00" y2="735.25" stroke="#000" stroke-width="1.0" />
<text transform="translate(194.60,735.25) rotate(-90)" font-size="4.8" fill="#222" stroke="#222" stroke-width="0.1" text-anchor="middle">-2</text>
<line x1="198.40" y1="740.50" x2="202.00" y2="740.50" stroke="#000" stroke-width="1.0" />
<text transform="translate(194.60,740.50) rotate(-90)" font-size="4.8" fill="#222" stroke="#222" stroke-width="0.1" text-anchor="middle">-4</text>
<line x1="202.20" y1="742.30" x2="202.20" y2="745.50" stroke="#000" stroke-width="0.9" />
<text x="202.20" y="753.60" font-size="5.90" fill="#222" text-anchor="middle" stroke="#222" stroke-width="0.1">0</text>
<line x1="221.65" y1="742.30" x2="221.65" y2="745.50" stroke="#000" stroke-width="0.9" />
<text x="215.95" y="753.60" font-size="5.90" fill="#222" textLength="11.40" lengthAdjust="spacingAndGlyphs" stroke="#222" stroke-width="0.1">5,000</text>
<line x1="241.10" y1="742.30" x2="241.10" y2="745.50" stroke="#000" stroke-width="0.9" />
<text x="234.10" y="753.60" font-size="5.90" fill="#222" textLength="14.00" lengthAdjust="spacingAndGlyphs" stroke="#222" stroke-width="0.1">10,000</text>
<line x1="260.55" y1="742.30" x2="260.55" y2="745.50" stroke="#000" stroke-width="0.9" />
<text x="253.55" y="753.60" font-size="5.90" fill="#222" textLength="14.00" lengthAdjust="spacingAndGlyphs" stroke="#222" stroke-width="0.1">15,000</text>
<line x1="280.00" y1="742.30" x2="280.00" y2="745.50" stroke="#000" stroke-width="0.9" />
<text x="272.80" y="753.60" font-size="5.90" fill="#222" textLength="14.40" lengthAdjust="spacingAndGlyphs" stroke="#222" stroke-width="0.1">20,000</text>
<text x="202.60" y="722.80" font-size="3.80" fill="#cc2a48" textLength="39.80" lengthAdjust="spacingAndGlyphs">NSC12 (0uM) (positively</text>
<text x="202.60" y="727.10" font-size="3.80" fill="#cc2a48" textLength="17.30" lengthAdjust="spacingAndGlyphs">correlated)</text>
<text x="228.12" y="731.60" font-size="3.80" fill="#222" textLength="33.00" lengthAdjust="spacingAndGlyphs">Zero cross at 12113</text>
<text x="277.40" y="735.00" font-size="3.80" fill="#3c5aa8" text-anchor="end" textLength="21.30" lengthAdjust="spacingAndGlyphs">NSC12 (0uM)</text>
<text x="277.40" y="739.40" font-size="3.80" fill="#3c5aa8" text-anchor="end" textLength="36.70" lengthAdjust="spacingAndGlyphs">(negatively correlated)</text>
<text x="282.00" y="669.40" font-size="6.80" fill="#111" text-anchor="end" textLength="20.72" lengthAdjust="spacingAndGlyphs" stroke="#111" stroke-width="0.12">P &lt;0.01</text>
<text x="282.00" y="676.90" font-size="6.80" fill="#111" text-anchor="end" textLength="25.52" lengthAdjust="spacingAndGlyphs" stroke="#111" stroke-width="0.12">FDR 0.10</text>
<text x="212.00" y="764.50" font-size="7.90" fill="#222" textLength="62.00" lengthAdjust="spacingAndGlyphs" stroke="#222" stroke-width="0.25">Rank in ordered dataset</text>
<line x1="189.50" y1="773.80" x2="193.00" y2="773.80" stroke="#52a83a" stroke-width="0.8" />
<text x="196.90" y="775.20" font-size="4.30" fill="#555" textLength="30.80" lengthAdjust="spacingAndGlyphs">Enrichment profile</text>
<line x1="231.80" y1="773.80" x2="234.50" y2="773.80" stroke="#555" stroke-width="0.6" />
<text x="238.40" y="775.20" font-size="4.30" fill="#555" textLength="7.00" lengthAdjust="spacingAndGlyphs">Hits</text>
<line x1="248.40" y1="773.80" x2="249.70" y2="773.80" stroke="#aaa" stroke-width="0.6" />
<line x1="250.50" y1="773.80" x2="251.80" y2="773.80" stroke="#aaa" stroke-width="0.6" />
<text x="259.90" y="775.20" font-size="4.30" fill="#555" textLength="37.00" lengthAdjust="spacingAndGlyphs">Ranking metric scores</text>
<text x="225.00" y="651.80" font-size="4.50" fill="#222" textLength="35.00" lengthAdjust="spacingAndGlyphs">Enrichment plot:</text>
<text x="200.00" y="658.00" font-size="4.70" fill="#222" textLength="87.50" lengthAdjust="spacingAndGlyphs">BILD_MYC_ONCOGENIC_SIGNATURE</text>
<text transform="translate(168.30,694.80) rotate(-90)" font-size="8.00" fill="#222" textLength="30.80" lengthAdjust="spacingAndGlyphs" stroke="#222" stroke-width="0.18">Enrichment</text>
<text transform="translate(176.80,691.70) rotate(-90)" font-size="8.00" fill="#222" textLength="24.90" lengthAdjust="spacingAndGlyphs" stroke="#222" stroke-width="0.18">score (ES)</text>
<text transform="translate(168.30,751.00) rotate(-90)" font-size="8.00" fill="#222" textLength="47.20" lengthAdjust="spacingAndGlyphs" stroke="#222" stroke-width="0.18">Ranked list metric</text>
<text transform="translate(176.80,747.20) rotate(-90)" font-size="8.00" fill="#222" textLength="38.50" lengthAdjust="spacingAndGlyphs" stroke="#222" stroke-width="0.18">(signal2Noise)</text>
<text x="225.00" y="638.80" font-size="9.40" fill="#111" textLength="35.50" lengthAdjust="spacingAndGlyphs" stroke="#111" stroke-width="0.15">MWCL.1</text>
<line x1="193.75" y1="644.25" x2="293.75" y2="644.25" stroke="#333" stroke-width="1.2" />
<text x="8.70" y="316.80" font-size="11.60" fill="#000" font-weight="bold" textLength="8.60" lengthAdjust="spacingAndGlyphs" stroke="#000" stroke-width="0.3">B</text>
<text x="92.30" y="317.90" font-size="9.80" fill="#111" textLength="34.70" lengthAdjust="spacingAndGlyphs" stroke="#111" stroke-width="0.16">BCWM1</text>
<line x1="81.60" y1="322.50" x2="138.40" y2="322.50" stroke="#333" stroke-width="1.2" />
<text x="27.40" y="331.90" font-size="9.80" fill="#111" textLength="49.90" lengthAdjust="spacingAndGlyphs" stroke="#111" stroke-width="0.16">NSC12 [μm]</text>
<text x="92.90" y="332.20" font-size="9.80" fill="#111" text-anchor="middle" stroke="#111" stroke-width="0.16">0</text>
<text x="111.00" y="332.20" font-size="9.80" fill="#111" text-anchor="middle" stroke="#111" stroke-width="0.16">3</text>
<text x="128.40" y="332.20" font-size="9.80" fill="#111" text-anchor="middle" stroke="#111" stroke-width="0.16">6</text>
<text x="176.00" y="318.30" font-size="9.80" fill="#111" textLength="33.60" lengthAdjust="spacingAndGlyphs" stroke="#111" stroke-width="0.16">MWCL1</text>
<line x1="165.00" y1="323.00" x2="221.50" y2="323.00" stroke="#333" stroke-width="1.2" />
<text x="173.60" y="332.80" font-size="9.80" fill="#111" text-anchor="middle" stroke="#111" stroke-width="0.16">0</text>
<text x="191.60" y="332.80" font-size="9.80" fill="#111" text-anchor="middle" stroke="#111" stroke-width="0.16">3</text>
<text x="209.10" y="332.80" font-size="9.80" fill="#111" text-anchor="middle" stroke="#111" stroke-width="0.16">6</text>
<text x="49.20" y="348.50" font-size="9.80" fill="#111" textLength="30.10" lengthAdjust="spacingAndGlyphs" stroke="#111" stroke-width="0.16">MyD88</text>
<text x="57.00" y="367.20" font-size="9.80" fill="#111" textLength="22.30" lengthAdjust="spacingAndGlyphs" stroke="#111" stroke-width="0.16">pSYK</text>
<text x="62.70" y="390.60" font-size="9.80" fill="#111" textLength="16.60" lengthAdjust="spacingAndGlyphs" stroke="#111" stroke-width="0.16">SYK</text>
<text x="56.40" y="415.20" font-size="9.80" fill="#111" textLength="22.90" lengthAdjust="spacingAndGlyphs" stroke="#111" stroke-width="0.16">pBTK</text>
<text x="62.30" y="438.30" font-size="9.80" fill="#111" textLength="17.00" lengthAdjust="spacingAndGlyphs" stroke="#111" stroke-width="0.16">BTK</text>
<text x="46.40" y="459.60" font-size="9.80" fill="#111" textLength="32.90" lengthAdjust="spacingAndGlyphs" stroke="#111" stroke-width="0.16">GAPDH</text>
<rect x="82.20" y="337.20" width="60.90" height="17.30" fill="#ebebeb" />
<g filter="url(#bl1)">
<rect x="86.50" y="347.00" width="15.90" height="3.00" rx="4.50" ry="1.50" fill="#2a2a2a"/>
<rect x="106.00" y="347.40" width="15.20" height="2.20" rx="4.50" ry="1.10" fill="#9a9a9a"/>
<rect x="124.80" y="347.40" width="14.40" height="2.20" rx="4.50" ry="1.10" fill="#a0a0a0"/>
</g>
<linearGradient id="bg1548" x1="0" x2="1" y1="0" y2="0"><stop offset="0" stop-color="#c8c8c8"/><stop offset="0.1" stop-color="#d8d8d8"/><stop offset="1" stop-color="#d4d4d4"/></linearGradient>
<rect x="83.40" y="358.80" width="60.60" height="14.50" fill="url(#bg1548)" />
<g filter="url(#bl1)">
<rect x="85.50" y="366.30" width="16.50" height="2.60" rx="4.50" ry="1.30" fill="#4a4a4a"/>
<rect x="105.00" y="366.50" width="16.00" height="2.20" rx="4.50" ry="1.10" fill="#7a7a7a"/>
<rect x="124.00" y="366.85" width="16.00" height="1.50" rx="4.50" ry="0.75" fill="#c4c4c4"/>
<rect x="85.00" y="370.60" width="15.00" height="1.20" rx="4.50" ry="0.60" fill="#909090"/>
</g>
<rect x="84.40" y="379.80" width="59.60" height="18.00" fill="#dadada" />
<g filter="url(#bl2)">
<rect x="87.00" y="386.70" width="18.80" height="5.60" rx="4.50" ry="2.80" fill="#050505"/>
<rect x="107.30" y="386.70" width="16.70" height="5.60" rx="4.50" ry="2.80" fill="#050505"/>
<rect x="125.50" y="386.70" width="17.80" height="5.60" rx="4.50" ry="2.80" fill="#050505"/>
</g>
<linearGradient id="bg1562" x1="0" x2="1" y1="0" y2="0"><stop offset="0" stop-color="#a8a8a8"/><stop offset="0.12" stop-color="#c8c8c8"/><stop offset="0.2" stop-color="#d8d8d8"/><stop offset="1" stop-color="#dadada"/></linearGradient>
<rect x="84.90" y="405.40" width="59.80" height="14.50" fill="url(#bg1562)" />
<g filter="url(#bl1)">
<rect x="86.50" y="410.60" width="17.50" height="1.80" rx="4.50" ry="0.90" fill="#3a3a3a"/>
<rect x="108.00" y="412.50" width="16.00" height="1.40" rx="4.50" ry="0.70" fill="#a8a8a8"/>
<rect x="126.00" y="412.30" width="16.00" height="1.40" rx="4.50" ry="0.70" fill="#bcbcbc"/>
</g>
<rect x="85.40" y="426.20" width="60.00" height="17.30" fill="#e2e2e2" />
<g filter="url(#bl1)">
<rect x="87.50" y="432.60" width="16.70" height="3.60" rx="4.50" ry="1.80" fill="#5a5a5a"/>
<rect x="107.60" y="432.60" width="16.80" height="3.60" rx="4.50" ry="1.80" fill="#555555"/>
<rect x="127.80" y="432.60" width="16.10" height="3.60" rx="4.50" ry="1.80" fill="#4a4a4a"/>
</g>
<rect x="85.40" y="449.90" width="60.00" height="13.20" fill="#e2e2e2" />
<g filter="url(#bl2)">
<rect x="87.50" y="454.30" width="18.90" height="5.60" rx="4.50" ry="2.80" fill="#030303"/>
<rect x="105.80" y="454.30" width="19.60" height="5.60" rx="4.50" ry="2.80" fill="#030303"/>
<rect x="124.80" y="454.30" width="20.10" height="5.60" rx="4.50" ry="2.80" fill="#030303"/>
</g>
<rect x="165.40" y="338.50" width="58.10" height="15.30" fill="#ececec" />
<g filter="url(#bl1)">
<rect x="168.40" y="346.40" width="15.80" height="3.00" rx="4.50" ry="1.50" fill="#404040"/>
<rect x="188.30" y="346.70" width="13.70" height="2.40" rx="4.28" ry="1.20" fill="#a8a8a8"/>
<rect x="206.70" y="346.70" width="9.90" height="2.40" rx="3.09" ry="1.20" fill="#acacac"/>
</g>
<linearGradient id="bg1587" x1="0" x2="1" y1="0" y2="0"><stop offset="0" stop-color="#909090"/><stop offset="0.08" stop-color="#c8c8c8"/><stop offset="1" stop-color="#d4d4d4"/></linearGradient>
<rect x="166.30" y="360.00" width="57.70" height="15.00" fill="url(#bg1587)" />
<g filter="url(#bl1)">
<rect x="166.50" y="367.20" width="15.50" height="2.20" rx="4.50" ry="1.10" fill="#505050"/>
<rect x="186.00" y="367.60" width="14.00" height="1.40" rx="4.38" ry="0.70" fill="#aaaaaa"/>
<rect x="206.00" y="367.60" width="16.00" height="1.40" rx="4.50" ry="0.70" fill="#b4b4b4"/>
<rect x="166.50" y="372.20" width="5.50" height="1.60" rx="1.72" ry="0.80" fill="#404040"/>
</g>
<rect x="165.10" y="380.00" width="59.70" height="18.80" fill="#dadada" />
<g filter="url(#bl2)">
<rect x="167.50" y="386.45" width="18.70" height="5.50" rx="4.50" ry="2.75" fill="#050505"/>
<rect x="186.90" y="386.45" width="18.20" height="5.50" rx="4.50" ry="2.75" fill="#050505"/>
<rect x="205.80" y="386.45" width="18.60" height="5.50" rx="4.50" ry="2.75" fill="#050505"/>
</g>
<rect x="165.40" y="405.60" width="58.60" height="14.80" fill="#e2e2e2" />
<g filter="url(#bl1)">
<rect x="167.00" y="411.10" width="14.00" height="1.80" rx="4.38" ry="0.90" fill="#888888"/>
<rect x="186.00" y="411.20" width="14.00" height="1.60" rx="4.38" ry="0.80" fill="#9a9a9a"/>
<rect x="205.00" y="411.40" width="7.00" height="1.20" rx="2.19" ry="0.60" fill="#cfcfcf"/>
</g>
<rect x="165.40" y="426.80" width="59.20" height="16.20" fill="#e6e6e6" />
<g filter="url(#bl2)">
<rect x="167.50" y="432.50" width="17.60" height="3.60" rx="4.50" ry="1.80" fill="#1a1a1a"/>
<rect x="186.40" y="432.50" width="16.70" height="3.60" rx="4.50" ry="1.80" fill="#1a1a1a"/>
<rect x="204.70" y="432.50" width="17.60" height="3.60" rx="4.50" ry="1.80" fill="#1a1a1a"/>
</g>
<rect x="164.40" y="449.90" width="60.40" height="14.10" fill="#d4d4d4" />
<g filter="url(#bl2)">
<rect x="165.80" y="453.00" width="20.10" height="5.80" rx="4.50" ry="2.90" fill="#030303"/>
<rect x="185.50" y="453.00" width="19.60" height="5.80" rx="4.50" ry="2.90" fill="#030303"/>
<rect x="204.70" y="453.00" width="20.10" height="5.80" rx="4.50" ry="2.90" fill="#030303"/>
</g>
<text x="245.80" y="328.20" font-size="9.80" fill="#111" textLength="50.00" lengthAdjust="spacingAndGlyphs" stroke="#111" stroke-width="0.16">NSC12 [μm]</text>
<text x="315.40" y="317.70" font-size="9.80" fill="#111" textLength="33.60" lengthAdjust="spacingAndGlyphs" stroke="#111" stroke-width="0.16">BCWM1</text>
<line x1="299.50" y1="322.70" x2="364.40" y2="322.70" stroke="#333" stroke-width="1.2" />
<text x="310.00" y="332.30" font-size="9.80" fill="#111" text-anchor="middle" stroke="#111" stroke-width="0.16">0</text>
<text x="332.30" y="332.30" font-size="9.80" fill="#111" text-anchor="middle" stroke="#111" stroke-width="0.16">3</text>
<text x="353.20" y="332.30" font-size="9.80" fill="#111" text-anchor="middle" stroke="#111" stroke-width="0.16">6</text>
<text x="402.00" y="318.30" font-size="9.80" fill="#111" textLength="34.50" lengthAdjust="spacingAndGlyphs" stroke="#111" stroke-width="0.16">WMCL1</text>
<line x1="386.00" y1="322.60" x2="452.70" y2="322.60" stroke="#333" stroke-width="1.2" />
<text x="397.50" y="332.30" font-size="9.80" fill="#111" text-anchor="middle" stroke="#111" stroke-width="0.16">0</text>
<text x="420.40" y="332.30" font-size="9.80" fill="#111" text-anchor="middle" stroke="#111" stroke-width="0.16">3</text>
<text x="440.60" y="332.30" font-size="9.80" fill="#111" text-anchor="middle" stroke="#111" stroke-width="0.16">6</text>
<text x="261.00" y="344.60" font-size="9.80" fill="#111" textLength="35.50" lengthAdjust="spacingAndGlyphs" stroke="#111" stroke-width="0.16">p-IRAK1</text>
<text x="256.00" y="373.30" font-size="9.80" fill="#111" textLength="40.50" lengthAdjust="spacingAndGlyphs" stroke="#111" stroke-width="0.16">α-Tubulin</text>
<linearGradient id="bg1632" x1="0" x2="1" y1="0" y2="0"><stop offset="0" stop-color="#d4d4d4"/><stop offset="0.6" stop-color="#d8d8d8"/><stop offset="0.66" stop-color="#e6e6e6"/><stop offset="1" stop-color="#ececec"/></linearGradient>
<rect x="300.00" y="337.30" width="65.00" height="18.80" fill="url(#bg1632)" />
<g filter="url(#bl1)">
<rect x="301.00" y="344.90" width="19.00" height="4.60" rx="4.50" ry="2.30" fill="#161616"/>
<rect x="322.00" y="345.10" width="19.00" height="4.20" rx="4.50" ry="2.10" fill="#1e1e1e"/>
<rect x="344.00" y="346.70" width="18.00" height="1.00" rx="4.50" ry="0.50" fill="#e2e2e2"/>
</g>
<rect x="299.30" y="364.00" width="67.10" height="20.20" fill="#d6d6d6" />
<g filter="url(#bl2)">
<rect x="300.80" y="370.00" width="18.20" height="10.40" rx="4.50" ry="5.20" fill="#030303"/>
<rect x="321.00" y="370.50" width="18.20" height="9.40" rx="4.50" ry="4.70" fill="#030303"/>
<rect x="341.90" y="369.50" width="20.40" height="10.60" rx="4.50" ry="5.30" fill="#030303"/>
</g>
<linearGradient id="bg1645" x1="0" x2="1" y1="0" y2="0"><stop offset="0" stop-color="#d4d4d4"/><stop offset="0.6" stop-color="#e2e2e2"/><stop offset="1" stop-color="#f0f0f0"/></linearGradient>
<rect x="385.80" y="338.80" width="69.60" height="18.80" fill="url(#bg1645)" />
<g filter="url(#bl1)">
<rect x="386.20" y="344.50" width="19.80" height="7.00" rx="4.50" ry="3.50" fill="#030303"/>
<rect x="408.50" y="346.00" width="19.50" height="3.20" rx="4.50" ry="1.60" fill="#1a1a1a"/>
<rect x="431.50" y="347.50" width="11.00" height="2.00" rx="3.44" ry="1.00" fill="#cacaca"/>
</g>
<rect x="386.20" y="364.50" width="69.50" height="19.30" fill="#d4d4d4" />
<g filter="url(#bl2)">
<rect x="386.90" y="369.20" width="19.50" height="10.80" rx="4.50" ry="5.40" fill="#030303"/>
<rect x="408.30" y="370.20" width="19.10" height="9.60" rx="4.50" ry="4.80" fill="#030303"/>
<rect x="429.80" y="369.00" width="19.60" height="10.40" rx="4.50" ry="5.20" fill="#030303"/>
</g>
<text x="8.60" y="492.40" font-size="12.00" fill="#000" font-weight="bold" textLength="9.20" lengthAdjust="spacingAndGlyphs" stroke="#000" stroke-width="0.3">C</text>
<rect x="91.30" y="509.20" width="10.80" height="72.20" fill="#64a83c" />
<line x1="93.90" y1="509.20" x2="99.50" y2="509.20" stroke="#222" stroke-width="0.9" />
<rect x="105.60" y="525.08" width="10.20" height="56.32" fill="#64a83c" />
<line x1="110.70" y1="525.08" x2="110.70" y2="520.75" stroke="#222" stroke-width="0.9" />
<line x1="108.10" y1="520.75" x2="113.30" y2="520.75" stroke="#222" stroke-width="0.9" />
<line x1="107.90" y1="525.08" x2="113.50" y2="525.08" stroke="#222" stroke-width="0.9" />
<rect x="119.60" y="533.39" width="10.70" height="48.01" fill="#64a83c" />
<line x1="122.15" y1="533.39" x2="127.75" y2="533.39" stroke="#222" stroke-width="0.9" />
<rect x="133.30" y="536.64" width="10.50" height="44.76" fill="#64a83c" />
<line x1="138.55" y1="536.64" x2="138.55" y2="530.86" stroke="#222" stroke-width="0.9" />
<line x1="135.95" y1="530.86" x2="141.15" y2="530.86" stroke="#222" stroke-width="0.9" />
<line x1="135.75" y1="536.64" x2="141.35" y2="536.64" stroke="#222" stroke-width="0.9" />
<rect x="156.20" y="509.20" width="10.80" height="72.20" fill="#a8102e" />
<line x1="158.80" y1="509.20" x2="164.40" y2="509.20" stroke="#222" stroke-width="0.9" />
<rect x="170.50" y="553.60" width="10.50" height="27.80" fill="#a8102e" />
<line x1="175.75" y1="553.60" x2="175.75" y2="548.55" stroke="#222" stroke-width="0.9" />
<line x1="173.15" y1="548.55" x2="178.35" y2="548.55" stroke="#222" stroke-width="0.9" />
<line x1="172.95" y1="553.60" x2="178.55" y2="553.60" stroke="#222" stroke-width="0.9" />
<rect x="184.50" y="548.91" width="10.50" height="32.49" fill="#a8102e" />
<line x1="186.95" y1="548.91" x2="192.55" y2="548.91" stroke="#222" stroke-width="0.9" />
<rect x="198.50" y="551.08" width="10.70" height="30.32" fill="#a8102e" />
<line x1="203.85" y1="551.08" x2="203.85" y2="542.41" stroke="#222" stroke-width="0.9" />
<line x1="201.25" y1="542.41" x2="206.45" y2="542.41" stroke="#222" stroke-width="0.9" />
<line x1="201.05" y1="551.08" x2="206.65" y2="551.08" stroke="#222" stroke-width="0.9" />
<line x1="84.50" y1="492.50" x2="84.50" y2="581.90" stroke="#222" stroke-width="1.3" />
<line x1="84.00" y1="581.40" x2="216.30" y2="581.40" stroke="#222" stroke-width="1.3" />
<line x1="80.90" y1="581.40" x2="84.50" y2="581.40" stroke="#222" stroke-width="1.0" />
<text x="77.30" y="584.30" font-size="8.20" fill="#222" text-anchor="end" textLength="12.40" lengthAdjust="spacingAndGlyphs" stroke="#222" stroke-width="0.12">0.0</text>
<line x1="80.90" y1="566.96" x2="84.50" y2="566.96" stroke="#222" stroke-width="1.0" />
<text x="77.30" y="569.86" font-size="8.20" fill="#222" text-anchor="end" textLength="12.40" lengthAdjust="spacingAndGlyphs" stroke="#222" stroke-width="0.12">0.2</text>
<line x1="80.90" y1="552.52" x2="84.50" y2="552.52" stroke="#222" stroke-width="1.0" />
<text x="77.30" y="555.42" font-size="8.20" fill="#222" text-anchor="end" textLength="12.40" lengthAdjust="spacingAndGlyphs" stroke="#222" stroke-width="0.12">0.4</text>
<line x1="80.90" y1="538.08" x2="84.50" y2="538.08" stroke="#222" stroke-width="1.0" />
<text x="77.30" y="540.98" font-size="8.20" fill="#222" text-anchor="end" textLength="12.40" lengthAdjust="spacingAndGlyphs" stroke="#222" stroke-width="0.12">0.6</text>
<line x1="80.90" y1="523.64" x2="84.50" y2="523.64" stroke="#222" stroke-width="1.0" />
<text x="77.30" y="526.54" font-size="8.20" fill="#222" text-anchor="end" textLength="12.40" lengthAdjust="spacingAndGlyphs" stroke="#222" stroke-width="0.12">0.8</text>
<line x1="80.90" y1="509.20" x2="84.50" y2="509.20" stroke="#222" stroke-width="1.0" />
<text x="77.30" y="512.10" font-size="8.20" fill="#222" text-anchor="end" textLength="12.40" lengthAdjust="spacingAndGlyphs" stroke="#222" stroke-width="0.12">1.0</text>
<line x1="80.90" y1="494.76" x2="84.50" y2="494.76" stroke="#222" stroke-width="1.0" />
<text x="77.30" y="497.66" font-size="8.20" fill="#222" text-anchor="end" textLength="12.40" lengthAdjust="spacingAndGlyphs" stroke="#222" stroke-width="0.12">1.2</text>
<line x1="96.70" y1="581.40" x2="96.70" y2="584.40" stroke="#222" stroke-width="0.9" />
<line x1="110.70" y1="581.40" x2="110.70" y2="584.40" stroke="#222" stroke-width="0.9" />
<line x1="124.95" y1="581.40" x2="124.95" y2="584.40" stroke="#222" stroke-width="0.9" />
<line x1="138.55" y1="581.40" x2="138.55" y2="584.40" stroke="#222" stroke-width="0.9" />
<line x1="161.60" y1="581.40" x2="161.60" y2="584.40" stroke="#222" stroke-width="0.9" />
<line x1="175.75" y1="581.40" x2="175.75" y2="584.40" stroke="#222" stroke-width="0.9" />
<line x1="189.75" y1="581.40" x2="189.75" y2="584.40" stroke="#222" stroke-width="0.9" />
<line x1="203.85" y1="581.40" x2="203.85" y2="584.40" stroke="#222" stroke-width="0.9" />
<text x="96.70" y="596.80" font-size="8.40" fill="#222" text-anchor="middle" stroke="#222" stroke-width="0.12">0</text>
<text x="110.70" y="596.80" font-size="8.40" fill="#222" text-anchor="middle" stroke="#222" stroke-width="0.12">1</text>
<text x="124.95" y="596.80" font-size="8.40" fill="#222" text-anchor="middle" stroke="#222" stroke-width="0.12">3</text>
<text x="138.55" y="596.80" font-size="8.40" fill="#222" text-anchor="middle" stroke="#222" stroke-width="0.12">6</text>
<text x="161.60" y="596.80" font-size="8.40" fill="#222" text-anchor="middle" stroke="#222" stroke-width="0.12">0</text>
<text x="175.75" y="596.80" font-size="8.40" fill="#222" text-anchor="middle" stroke="#222" stroke-width="0.12">1</text>
<text x="189.75" y="596.80" font-size="8.40" fill="#222" text-anchor="middle" stroke="#222" stroke-width="0.12">3</text>
<text x="203.85" y="596.80" font-size="8.40" fill="#222" text-anchor="middle" stroke="#222" stroke-width="0.12">6</text>
<line x1="94.00" y1="494.40" x2="139.40" y2="494.40" stroke="#222" stroke-width="1.0" />
<line x1="110.50" y1="494.40" x2="110.50" y2="511.70" stroke="#222" stroke-width="0.9" />
<text transform="translate(109.10,495.60) rotate(-90)" font-size="6.8" fill="#222" text-anchor="end"><tspan font-style="italic">P</tspan> 0.02</text>
<line x1="124.40" y1="494.40" x2="124.40" y2="524.70" stroke="#222" stroke-width="0.9" />
<text transform="translate(123.00,495.60) rotate(-90)" font-size="6.8" fill="#222" text-anchor="end"><tspan font-style="italic">P</tspan> 0.04</text>
<line x1="139.40" y1="494.40" x2="139.40" y2="524.30" stroke="#222" stroke-width="0.9" />
<text transform="translate(138.00,495.60) rotate(-90)" font-size="6.8" fill="#222" text-anchor="end"><tspan font-style="italic">P</tspan> 0.02</text>
<line x1="159.40" y1="493.90" x2="205.20" y2="493.90" stroke="#222" stroke-width="1.0" />
<line x1="176.40" y1="493.90" x2="176.40" y2="516.00" stroke="#222" stroke-width="0.9" />
<text transform="translate(175.00,495.10) rotate(-90)" font-size="6.8" fill="#222" text-anchor="end"><tspan font-style="italic">P</tspan> 0.04</text>
<line x1="190.40" y1="493.90" x2="190.40" y2="524.00" stroke="#222" stroke-width="0.9" />
<text transform="translate(189.00,495.10) rotate(-90)" font-size="6.8" fill="#222" text-anchor="end"><tspan font-style="italic">P</tspan> 0.04</text>
<line x1="205.20" y1="493.90" x2="205.20" y2="524.00" stroke="#222" stroke-width="0.9" />
<text transform="translate(203.80,495.10) rotate(-90)" font-size="6.8" fill="#222" text-anchor="end"><tspan font-style="italic">P</tspan> 0.02</text>
<text transform="translate(44.80,570.30) rotate(-90)" font-size="8.50" fill="#222" textLength="68.30" lengthAdjust="spacingAndGlyphs" stroke="#222" stroke-width="0.12">mRNA expression</text>
<text transform="translate(56.40,570.30) rotate(-90)" font-size="8.5" fill="#222" textLength="69.60" lengthAdjust="spacingAndGlyphs">BCWM.1 (2<tspan font-size="5.2" dy="-3.4">-ΔΔCt</tspan><tspan dy="3.4">)</tspan></text>
<rect x="329.90" y="510.60" width="10.80" height="70.80" fill="#64a83c" />
<line x1="332.50" y1="510.60" x2="338.10" y2="510.60" stroke="#222" stroke-width="0.9" />
<rect x="343.90" y="529.72" width="10.50" height="51.68" fill="#64a83c" />
<line x1="349.15" y1="529.72" x2="349.15" y2="521.22" stroke="#222" stroke-width="0.9" />
<line x1="346.55" y1="521.22" x2="351.75" y2="521.22" stroke="#222" stroke-width="0.9" />
<line x1="346.35" y1="529.72" x2="351.95" y2="529.72" stroke="#222" stroke-width="0.9" />
<rect x="357.70" y="522.64" width="10.80" height="58.76" fill="#64a83c" />
<line x1="360.30" y1="522.64" x2="365.90" y2="522.64" stroke="#222" stroke-width="0.9" />
<rect x="371.70" y="537.50" width="10.50" height="43.90" fill="#64a83c" />
<line x1="374.15" y1="537.50" x2="379.75" y2="537.50" stroke="#222" stroke-width="0.9" />
<rect x="394.00" y="510.60" width="11.00" height="70.80" fill="#a8102e" />
<line x1="396.70" y1="510.60" x2="402.30" y2="510.60" stroke="#222" stroke-width="0.9" />
<rect x="408.30" y="539.98" width="10.20" height="41.42" fill="#a8102e" />
<line x1="413.40" y1="539.98" x2="413.40" y2="538.21" stroke="#222" stroke-width="0.9" />
<line x1="410.80" y1="538.21" x2="416.00" y2="538.21" stroke="#222" stroke-width="0.9" />
<line x1="410.60" y1="539.98" x2="416.20" y2="539.98" stroke="#222" stroke-width="0.9" />
<rect x="421.70" y="543.17" width="10.80" height="38.23" fill="#a8102e" />
<line x1="424.30" y1="543.17" x2="429.90" y2="543.17" stroke="#222" stroke-width="0.9" />
<rect x="435.50" y="541.19" width="10.80" height="40.21" fill="#a8102e" />
<line x1="438.10" y1="541.19" x2="443.70" y2="541.19" stroke="#222" stroke-width="0.9" />
<line x1="323.70" y1="492.50" x2="323.70" y2="581.90" stroke="#222" stroke-width="1.3" />
<line x1="323.20" y1="581.40" x2="452.70" y2="581.40" stroke="#222" stroke-width="1.3" />
<line x1="320.10" y1="581.40" x2="323.70" y2="581.40" stroke="#222" stroke-width="1.0" />
<text x="317.00" y="584.30" font-size="8.20" fill="#222" text-anchor="end" textLength="12.40" lengthAdjust="spacingAndGlyphs" stroke="#222" stroke-width="0.12">0.0</text>
<line x1="320.10" y1="567.24" x2="323.70" y2="567.24" stroke="#222" stroke-width="1.0" />
<text x="317.00" y="570.14" font-size="8.20" fill="#222" text-anchor="end" textLength="12.40" lengthAdjust="spacingAndGlyphs" stroke="#222" stroke-width="0.12">0.2</text>
<line x1="320.10" y1="553.08" x2="323.70" y2="553.08" stroke="#222" stroke-width="1.0" />
<text x="317.00" y="555.98" font-size="8.20" fill="#222" text-anchor="end" textLength="12.40" lengthAdjust="spacingAndGlyphs" stroke="#222" stroke-width="0.12">0.4</text>
<line x1="320.10" y1="538.92" x2="323.70" y2="538.92" stroke="#222" stroke-width="1.0" />
<text x="317.00" y="541.82" font-size="8.20" fill="#222" text-anchor="end" textLength="12.40" lengthAdjust="spacingAndGlyphs" stroke="#222" stroke-width="0.12">0.6</text>
<line x1="320.10" y1="524.76" x2="323.70" y2="524.76" stroke="#222" stroke-width="1.0" />
<text x="317.00" y="527.66" font-size="8.20" fill="#222" text-anchor="end" textLength="12.40" lengthAdjust="spacingAndGlyphs" stroke="#222" stroke-width="0.12">0.8</text>
<line x1="320.10" y1="510.60" x2="323.70" y2="510.60" stroke="#222" stroke-width="1.0" />
<text x="317.00" y="513.50" font-size="8.20" fill="#222" text-anchor="end" textLength="12.40" lengthAdjust="spacingAndGlyphs" stroke="#222" stroke-width="0.12">1.0</text>
<line x1="320.10" y1="496.44" x2="323.70" y2="496.44" stroke="#222" stroke-width="1.0" />
<text x="317.00" y="499.34" font-size="8.20" fill="#222" text-anchor="end" textLength="12.40" lengthAdjust="spacingAndGlyphs" stroke="#222" stroke-width="0.12">1.2</text>
<line x1="335.30" y1="581.40" x2="335.30" y2="584.40" stroke="#222" stroke-width="0.9" />
<line x1="349.15" y1="581.40" x2="349.15" y2="584.40" stroke="#222" stroke-width="0.9" />
<line x1="363.10" y1="581.40" x2="363.10" y2="584.40" stroke="#222" stroke-width="0.9" />
<line x1="376.95" y1="581.40" x2="376.95" y2="584.40" stroke="#222" stroke-width="0.9" />
<line x1="399.50" y1="581.40" x2="399.50" y2="584.40" stroke="#222" stroke-width="0.9" />
<line x1="413.40" y1="581.40" x2="413.40" y2="584.40" stroke="#222" stroke-width="0.9" />
<line x1="427.10" y1="581.40" x2="427.10" y2="584.40" stroke="#222" stroke-width="0.9" />
<line x1="440.90" y1="581.40" x2="440.90" y2="584.40" stroke="#222" stroke-width="0.9" />
<text x="335.30" y="596.80" font-size="8.40" fill="#222" text-anchor="middle" stroke="#222" stroke-width="0.12">0</text>
<text x="349.15" y="596.80" font-size="8.40" fill="#222" text-anchor="middle" stroke="#222" stroke-width="0.12">1</text>
<text x="363.10" y="596.80" font-size="8.40" fill="#222" text-anchor="middle" stroke="#222" stroke-width="0.12">3</text>
<text x="376.95" y="596.80" font-size="8.40" fill="#222" text-anchor="middle" stroke="#222" stroke-width="0.12">6</text>
<text x="399.50" y="596.80" font-size="8.40" fill="#222" text-anchor="middle" stroke="#222" stroke-width="0.12">0</text>
<text x="413.40" y="596.80" font-size="8.40" fill="#222" text-anchor="middle" stroke="#222" stroke-width="0.12">1</text>
<text x="427.10" y="596.80" font-size="8.40" fill="#222" text-anchor="middle" stroke="#222" stroke-width="0.12">3</text>
<text x="440.90" y="596.80" font-size="8.40" fill="#222" text-anchor="middle" stroke="#222" stroke-width="0.12">6</text>
<line x1="331.70" y1="495.80" x2="377.50" y2="495.80" stroke="#222" stroke-width="1.0" />
<line x1="348.70" y1="495.80" x2="348.70" y2="516.00" stroke="#222" stroke-width="0.9" />
<text transform="translate(347.30,497.00) rotate(-90)" font-size="6.8" fill="#222" text-anchor="end"><tspan font-style="italic">P</tspan> 0.03</text>
<line x1="362.70" y1="495.80" x2="362.70" y2="516.00" stroke="#222" stroke-width="0.9" />
<text transform="translate(361.30,497.00) rotate(-90)" font-size="6.8" fill="#222" text-anchor="end"><tspan font-style="italic">P</tspan> 0.03</text>
<line x1="377.50" y1="495.80" x2="377.50" y2="524.20" stroke="#222" stroke-width="0.9" />
<text transform="translate(376.10,497.00) rotate(-90)" font-size="6.8" fill="#222" text-anchor="end"><tspan font-style="italic">P</tspan> 0.004</text>
<line x1="397.50" y1="495.80" x2="442.50" y2="495.80" stroke="#222" stroke-width="1.0" />
<line x1="413.70" y1="495.80" x2="413.70" y2="516.00" stroke="#222" stroke-width="0.9" />
<text transform="translate(412.30,497.00) rotate(-90)" font-size="6.8" fill="#222" text-anchor="end"><tspan font-style="italic">P</tspan> 0.01</text>
<line x1="428.00" y1="495.80" x2="428.00" y2="524.20" stroke="#222" stroke-width="0.9" />
<text transform="translate(426.60,497.00) rotate(-90)" font-size="6.8" fill="#222" text-anchor="end"><tspan font-style="italic">P</tspan> 0.03</text>
<line x1="442.50" y1="495.80" x2="442.50" y2="524.20" stroke="#222" stroke-width="0.9" />
<text transform="translate(441.10,497.00) rotate(-90)" font-size="6.8" fill="#222" text-anchor="end"><tspan font-style="italic">P</tspan> 0.02</text>
<text transform="translate(284.40,571.40) rotate(-90)" font-size="8.50" fill="#222" textLength="69.40" lengthAdjust="spacingAndGlyphs" stroke="#222" stroke-width="0.12">mRNA expression</text>
<text transform="translate(296.40,570.30) rotate(-90)" font-size="8.5" fill="#222" textLength="70.30" lengthAdjust="spacingAndGlyphs">MWCL.1 (2<tspan font-size="5.2" dy="-3.4">-ΔΔCt</tspan><tspan dy="3.4">)</tspan></text>
<rect x="219.80" y="492.90" width="10.40" height="6.90" fill="#64a83c" />
<rect x="219.80" y="506.00" width="10.40" height="7.10" fill="#a8102e" />
<text x="234.00" y="499.30" font-size="8.80" fill="#222" textLength="28.60" lengthAdjust="spacingAndGlyphs" stroke="#222" stroke-width="0.12">MYD88</text>
<text x="234.00" y="512.40" font-size="8.80" fill="#222" textLength="17.30" lengthAdjust="spacingAndGlyphs" stroke="#222" stroke-width="0.12">HCK</text>
<rect x="456.70" y="494.40" width="10.40" height="6.90" fill="#64a83c" />
<rect x="456.70" y="507.50" width="10.40" height="7.10" fill="#a8102e" />
<text x="471.00" y="500.80" font-size="8.80" fill="#222" textLength="28.60" lengthAdjust="spacingAndGlyphs" stroke="#222" stroke-width="0.12">MYD88</text>
<text x="471.00" y="513.90" font-size="8.80" fill="#222" textLength="17.30" lengthAdjust="spacingAndGlyphs" stroke="#222" stroke-width="0.12">HCK</text>
<text x="125.50" y="612.50" font-size="9.60" fill="#222" textLength="51.40" lengthAdjust="spacingAndGlyphs" stroke="#222" stroke-width="0.12">NSC12 [μM]</text>
<text x="363.00" y="612.80" font-size="9.60" fill="#222" textLength="50.00" lengthAdjust="spacingAndGlyphs" stroke="#222" stroke-width="0.12">NSC12 [μM]</text>
<text x="304.00" y="652.30" font-size="9.80" fill="#111" textLength="49.70" lengthAdjust="spacingAndGlyphs" stroke="#111" stroke-width="0.12">NSC12 [μm]</text>
<text x="369.00" y="638.30" font-size="9.80" fill="#111" textLength="33.00" lengthAdjust="spacingAndGlyphs" stroke="#111" stroke-width="0.12">BCWM1</text>
<line x1="354.50" y1="643.00" x2="418.60" y2="643.00" stroke="#333" stroke-width="1.2" />
<text x="366.60" y="652.30" font-size="9.80" fill="#111" text-anchor="middle" stroke="#111" stroke-width="0.12">0</text>
<text x="387.40" y="652.30" font-size="9.80" fill="#111" text-anchor="middle" stroke="#111" stroke-width="0.12">3</text>
<text x="409.00" y="652.30" font-size="9.80" fill="#111" text-anchor="middle" stroke="#111" stroke-width="0.12">6</text>
<text x="456.50" y="638.30" font-size="9.80" fill="#111" textLength="33.40" lengthAdjust="spacingAndGlyphs" stroke="#111" stroke-width="0.12">MWCL1</text>
<line x1="441.00" y1="643.00" x2="507.50" y2="643.00" stroke="#333" stroke-width="1.2" />
<text x="448.70" y="652.30" font-size="9.80" fill="#111" text-anchor="middle" stroke="#111" stroke-width="0.12">0</text>
<text x="471.80" y="652.30" font-size="9.80" fill="#111" text-anchor="middle" stroke="#111" stroke-width="0.12">3</text>
<text x="491.80" y="652.30" font-size="9.80" fill="#111" text-anchor="middle" stroke="#111" stroke-width="0.12">6</text>
<text x="328.90" y="665.20" font-size="9.80" fill="#111" textLength="25.00" lengthAdjust="spacingAndGlyphs" stroke="#111" stroke-width="0.12">c-Myc</text>
<text x="321.40" y="688.30" font-size="9.80" fill="#111" textLength="32.50" lengthAdjust="spacingAndGlyphs" stroke="#111" stroke-width="0.12">GAPDH</text>
<linearGradient id="cm1" x1="0" x2="1" y1="0" y2="0"><stop offset="0" stop-color="#1a1a1a"/><stop offset="0.08" stop-color="#555"/><stop offset="0.3" stop-color="#c8c8c8"/><stop offset="1" stop-color="#e2e2e2"/></linearGradient>
<rect x="357.70" y="658.50" width="67.70" height="12.30" fill="url(#cm1)" />
<g filter="url(#bl1)">
<rect x="358.20" y="660.50" width="20.31" height="2.2" rx="1" fill="#101010" opacity="0.90"/>
<rect x="358.20" y="667.80" width="21.66" height="1.6" rx="0.8" fill="#303030" opacity="0.80"/>
<rect x="357.70" y="659.00" width="4" height="11.30" fill="#000" opacity="0.8"/>
</g>
<rect x="356.90" y="677.40" width="68.10" height="19.50" fill="#e0e0e0" />
<g filter="url(#bl2)">
<rect x="359.50" y="683.60" width="21.50" height="5.60" rx="4.50" ry="2.80" fill="#030303"/>
<rect x="380.50" y="683.60" width="22.00" height="5.60" rx="4.50" ry="2.80" fill="#030303"/>
<rect x="402.00" y="683.60" width="22.00" height="5.60" rx="4.50" ry="2.80" fill="#030303"/>
</g>
<linearGradient id="cm2" x1="0" x2="1" y1="0" y2="0"><stop offset="0" stop-color="#1a1a1a"/><stop offset="0.08" stop-color="#555"/><stop offset="0.3" stop-color="#c8c8c8"/><stop offset="1" stop-color="#e2e2e2"/></linearGradient>
<rect x="441.50" y="658.90" width="70.40" height="12.60" fill="url(#cm2)" />
<g filter="url(#bl1)">
<rect x="442.00" y="660.90" width="21.12" height="2.2" rx="1" fill="#101010" opacity="0.63"/>
<rect x="442.00" y="668.50" width="22.53" height="1.6" rx="0.8" fill="#303030" opacity="0.56"/>
<rect x="441.50" y="659.40" width="4" height="11.60" fill="#000" opacity="0.8"/>
</g>
<rect x="441.50" y="678.90" width="70.40" height="16.90" fill="#dedede" />
<g filter="url(#bl2)">
<rect x="443.50" y="683.80" width="23.00" height="5.60" rx="4.50" ry="2.80" fill="#030303"/>
<rect x="466.00" y="683.80" width="23.00" height="5.60" rx="4.50" ry="2.80" fill="#030303"/>
<rect x="488.50" y="683.80" width="22.50" height="5.60" rx="4.50" ry="2.80" fill="#030303"/>
</g>
<rect x="0" y="0" width="520" height="1" fill="#000"/>
<rect x="0" y="0" width="1" height="787" fill="#000"/>
<rect x="518.4" y="0" width="1.6" height="787" fill="#000"/>
<rect x="0" y="785.4" width="520" height="1.6" fill="#000"/>
</svg>
</body></html>
